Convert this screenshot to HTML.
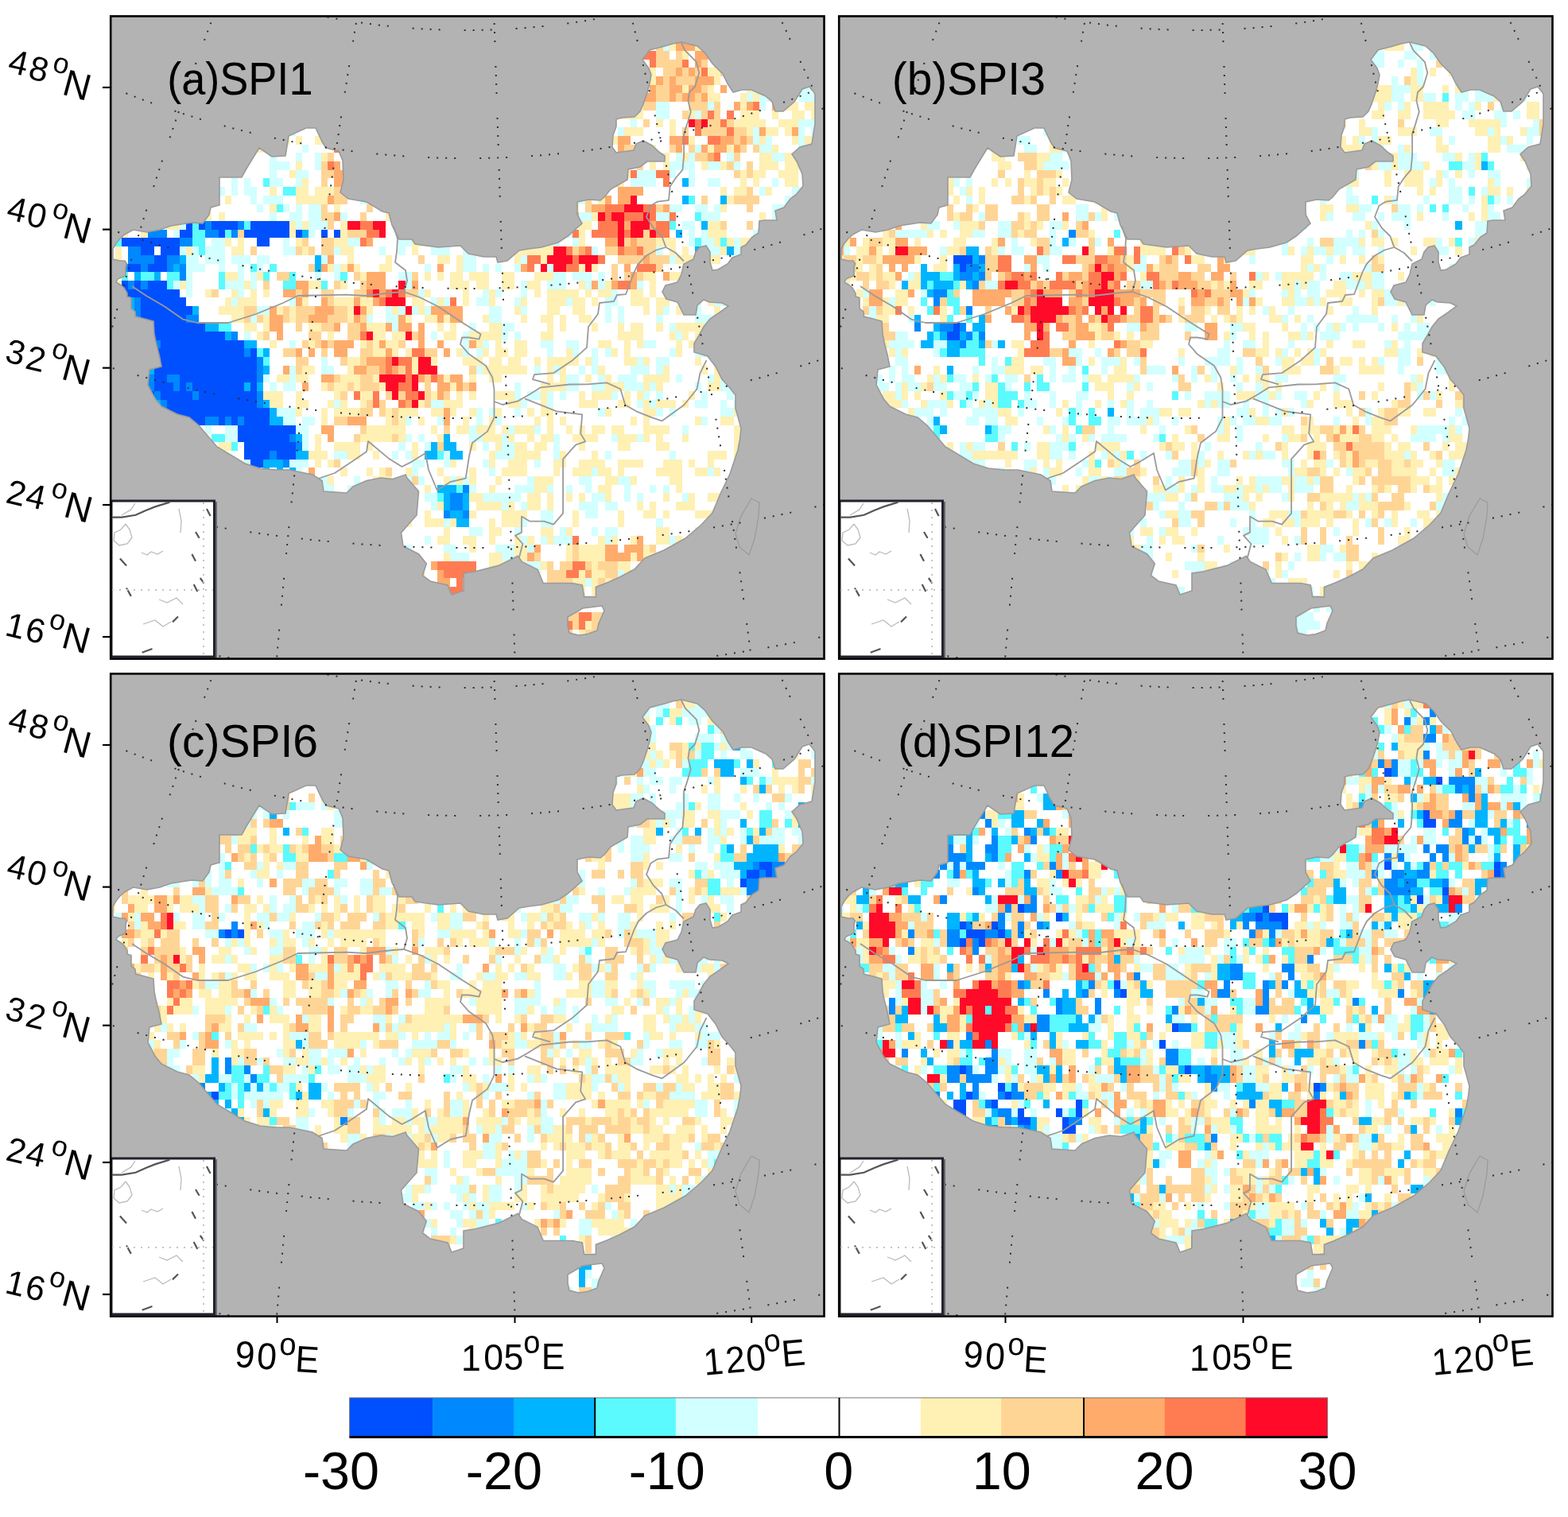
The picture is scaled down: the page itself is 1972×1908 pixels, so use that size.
<!DOCTYPE html><html><head><meta charset="utf-8"><title>SPI maps</title><style>html,body{margin:0;padding:0;background:#fff;}svg{display:block;}text{font-family:"Liberation Sans",Arial,sans-serif;}</style></head><body>
<svg xmlns="http://www.w3.org/2000/svg" width="1972" height="1908" viewBox="0 0 1972 1908">
<defs>
<path id="land" d="M142 313 L146 306 L151 300 L156.5 295 L167.5 289 L185 292 L201 289 L215 284 L241 280 L255 281 L263 270 L265 261 L276 258 L276 223 L304 223 L310 212 L321 194 L326 186 L342 197 L359 196 L363 171 L385 161 L397 161 L405 178 L410 186 L426 190 L431 202 L432 226 L428 242 L438 250 L461 254 L481 266 L489 268 L493 283 L502 301 L518 301 L522 307 L551 311 L579 309 L589 319 L608 323 L624 323 L626 330 L638 328 L653 315 L665 313 L681 311 L702 305 L714 297 L732 281 L726 270 L726 254 L740 251 L755 252 L760 248 L768 238 L789 226 L790 213 L805 210 L814 203 L836 203 L836 196 L830 192 L820 183 L809 177 L800 181 L797 189 L775 192 L770 185 L771 170 L775 159 L775 150 L782 148 L798 147 L805 140 L809 131 L814 116 L817 105 L819 94 L816 86 L808 75 L817 63 L836 58 L846 55 L857 53 L877 58 L887 67 L896 80 L909 93 L915 105 L922 116 L933 113 L945 113 L963 121 L971 128 L975 140 L985 140 L999 128 L1009 112 L1018 109 L1025 118 L1025 156 L1021 181 L1006 185 L996 194 L1002 203 L1009 219 L1010 234 L1001 245 L994 250 L986 261 L975 265 L977 277 L962 277 L955 278 L954 293 L946 298 L938 308 L932 311 L932 320 L921 324 L915 332 L903 339 L896 340 L893 330 L893 317 L888 309 L880 311 L875 317 L872 326 L860 332 L857 345 L852 355 L837 359 L833 367 L838 376 L852 380 L860 396 L875 396 L877 384 L885 377 L892 380 L908 381 L916 385 L905 393 L893 401 L885 411 L879 422 L873 432 L873 443 L890 448 L893 452 L900 461 L908 477 L918 488 L925 497 L925 514 L928 524 L932 539 L930.6 552 L928 566 L918 596 L906 621 L896 645 L882 660 L862 677 L835 692 L811 702 L798 716 L779 726 L762 733.5 L749.4 738.4 L749.4 750.6 L734.7 750.6 L732.3 736 L720 733.5 L683.3 733.5 L676 716.3 L656.3 706.5 L651.4 699.2 L627 711.4 L597.6 718.8 L583 721 L583 743 L568 748 L563 736 L541 731 L531.4 723.7 L536.3 709 L526.5 696.7 L507 687 L504.5 670 L515 658 L524 648 L526.5 618 L511.8 601 L510 597 L494 602.5 L479 601 L461 604.5 L444 612 L436 620 L407 618 L405 604.5 L393 597 L364 591 L347 591 L327 589 L308 583 L289 571.5 L273 562 L261 548 L250 535 L238 525 L223 521 L203 511 L195.5 502 L186 484 L188 465 L203 461 L200 446 L196 430 L194 420 L193 404 L182 401 L170.5 398 L170 392 L165 388 L165 374.5 L160 373 L160 368.6 L156 362 L151 358 L146 355 L148 351 L158 346.5 L158 336 L159.4 331.7 L157 328 L151 328 L142 326Z M714 776 L733 765 L757 762 L760 768 L753 784 L751 793 L739 797.5 L728 799 L716 796 L714 787Z"/>
<clipPath id="clipLand"><use href="#land"/></clipPath>
<clipPath id="clipPanel"><rect x="140" y="21" width="896" height="807"/></clipPath>
<g id="rivers" fill="none" stroke="#9a9a9a" stroke-width="1.8" stroke-linejoin="round"><polyline points="166,360 184,372 207,385.5 230,401.6 248,406 287,406 322,395 356,381 374.5,372 436,370.6 459,372 494,368 508,367 528,374 551,385.5 581,405.5 604.6,420.3 602.5,426.6 590,424.5 581,424.5 579,433 590,445.6 611,460 619.4,475 621.5,490 621.5,525.7 613,542.6 594,557 590,574 585.7,601.7 566.7,606 549.8,616.5 539,591 535,570 518,580.6 505.5,587 488.6,576.4 463,555 461,568 442,581 421,595 400,602"/><polyline points="508,367 512,353 510,340 497,330 499,317 500,300 495,285"/><polyline points="621.5,505 632,509 651,504.6 664,497.3 680,487.3 716.5,483.5 738,483.3 763,481.4 780.3,489.3 786.3,509.3 800.3,517.3 820.4,525.3 832.4,529.4 860.4,509.3 876.5,489.3 880.5,469.2 888.5,453.2"/><polyline points="692,483.3 670,477.2 672,471.2 696,469.2 720,453.2 738,437.2 740,411 752,395 754,381 772,379 776,371 787,370.2 792.3,356.3 797.5,342.4 802.7,332 813,321.5 825.3,314.5 837.5,311 832.3,297 821.8,286.7 813,272.8 818.4,258.8 827,253.6 841,251.9 842.7,234.5 849.7,224 858.4,213.6 860.1,196.2 860.1,168.3 863.6,157.9 868.8,140.5 865.4,126.6 867,116 874,109 879.3,91.7 875.8,77.8 861.9,63.9 857,54"/><polyline points="837.5,311 849.7,318 860,328.5"/><polyline points="660,501.3 700,517.3 732.2,521.3 730.2,545.4 736.2,555.4 724.2,559.4 708.1,577.4 708.1,645.6 696.1,659.6 684.1,655.6 666,655.6 656,649.6 656,669.6 648,673.6 657.4,684 653,701"/></g>
<g id="grat" clip-path="url(#clipPanel)" fill="none" stroke="#2e2e2e" stroke-width="2" stroke-dasharray="2 9 2 9 2 9 2 30"><path d="M146.6 -71.8 A938.0 938.0 0 0 0 1027.4 -71.8"/><path d="M40.5 62.8 A1164.0 1164.0 0 0 0 1133.5 62.8"/><path d="M-61.0 201.9 A1376.0 1376.0 0 0 0 1231.0 201.9"/><path d="M-128.6 351.8 A1488.0 1488.0 0 0 0 1268.6 351.8"/><path d="M-300.3 467.8 A1890.0 1890.0 0 0 0 1474.3 467.8"/><path d="M-421.4 596.6 A2148.0 2148.0 0 0 0 1595.4 596.6"/><polyline points="269.3,18.0 263.0,34.8 256.7,51.5 250.5,68.2 244.4,85.0 238.4,101.8 232.4,118.5 226.6,135.2 220.8,152.0 215.1,168.8 209.4,185.5 203.9,202.2 198.4,219.0 193.0,235.8 187.7,252.5 182.5,269.2 177.3,286.0 172.2,302.8 167.2,319.5 162.3,336.2 157.4,353.0 152.7,369.8 148.0,386.5 143.4,403.2 138.8,420.0"/><polyline points="449.7,18.0 444.1,51.8 438.6,85.7 433.3,119.5 428.0,153.3 422.9,187.2 417.9,221.0 413.1,254.8 408.3,288.7 403.6,322.5 399.1,356.3 394.7,390.2 390.4,424.0 386.2,457.8 382.2,491.7 378.2,525.5 374.4,559.3 370.7,593.2 367.1,627.0 363.6,660.8 360.2,694.7 357.0,728.5 353.8,762.3 350.8,796.2 347.9,830.0"/><polyline points="621.3,18.0 622.4,51.8 623.5,85.7 624.6,119.5 625.7,153.3 626.8,187.2 627.9,221.0 629.0,254.8 630.1,288.7 631.2,322.5 632.3,356.3 633.4,390.2 634.4,424.0 635.5,457.8 636.6,491.7 637.7,525.5 638.8,559.3 639.9,593.2 641.0,627.0 642.1,660.8 643.2,694.7 644.3,728.5 645.4,762.3 646.5,796.2 647.6,830.0"/><polyline points="793.2,18.0 801.6,51.8 809.8,85.7 817.8,119.5 825.6,153.3 833.3,187.2 840.8,221.0 848.1,254.8 855.2,288.7 862.1,322.5 868.9,356.3 875.5,390.2 881.9,424.0 888.1,457.8 894.2,491.7 900.1,525.5 905.8,559.3 911.3,593.2 916.7,627.0 921.8,660.8 926.8,694.7 931.7,728.5 936.3,762.3 940.8,796.2 945.1,830.0"/><polyline points="979.0,18.0 981.5,23.3 983.9,28.6 986.4,33.9 988.9,39.2 991.3,44.5 993.8,49.8 996.3,55.0 998.7,60.3 1001.2,65.6 1003.7,70.9 1006.1,76.2 1008.6,81.5 1011.1,86.8 1013.5,92.1 1016.0,97.4 1018.5,102.7 1020.9,108.0 1023.4,113.2 1025.9,118.5 1028.3,123.8 1030.8,129.1 1033.3,134.4 1035.7,139.7 1038.2,145.0"/></g>
<g id="insetc" fill="none"><g stroke="#555" stroke-width="2.2"><polyline points="140.5,650.7 153.2,650.7 170.6,647.8 183.4,642 195,637.4 213.5,631.6"/><polyline points="246,669 250.6,676.8"/><polyline points="241.4,697 246,705.8"/><polyline points="251.8,727 256.5,733.7"/><polyline points="243.7,735 248.3,744"/><polyline points="260,640 264.6,649"/><polyline points="159,739.5 164.8,749.9"/><polyline points="150.9,702.4 159,711.6"/><polyline points="217,782.4 224,775.5"/><polyline points="178.7,820.7 191.5,816"/></g><g stroke="#bbb" stroke-width="1.3"><polyline points="153,648 164.8,640.9 170,633"/><polyline points="158,659 163,666 166,676 160,684 150,686 143,680 144,670 152,666 158,659"/><polyline points="178,695 185,698 190,694 198,697 205,693"/><polyline points="200,754 210,758 222,752 230,760"/><polyline points="180,785 195,780 205,788 215,782"/><polyline points="225,640 228,655 227,670"/></g><g stroke="#c4c4c4" stroke-width="2" stroke-dasharray="2 7"><line x1="141" y1="742" x2="268" y2="742"/><line x1="256" y1="632" x2="256" y2="826"/></g></g>
</defs>
<g transform="translate(0,0)">
<rect x="140" y="21" width="896" height="807" fill="#b3b3b3"/>
<use href="#land" fill="#fff"/>
<g clip-path="url(#clipLand)">
<path fill="#fff0b4" d="M850 43h8v10h-8zM842 53h8v11h-8zM874 53h8v11h-8zM801 64h8v11h-8zM858 64h8v11h-8zM801 75h8v10h-8zM817 85h8v11h-8zM890 85h16v11h-16zM809 96h16v11h-16zM898 96h8v11h-8zM914 96h9v11h-9zM858 107h8v10h-8zM890 107h8v10h-8zM939 107h8v10h-8zM890 117h16v11h-16zM931 117h8v11h-8zM947 117h8v11h-8zM801 128h8v11h-8zM931 128h8v11h-8zM987 128h17v11h-17zM1012 128h16v11h-16zM777 139h32v11h-32zM866 139h8v11h-8zM931 139h24v11h-24zM971 139h8v11h-8zM996 139h16v11h-16zM1020 139h8v11h-8zM825 150h9v10h-9zM842 150h8v10h-8zM923 150h40v10h-40zM979 150h25v10h-25zM785 160h24v11h-24zM842 160h8v11h-8zM939 160h8v11h-8zM963 160h16v11h-16zM987 160h9v11h-9zM356 171h8v11h-8zM372 171h8v11h-8zM396 171h16v11h-16zM769 171h8v11h-8zM866 171h8v11h-8zM955 171h8v11h-8zM996 171h8v11h-8zM1012 171h16v11h-16zM315 182h16v10h-16zM817 182h8v10h-8zM890 182h8v10h-8zM914 182h9v10h-9zM971 182h8v10h-8zM404 192h8v11h-8zM825 192h17v11h-17zM858 192h8v11h-8zM955 192h16v11h-16zM987 192h17v11h-17zM372 203h8v11h-8zM817 203h8v11h-8zM834 203h8v11h-8zM882 203h8v11h-8zM906 203h8v11h-8zM955 203h24v11h-24zM987 203h25v11h-25zM364 214h8v10h-8zM785 214h8v10h-8zM931 214h8v10h-8zM947 214h16v10h-16zM979 214h25v10h-25zM380 224h8v11h-8zM777 224h8v11h-8zM931 224h8v11h-8zM947 224h8v11h-8zM987 224h17v11h-17zM266 235h9v11h-9zM339 235h9v11h-9zM372 235h16v11h-16zM396 235h24v11h-24zM906 235h8v11h-8zM923 235h16v11h-16zM963 235h8v11h-8zM283 246h8v11h-8zM372 246h40v11h-40zM720 246h8v11h-8zM752 246h9v11h-9zM914 246h9v11h-9zM996 246h8v11h-8zM339 257h9v10h-9zM420 257h8v10h-8zM720 257h8v10h-8zM906 257h8v10h-8zM258 267h8v11h-8zM275 267h8v11h-8zM485 267h8v11h-8zM744 267h8v11h-8zM955 267h8v11h-8zM210 278h16v11h-16zM364 278h8v11h-8zM380 278h8v11h-8zM428 278h9v11h-9zM728 278h16v11h-16zM890 278h16v11h-16zM153 289h8v10h-8zM177 289h9v10h-9zM364 289h8v10h-8zM428 289h9v10h-9zM728 289h8v10h-8zM890 289h24v10h-24zM283 299h8v11h-8zM299 299h8v11h-8zM372 299h8v11h-8zM420 299h17v11h-17zM518 299h16v11h-16zM542 299h8v11h-8zM688 299h8v11h-8zM728 299h8v11h-8zM825 299h25v11h-25zM898 299h8v11h-8zM914 299h9v11h-9zM931 299h16v11h-16zM145 310h8v11h-8zM234 310h8v11h-8zM291 310h16v11h-16zM380 310h8v11h-8zM428 310h17v11h-17zM518 310h8v11h-8zM590 310h9v11h-9zM647 310h49v11h-49zM842 310h8v11h-8zM858 310h8v11h-8zM906 310h8v11h-8zM145 321h8v11h-8zM437 321h8v11h-8zM485 321h8v11h-8zM550 321h16v11h-16zM574 321h8v11h-8zM647 321h8v11h-8zM680 321h8v11h-8zM850 321h32v11h-32zM890 321h16v11h-16zM412 332h8v10h-8zM428 332h9v10h-9zM445 332h8v10h-8zM477 332h16v10h-16zM574 332h8v10h-8zM728 332h8v10h-8zM744 332h8v10h-8zM858 332h8v10h-8zM283 342h16v11h-16zM323 342h8v11h-8zM453 342h8v11h-8zM534 342h8v11h-8zM550 342h8v11h-8zM566 342h16v11h-16zM590 342h25v11h-25zM631 342h16v11h-16zM672 342h24v11h-24zM809 342h16v11h-16zM842 342h16v11h-16zM145 353h8v11h-8zM226 353h8v11h-8zM307 353h8v11h-8zM388 353h16v11h-16zM428 353h9v11h-9zM566 353h24v11h-24zM599 353h16v11h-16zM631 353h16v11h-16zM663 353h17v11h-17zM728 353h8v11h-8zM761 353h8v11h-8zM817 353h8v11h-8zM258 364h8v10h-8zM291 364h8v10h-8zM315 364h8v10h-8zM331 364h8v10h-8zM534 364h8v10h-8zM582 364h8v10h-8zM615 364h8v10h-8zM672 364h8v10h-8zM688 364h40v10h-40zM736 364h8v10h-8zM752 364h17v10h-17zM793 364h16v10h-16zM817 364h8v10h-8zM283 374h8v11h-8zM299 374h24v11h-24zM380 374h8v11h-8zM420 374h25v11h-25zM453 374h16v11h-16zM518 374h16v11h-16zM550 374h8v11h-8zM582 374h8v11h-8zM615 374h8v11h-8zM655 374h8v11h-8zM688 374h24v11h-24zM720 374h16v11h-16zM744 374h8v11h-8zM793 374h24v11h-24zM825 374h17v11h-17zM890 374h8v11h-8zM275 385h32v11h-32zM348 385h8v11h-8zM364 385h8v11h-8zM437 385h8v11h-8zM461 385h8v11h-8zM493 385h8v11h-8zM526 385h8v11h-8zM647 385h8v11h-8zM688 385h16v11h-16zM720 385h16v11h-16zM809 385h8v11h-8zM825 385h9v11h-9zM850 385h8v11h-8zM898 385h8v11h-8zM291 396h16v10h-16zM331 396h8v10h-8zM364 396h8v10h-8zM437 396h8v10h-8zM510 396h8v10h-8zM534 396h16v10h-16zM558 396h8v10h-8zM607 396h8v10h-8zM655 396h8v10h-8zM680 396h16v10h-16zM704 396h8v10h-8zM728 396h16v10h-16zM898 396h8v10h-8zM307 406h16v11h-16zM331 406h8v11h-8zM388 406h16v11h-16zM461 406h24v11h-24zM550 406h8v11h-8zM566 406h8v11h-8zM615 406h16v11h-16zM688 406h8v11h-8zM704 406h8v11h-8zM744 406h8v11h-8zM777 406h8v11h-8zM793 406h16v11h-16zM825 406h9v11h-9zM850 406h40v11h-40zM323 417h8v11h-8zM412 417h8v11h-8zM469 417h16v11h-16zM493 417h17v11h-17zM558 417h16v11h-16zM590 417h41v11h-41zM680 417h16v11h-16zM777 417h32v11h-32zM842 417h8v11h-8zM858 417h8v11h-8zM874 417h8v11h-8zM339 428h9v10h-9zM388 428h8v10h-8zM453 428h8v10h-8zM469 428h8v10h-8zM485 428h16v10h-16zM599 428h8v10h-8zM623 428h8v10h-8zM647 428h16v10h-16zM752 428h17v10h-17zM785 428h8v10h-8zM801 428h8v10h-8zM850 428h8v10h-8zM866 428h8v10h-8zM469 438h16v11h-16zM493 438h8v11h-8zM510 438h8v11h-8zM574 438h8v11h-8zM607 438h8v11h-8zM623 438h16v11h-16zM647 438h16v11h-16zM712 438h8v11h-8zM769 438h8v11h-8zM785 438h8v11h-8zM850 438h8v11h-8zM437 449h16v11h-16zM518 449h8v11h-8zM542 449h8v11h-8zM582 449h25v11h-25zM615 449h16v11h-16zM639 449h16v11h-16zM672 449h8v11h-8zM688 449h40v11h-40zM736 449h8v11h-8zM785 449h16v11h-16zM809 449h8v11h-8zM874 449h8v11h-8zM380 460h16v11h-16zM437 460h8v11h-8zM518 460h8v11h-8zM607 460h56v11h-56zM688 460h8v11h-8zM704 460h8v11h-8zM752 460h9v11h-9zM834 460h8v11h-8zM882 460h8v11h-8zM898 460h8v11h-8zM348 471h16v10h-16zM372 471h16v10h-16zM428 471h25v10h-25zM469 471h8v10h-8zM558 471h8v10h-8zM590 471h9v10h-9zM615 471h16v10h-16zM688 471h8v10h-8zM704 471h8v10h-8zM736 471h8v10h-8zM761 471h8v10h-8zM809 471h33v10h-33zM898 471h8v10h-8zM404 481h8v11h-8zM420 481h17v11h-17zM445 481h8v11h-8zM477 481h8v11h-8zM566 481h8v11h-8zM680 481h32v11h-32zM761 481h24v11h-24zM809 481h8v11h-8zM825 481h9v11h-9zM890 481h16v11h-16zM331 492h25v11h-25zM372 492h8v11h-8zM420 492h8v11h-8zM453 492h16v11h-16zM542 492h8v11h-8zM574 492h8v11h-8zM590 492h9v11h-9zM623 492h24v11h-24zM680 492h8v11h-8zM728 492h8v11h-8zM744 492h25v11h-25zM785 492h8v11h-8zM801 492h8v11h-8zM866 492h8v11h-8zM339 503h17v10h-17zM372 503h16v10h-16zM412 503h8v10h-8zM428 503h9v10h-9zM453 503h8v10h-8zM526 503h8v10h-8zM558 503h24v10h-24zM639 503h16v10h-16zM680 503h8v10h-8zM728 503h24v10h-24zM777 503h16v10h-16zM809 503h8v10h-8zM825 503h25v10h-25zM858 503h8v10h-8zM372 513h8v11h-8zM404 513h8v11h-8zM420 513h33v11h-33zM485 513h8v11h-8zM501 513h25v11h-25zM542 513h16v11h-16zM566 513h8v11h-8zM590 513h9v11h-9zM623 513h8v11h-8zM663 513h9v11h-9zM680 513h16v11h-16zM761 513h8v11h-8zM809 513h16v11h-16zM923 513h8v11h-8zM404 524h8v11h-8zM485 524h8v11h-8zM501 524h9v11h-9zM526 524h8v11h-8zM582 524h8v11h-8zM615 524h8v11h-8zM672 524h8v11h-8zM688 524h8v11h-8zM704 524h8v11h-8zM793 524h8v11h-8zM809 524h8v11h-8zM874 524h8v11h-8zM906 524h17v11h-17zM461 535h49v11h-49zM542 535h8v11h-8zM574 535h16v11h-16zM599 535h24v11h-24zM631 535h8v11h-8zM647 535h25v11h-25zM688 535h8v11h-8zM712 535h8v11h-8zM728 535h8v11h-8zM744 535h17v11h-17zM769 535h16v11h-16zM809 535h33v11h-33zM923 535h8v11h-8zM396 546h8v10h-8zM453 546h40v10h-40zM501 546h9v10h-9zM550 546h8v10h-8zM607 546h24v10h-24zM639 546h8v10h-8zM663 546h9v10h-9zM680 546h16v10h-16zM720 546h32v10h-32zM777 546h24v10h-24zM809 546h8v10h-8zM825 546h9v10h-9zM858 546h8v10h-8zM923 546h8v10h-8zM275 556h16v11h-16zM396 556h8v11h-8zM420 556h33v11h-33zM461 556h8v11h-8zM518 556h8v11h-8zM590 556h9v11h-9zM623 556h8v11h-8zM647 556h16v11h-16zM672 556h16v11h-16zM728 556h8v11h-8zM777 556h16v11h-16zM825 556h17v11h-17zM923 556h8v11h-8zM388 567h24v11h-24zM437 567h16v11h-16zM469 567h8v11h-8zM518 567h8v11h-8zM615 567h8v11h-8zM647 567h33v11h-33zM704 567h8v11h-8zM744 567h8v11h-8zM890 567h24v11h-24zM923 567h8v11h-8zM396 578h8v10h-8zM412 578h8v10h-8zM566 578h8v10h-8zM615 578h8v10h-8zM639 578h24v10h-24zM696 578h16v10h-16zM728 578h33v10h-33zM777 578h32v10h-32zM834 578h24v10h-24zM866 578h8v10h-8zM890 578h8v10h-8zM428 588h9v11h-9zM461 588h8v11h-8zM477 588h8v11h-8zM510 588h8v11h-8zM550 588h8v11h-8zM590 588h9v11h-9zM631 588h32v11h-32zM696 588h8v11h-8zM720 588h24v11h-24zM752 588h17v11h-17zM777 588h8v11h-8zM825 588h33v11h-33zM874 588h16v11h-16zM898 588h8v11h-8zM412 599h8v11h-8zM469 599h24v11h-24zM501 599h9v11h-9zM558 599h8v11h-8zM574 599h8v11h-8zM590 599h9v11h-9zM623 599h8v11h-8zM672 599h24v11h-24zM761 599h16v11h-16zM793 599h8v11h-8zM842 599h16v11h-16zM534 610h8v10h-8zM615 610h8v10h-8zM672 610h16v10h-16zM752 610h17v10h-17zM850 610h8v10h-8zM428 620h9v11h-9zM590 620h17v11h-17zM663 620h17v11h-17zM688 620h8v11h-8zM712 620h8v11h-8zM728 620h8v11h-8zM761 620h8v11h-8zM834 620h8v11h-8zM866 620h8v11h-8zM890 620h16v11h-16zM550 631h8v11h-8zM599 631h32v11h-32zM639 631h8v11h-8zM663 631h17v11h-17zM688 631h8v11h-8zM801 631h8v11h-8zM817 631h8v11h-8zM850 631h24v11h-24zM534 642h8v10h-8zM590 642h9v10h-9zM631 642h32v10h-32zM720 642h8v10h-8zM777 642h8v10h-8zM809 642h16v10h-16zM834 642h8v10h-8zM874 642h24v10h-24zM510 652h8v11h-8zM534 652h24v11h-24zM566 652h8v11h-8zM615 652h8v11h-8zM631 652h24v11h-24zM720 652h8v11h-8zM777 652h8v11h-8zM558 663h8v11h-8zM615 663h16v11h-16zM680 663h16v11h-16zM712 663h8v11h-8zM825 663h17v11h-17zM874 663h8v11h-8zM550 674h16v11h-16zM582 674h17v11h-17zM615 674h8v11h-8zM647 674h8v11h-8zM663 674h9v11h-9zM688 674h8v11h-8zM752 674h9v11h-9zM769 674h8v11h-8zM793 674h8v11h-8zM825 674h17v11h-17zM850 674h8v11h-8zM590 685h9v10h-9zM647 685h16v10h-16zM712 685h8v10h-8zM728 685h33v10h-33zM809 685h8v10h-8zM558 695h8v11h-8zM615 695h16v11h-16zM647 695h16v11h-16zM712 695h8v11h-8zM728 695h33v11h-33zM793 695h8v11h-8zM809 695h25v11h-25zM615 706h24v11h-24zM680 706h8v11h-8zM744 706h8v11h-8zM777 706h16v11h-16zM672 717h8v10h-8zM728 717h8v10h-8zM744 717h17v10h-17zM785 717h8v10h-8zM720 727h16v11h-16zM744 727h8v11h-8zM761 727h8v11h-8zM728 738h8v11h-8zM744 738h8v11h-8zM761 760h8v10h-8zM736 781h8v11h-8zM728 792h8v10h-8z"/>
<path fill="#d2ffff" d="M834 53h8v11h-8zM809 107h8v10h-8zM947 107h8v10h-8zM1004 107h16v10h-16zM939 117h8v11h-8zM955 117h16v11h-16zM1004 117h24v11h-24zM825 128h17v11h-17zM890 128h8v11h-8zM955 128h8v11h-8zM825 139h17v11h-17zM874 139h8v11h-8zM793 150h8v10h-8zM1004 150h24v10h-24zM364 160h8v11h-8zM777 160h8v11h-8zM947 160h8v11h-8zM1004 160h8v11h-8zM1020 160h8v11h-8zM947 171h8v11h-8zM963 171h8v11h-8zM1004 171h8v11h-8zM380 182h8v10h-8zM874 182h8v10h-8zM955 182h16v10h-16zM1004 182h16v10h-16zM339 192h9v11h-9zM372 192h8v11h-8zM396 192h8v11h-8zM850 192h8v11h-8zM866 192h8v11h-8zM914 192h9v11h-9zM971 192h16v11h-16zM339 203h25v11h-25zM396 203h8v11h-8zM785 203h8v11h-8zM842 203h32v11h-32zM890 203h16v11h-16zM923 203h8v11h-8zM291 214h8v10h-8zM339 214h9v10h-9zM372 214h16v10h-16zM801 214h24v10h-24zM842 214h8v10h-8zM866 214h8v10h-8zM266 224h9v11h-9zM291 224h8v11h-8zM307 224h8v11h-8zM339 224h17v11h-17zM372 224h8v11h-8zM793 224h32v11h-32zM866 224h8v11h-8zM890 224h16v11h-16zM971 224h8v11h-8zM275 235h8v11h-8zM291 235h8v11h-8zM307 235h16v11h-16zM955 235h8v11h-8zM996 235h16v11h-16zM315 246h8v11h-8zM331 246h25v11h-25zM453 246h16v11h-16zM728 246h8v11h-8zM987 246h9v11h-9zM323 257h8v10h-8zM356 257h8v10h-8zM372 257h8v10h-8zM388 257h16v10h-16zM477 257h8v10h-8zM842 257h16v10h-16zM874 257h16v10h-16zM898 257h8v10h-8zM971 257h25v10h-25zM250 267h8v11h-8zM339 267h9v11h-9zM364 267h16v11h-16zM388 267h16v11h-16zM428 267h9v11h-9zM728 267h16v11h-16zM825 267h17v11h-17zM882 267h24v11h-24zM971 267h8v11h-8zM194 278h16v11h-16zM226 278h8v11h-8zM372 278h8v11h-8zM388 278h24v11h-24zM858 278h16v11h-16zM955 278h8v11h-8zM145 289h8v10h-8zM218 289h8v10h-8zM388 289h8v10h-8zM712 289h8v10h-8zM866 289h8v10h-8zM882 289h8v10h-8zM947 289h8v10h-8zM266 299h17v11h-17zM356 299h8v11h-8zM437 299h16v11h-16zM501 299h17v11h-17zM534 299h8v11h-8zM558 299h16v11h-16zM696 299h8v11h-8zM720 299h8v11h-8zM866 299h8v11h-8zM882 299h16v11h-16zM923 299h8v11h-8zM226 310h8v11h-8zM242 310h8v11h-8zM258 310h25v11h-25zM356 310h16v11h-16zM420 310h8v11h-8zM477 310h8v11h-8zM501 310h9v11h-9zM542 310h24v11h-24zM582 310h8v11h-8zM744 310h8v11h-8zM825 310h9v11h-9zM882 310h24v11h-24zM923 310h16v11h-16zM234 321h16v11h-16zM258 321h25v11h-25zM291 321h24v11h-24zM323 321h16v11h-16zM404 321h8v11h-8zM582 321h17v11h-17zM655 321h8v11h-8zM842 321h8v11h-8zM234 332h24v10h-24zM275 332h8v10h-8zM299 332h8v10h-8zM323 332h8v10h-8zM420 332h8v10h-8zM534 332h8v10h-8zM582 332h17v10h-17zM607 332h8v10h-8zM623 332h8v10h-8zM647 332h8v10h-8zM688 332h8v10h-8zM234 342h8v11h-8zM299 342h8v11h-8zM315 342h8v11h-8zM396 342h8v11h-8zM420 342h8v11h-8zM501 342h17v11h-17zM696 342h16v11h-16zM720 342h24v11h-24zM752 342h9v11h-9zM858 342h8v11h-8zM218 353h8v11h-8zM234 353h8v11h-8zM283 353h24v11h-24zM315 353h8v11h-8zM510 353h8v11h-8zM655 353h8v11h-8zM688 353h24v11h-24zM736 353h8v11h-8zM752 353h9v11h-9zM801 353h8v11h-8zM850 353h8v11h-8zM234 364h8v10h-8zM299 364h8v10h-8zM526 364h8v10h-8zM607 364h8v10h-8zM623 364h8v10h-8zM655 364h8v10h-8zM769 364h8v10h-8zM291 374h8v11h-8zM364 374h8v11h-8zM542 374h8v11h-8zM558 374h8v11h-8zM599 374h16v11h-16zM647 374h8v11h-8zM712 374h8v11h-8zM761 374h16v11h-16zM874 374h8v11h-8zM898 374h16v11h-16zM323 385h16v11h-16zM485 385h8v11h-8zM501 385h9v11h-9zM518 385h8v11h-8zM534 385h8v11h-8zM615 385h16v11h-16zM655 385h8v11h-8zM761 385h8v11h-8zM777 385h8v11h-8zM834 385h8v11h-8zM874 385h8v11h-8zM315 396h8v10h-8zM461 396h8v10h-8zM485 396h16v10h-16zM615 396h16v10h-16zM761 396h8v10h-8zM777 396h8v10h-8zM825 396h9v10h-9zM874 396h24v10h-24zM493 406h8v11h-8zM590 406h9v11h-9zM631 406h16v11h-16zM842 406h8v11h-8zM307 417h8v11h-8zM542 417h8v11h-8zM582 417h8v11h-8zM631 417h8v11h-8zM647 417h8v11h-8zM850 417h8v11h-8zM364 428h8v10h-8zM582 428h8v10h-8zM607 428h8v10h-8zM680 428h16v10h-16zM712 428h16v10h-16zM809 428h16v10h-16zM582 438h8v11h-8zM599 438h8v11h-8zM688 438h8v11h-8zM720 438h8v11h-8zM744 438h8v11h-8zM761 438h8v11h-8zM842 438h8v11h-8zM874 438h16v11h-16zM404 449h8v11h-8zM744 449h8v11h-8zM801 449h8v11h-8zM825 449h17v11h-17zM898 449h8v11h-8zM364 460h8v11h-8zM404 460h16v11h-16zM599 460h8v11h-8zM672 460h8v11h-8zM696 460h8v11h-8zM728 460h8v11h-8zM744 460h8v11h-8zM793 460h24v11h-24zM825 460h9v11h-9zM331 471h8v10h-8zM364 471h8v10h-8zM712 471h16v10h-16zM752 471h9v10h-9zM777 471h24v10h-24zM850 471h8v10h-8zM890 471h8v10h-8zM906 471h8v10h-8zM339 481h9v11h-9zM356 481h16v11h-16zM647 481h8v11h-8zM712 481h16v11h-16zM744 481h17v11h-17zM785 481h24v11h-24zM817 481h8v11h-8zM874 481h8v11h-8zM906 481h17v11h-17zM647 492h8v11h-8zM663 492h17v11h-17zM688 492h8v11h-8zM704 492h8v11h-8zM769 492h8v11h-8zM809 492h8v11h-8zM825 492h9v11h-9zM882 492h8v11h-8zM914 492h9v11h-9zM420 503h8v10h-8zM542 503h16v10h-16zM655 503h8v10h-8zM688 503h8v10h-8zM801 503h8v10h-8zM817 503h8v10h-8zM874 503h16v10h-16zM906 503h8v10h-8zM923 503h8v10h-8zM348 513h24v11h-24zM599 513h8v11h-8zM615 513h8v11h-8zM647 513h8v11h-8zM752 513h9v11h-9zM825 513h9v11h-9zM842 513h8v11h-8zM906 513h17v11h-17zM356 524h16v11h-16zM380 524h16v11h-16zM510 524h8v11h-8zM550 524h8v11h-8zM599 524h8v11h-8zM623 524h8v11h-8zM882 524h8v11h-8zM258 535h8v11h-8zM283 535h16v11h-16zM372 535h16v11h-16zM590 535h9v11h-9zM639 535h8v11h-8zM672 535h8v11h-8zM858 535h8v11h-8zM283 546h16v10h-16zM380 546h8v10h-8zM510 546h8v10h-8zM526 546h8v10h-8zM590 546h17v10h-17zM631 546h8v10h-8zM696 546h8v10h-8zM769 546h8v10h-8zM801 546h8v10h-8zM931 546h8v10h-8zM380 556h8v11h-8zM501 556h9v11h-9zM534 556h8v11h-8zM607 556h8v11h-8zM631 556h16v11h-16zM696 556h8v11h-8zM420 567h17v11h-17zM493 567h8v11h-8zM510 567h8v11h-8zM558 567h8v11h-8zM623 567h24v11h-24zM696 567h8v11h-8zM761 567h8v11h-8zM842 567h8v11h-8zM307 578h8v10h-8zM364 578h24v10h-24zM518 578h16v10h-16zM558 578h8v10h-8zM607 578h8v10h-8zM672 578h8v10h-8zM323 588h8v11h-8zM356 588h8v11h-8zM372 588h8v11h-8zM518 588h8v11h-8zM615 588h8v11h-8zM744 588h8v11h-8zM890 588h8v11h-8zM404 599h8v11h-8zM445 599h8v11h-8zM510 599h8v11h-8zM526 599h8v11h-8zM566 599h8v11h-8zM582 599h8v11h-8zM663 599h9v11h-9zM728 599h16v11h-16zM777 599h16v11h-16zM404 610h16v10h-16zM437 610h16v10h-16zM590 610h9v10h-9zM647 610h25v10h-25zM688 610h8v10h-8zM712 610h8v10h-8zM736 610h8v10h-8zM785 610h8v10h-8zM817 610h8v10h-8zM834 610h8v10h-8zM534 620h16v11h-16zM607 620h48v11h-48zM744 620h17v11h-17zM785 620h8v11h-8zM801 620h8v11h-8zM858 620h8v11h-8zM542 631h8v11h-8zM631 631h8v11h-8zM655 631h8v11h-8zM728 631h24v11h-24zM761 631h16v11h-16zM680 642h16v10h-16zM736 642h16v10h-16zM558 652h8v11h-8zM655 652h8v11h-8zM680 652h16v11h-16zM825 652h9v11h-9zM590 663h17v11h-17zM647 663h8v11h-8zM704 663h8v11h-8zM744 663h8v11h-8zM761 663h16v11h-16zM534 674h8v11h-8zM655 674h8v11h-8zM680 674h8v11h-8zM696 674h24v11h-24zM761 674h8v11h-8zM842 674h8v11h-8zM510 685h8v10h-8zM558 685h16v10h-16zM623 685h24v10h-24zM663 685h9v10h-9zM566 695h24v11h-24zM631 695h16v11h-16zM655 706h25v11h-25zM777 717h8v10h-8zM582 727h8v11h-8zM736 727h8v11h-8zM582 738h8v11h-8z"/>
<path fill="#ffd596" d="M825 53h9v11h-9zM882 53h8v11h-8zM825 64h17v11h-17zM850 64h8v11h-8zM890 64h8v11h-8zM825 75h33v10h-33zM882 75h8v10h-8zM898 75h8v10h-8zM834 85h16v11h-16zM858 85h8v11h-8zM874 85h8v11h-8zM906 85h8v11h-8zM834 96h8v11h-8zM850 96h24v11h-24zM825 107h17v10h-17zM882 107h8v10h-8zM825 117h17v11h-17zM850 117h8v11h-8zM874 117h8v11h-8zM809 128h16v11h-16zM866 128h24v11h-24zM898 128h8v11h-8zM858 139h8v11h-8zM882 139h8v11h-8zM898 139h8v11h-8zM809 150h8v10h-8zM890 150h16v10h-16zM914 150h9v10h-9zM858 160h8v11h-8zM882 160h32v11h-32zM923 160h16v11h-16zM923 171h8v11h-8zM939 171h8v11h-8zM785 182h16v10h-16zM842 182h8v10h-8zM866 182h8v10h-8zM931 182h8v10h-8zM947 182h8v10h-8zM412 192h8v11h-8zM874 192h16v11h-16zM923 192h8v11h-8zM404 203h8v11h-8zM801 203h8v11h-8zM914 203h9v11h-9zM939 203h8v11h-8zM404 214h16v10h-16zM923 214h8v10h-8zM939 214h8v10h-8zM404 224h8v11h-8zM420 235h17v11h-17zM939 235h8v11h-8zM420 246h17v11h-17zM736 246h8v11h-8zM882 246h8v11h-8zM923 246h32v11h-32zM404 257h8v10h-8zM461 257h8v10h-8zM736 257h8v10h-8zM825 257h9v10h-9zM939 257h8v10h-8zM404 267h16v11h-16zM453 267h8v11h-8zM412 278h8v11h-8zM906 278h8v11h-8zM939 278h8v11h-8zM299 289h8v10h-8zM437 289h24v10h-24zM809 289h8v10h-8zM380 299h8v11h-8zM404 299h16v11h-16zM785 299h8v11h-8zM801 299h24v11h-24zM315 310h8v11h-8zM372 310h8v11h-8zM388 310h8v11h-8zM404 310h16v11h-16zM720 310h8v11h-8zM761 310h16v11h-16zM809 310h16v11h-16zM526 321h8v11h-8zM777 321h32v11h-32zM817 321h25v11h-25zM388 332h8v10h-8zM769 332h8v10h-8zM825 332h9v10h-9zM348 342h16v11h-16zM445 342h8v11h-8zM518 342h8v11h-8zM769 342h8v11h-8zM785 342h8v11h-8zM801 342h8v11h-8zM331 353h8v11h-8zM420 353h8v11h-8zM453 353h8v11h-8zM266 364h9v10h-9zM372 364h8v10h-8zM404 364h16v10h-16zM445 364h16v10h-16zM510 364h16v10h-16zM412 374h8v11h-8zM307 385h16v11h-16zM356 385h8v11h-8zM372 385h24v11h-24zM420 385h17v11h-17zM307 396h8v10h-8zM323 396h8v10h-8zM356 396h8v10h-8zM372 396h16v10h-16zM412 396h25v10h-25zM453 396h8v10h-8zM372 406h8v11h-8zM404 406h16v11h-16zM437 406h16v11h-16zM331 417h8v11h-8zM388 417h16v11h-16zM437 417h16v11h-16zM518 417h8v11h-8zM380 428h8v10h-8zM396 428h8v10h-8zM412 428h8v10h-8zM461 428h8v10h-8zM501 428h9v10h-9zM356 438h16v11h-16zM404 438h8v11h-8zM453 438h16v11h-16zM534 438h16v11h-16zM372 449h16v11h-16zM428 449h9v11h-9zM453 449h8v11h-8zM372 460h8v11h-8zM461 460h16v11h-16zM501 460h9v11h-9zM590 460h9v11h-9zM420 471h8v10h-8zM453 471h16v10h-16zM534 471h8v10h-8zM412 481h8v11h-8zM437 481h8v11h-8zM453 481h24v11h-24zM534 481h8v11h-8zM582 481h8v11h-8zM428 492h9v11h-9zM485 492h8v11h-8zM501 492h9v11h-9zM534 492h8v11h-8zM558 492h8v11h-8zM461 503h8v10h-8zM477 503h8v10h-8zM534 503h8v10h-8zM453 513h16v11h-16zM477 513h8v11h-8zM493 513h8v11h-8zM420 524h17v11h-17zM493 524h8v11h-8zM453 535h8v11h-8zM558 535h8v11h-8zM445 546h8v10h-8zM493 546h8v10h-8zM550 556h8v11h-8zM420 578h8v10h-8zM485 588h8v11h-8zM518 599h8v11h-8zM720 685h8v10h-8zM817 685h8v10h-8zM672 695h8v11h-8zM720 695h8v11h-8zM526 706h8v11h-8zM688 706h8v11h-8zM704 706h16v11h-16zM736 706h8v11h-8zM752 706h25v11h-25zM526 717h8v10h-8zM688 717h24v10h-24zM761 717h16v10h-16zM688 727h32v11h-32zM752 727h9v11h-9zM769 727h8v11h-8zM720 760h8v10h-8zM712 770h16v11h-16zM744 770h17v11h-17zM720 781h8v11h-8zM744 781h17v11h-17zM712 792h8v10h-8zM736 792h16v10h-16z"/>
<path fill="#5afaff" d="M331 224h8v11h-8zM356 235h16v11h-16zM866 246h8v11h-8zM348 257h8v10h-8zM874 267h8v11h-8zM242 278h8v11h-8zM307 278h8v11h-8zM842 278h8v11h-8zM242 289h16v10h-16zM283 289h8v10h-8zM145 299h8v11h-8zM242 299h16v11h-16zM874 299h8v11h-8zM906 299h8v11h-8zM250 310h8v11h-8zM315 332h8v10h-8zM339 332h9v10h-9zM153 342h8v11h-8zM177 342h17v11h-17zM210 342h16v11h-16zM275 342h8v11h-8zM331 342h8v11h-8zM364 342h8v11h-8zM428 342h9v11h-9zM210 353h8v11h-8zM275 353h8v11h-8zM356 353h16v11h-16zM404 353h8v11h-8zM275 406h16v11h-16zM323 438h8v11h-8zM331 449h8v11h-8zM266 546h17v10h-17zM291 556h8v11h-8zM550 567h8v11h-8zM574 610h8v10h-8zM550 620h8v11h-8z"/>
<path fill="#ffab6b" d="M850 53h24v11h-24zM874 64h16v11h-16zM874 75h8v10h-8zM850 85h8v11h-8zM866 85h8v11h-8zM825 96h9v11h-9zM842 96h8v11h-8zM874 96h24v11h-24zM817 107h8v10h-8zM842 107h16v10h-16zM866 107h16v10h-16zM906 107h8v10h-8zM809 117h16v11h-16zM842 117h8v11h-8zM858 117h16v11h-16zM882 117h8v11h-8zM923 128h8v11h-8zM939 128h8v11h-8zM971 128h8v11h-8zM955 160h8v11h-8zM996 160h8v11h-8zM777 171h16v11h-16zM842 171h16v11h-16zM906 171h17v11h-17zM931 171h8v11h-8zM777 182h8v10h-8zM850 182h8v10h-8zM882 182h8v10h-8zM898 182h16v10h-16zM923 182h8v10h-8zM769 192h8v11h-8zM890 192h8v11h-8zM420 203h8v11h-8zM420 214h17v10h-17zM420 224h17v11h-17zM769 224h8v11h-8zM777 235h32v11h-32zM412 246h8v11h-8zM761 246h8v11h-8zM777 246h16v11h-16zM744 257h17v10h-17zM834 257h8v10h-8zM420 267h8v11h-8zM720 267h8v11h-8zM785 278h8v11h-8zM817 278h8v11h-8zM461 299h8v11h-8zM761 299h16v11h-16zM793 299h8v11h-8zM728 310h8v11h-8zM785 310h16v11h-16zM412 321h8v11h-8zM809 321h8v11h-8zM404 332h8v10h-8zM437 332h8v10h-8zM550 332h8v10h-8zM655 332h8v10h-8zM785 332h8v10h-8zM461 342h24v11h-24zM793 342h8v11h-8zM834 342h8v11h-8zM372 353h16v11h-16zM461 353h24v11h-24zM518 353h8v11h-8zM744 353h8v11h-8zM769 353h8v11h-8zM793 353h8v11h-8zM356 364h16v10h-16zM380 364h8v10h-8zM477 364h8v10h-8zM372 374h8v11h-8zM404 374h8v11h-8zM445 374h8v11h-8zM469 374h8v11h-8zM339 385h9v11h-9zM396 385h24v11h-24zM453 385h8v11h-8zM542 385h40v11h-40zM339 396h17v10h-17zM388 396h24v10h-24zM445 396h8v10h-8zM501 396h9v10h-9zM550 396h8v10h-8zM566 396h16v10h-16zM339 406h17v11h-17zM420 406h8v11h-8zM453 406h8v11h-8zM485 406h8v11h-8zM501 406h17v11h-17zM526 406h8v11h-8zM348 417h8v11h-8zM526 417h8v11h-8zM404 428h8v10h-8zM420 428h25v10h-25zM477 428h8v10h-8zM526 428h8v10h-8zM550 428h8v10h-8zM590 428h9v10h-9zM372 438h8v11h-8zM388 438h8v11h-8zM420 438h17v11h-17zM485 438h8v11h-8zM558 438h8v11h-8zM461 449h24v11h-24zM356 460h8v11h-8zM445 460h16v11h-16zM477 460h8v11h-8zM493 460h8v11h-8zM404 471h16v10h-16zM526 471h8v10h-8zM550 471h8v10h-8zM566 471h16v10h-16zM380 481h8v11h-8zM550 481h16v11h-16zM574 481h8v11h-8zM590 481h9v11h-9zM550 492h8v11h-8zM510 503h8v10h-8zM558 513h8v11h-8zM437 524h24v11h-24zM558 524h8v11h-8zM404 535h16v11h-16zM412 546h8v10h-8zM388 588h8v11h-8zM801 674h8v11h-8zM672 685h8v10h-8zM761 685h16v10h-16zM785 685h24v10h-24zM663 695h9v11h-9zM761 695h32v11h-32zM801 695h8v11h-8zM542 706h8v11h-8zM550 717h8v10h-8zM736 717h8v10h-8zM793 717h8v10h-8zM550 727h16v11h-16zM558 738h8v11h-8z"/>
<path fill="#ff7c52" d="M809 64h16v11h-16zM817 75h8v10h-8zM858 75h8v10h-8zM882 85h8v11h-8zM947 128h8v11h-8zM890 139h8v11h-8zM914 139h9v11h-9zM874 150h8v10h-8zM906 150h8v10h-8zM874 160h8v11h-8zM914 160h9v11h-9zM858 171h8v11h-8zM890 171h16v11h-16zM420 182h8v10h-8zM898 192h8v11h-8zM412 203h8v11h-8zM793 214h8v10h-8zM825 214h17v10h-17zM834 224h8v11h-8zM761 257h24v10h-24zM809 257h16v10h-16zM761 267h8v11h-8zM785 267h24v11h-24zM817 267h8v11h-8zM842 267h8v11h-8zM453 278h16v11h-16zM752 278h25v11h-25zM825 278h17v11h-17zM461 289h16v10h-16zM720 289h8v10h-8zM744 289h33v10h-33zM785 289h8v10h-8zM825 289h17v10h-17zM453 299h8v11h-8zM712 310h8v11h-8zM736 310h8v11h-8zM777 310h8v11h-8zM801 310h8v11h-8zM663 321h17v11h-17zM720 321h8v11h-8zM752 321h9v11h-9zM663 332h9v10h-9zM712 332h16v10h-16zM801 332h24v10h-24zM777 353h16v11h-16zM461 364h8v10h-8zM485 364h8v10h-8zM501 364h9v10h-9zM477 374h8v11h-8zM566 374h8v11h-8zM453 417h8v11h-8zM518 438h16v11h-16zM485 449h8v11h-8zM501 449h17v11h-17zM485 460h8v11h-8zM510 460h8v11h-8zM510 471h8v10h-8zM542 471h8v10h-8zM501 481h17v11h-17zM445 492h8v11h-8zM469 492h8v11h-8zM510 492h16v11h-16zM469 503h8v10h-8zM501 503h9v10h-9zM720 674h8v11h-8zM550 706h49v11h-49zM720 706h16v11h-16zM558 717h41v10h-41zM712 717h16v10h-16zM574 727h8v11h-8zM566 738h16v11h-16zM728 770h16v11h-16zM712 781h8v11h-8zM728 781h8v11h-8z"/>
<path fill="#00b4ff" d="M858 224h8v11h-8zM858 246h8v11h-8zM906 246h8v11h-8zM882 278h8v11h-8zM380 289h8v10h-8zM850 289h8v10h-8zM874 310h8v11h-8zM914 310h9v11h-9zM226 321h8v11h-8zM396 321h8v11h-8zM218 332h8v10h-8zM396 332h8v10h-8zM169 342h8v11h-8zM194 342h8v11h-8zM161 374h8v11h-8zM161 385h8v11h-8zM242 385h8v11h-8zM186 406h8v11h-8zM258 406h17v11h-17zM283 417h8v11h-8zM307 428h16v10h-16zM331 438h8v11h-8zM194 449h8v11h-8zM186 460h8v11h-8zM331 460h8v11h-8zM307 481h8v11h-8zM323 481h8v11h-8zM194 503h8v10h-8zM331 503h8v10h-8zM202 513h8v11h-8zM339 513h9v11h-9zM339 524h17v11h-17zM372 546h8v10h-8zM558 546h8v10h-8zM542 556h8v11h-8zM558 556h16v11h-16zM372 567h16v11h-16zM534 567h16v11h-16zM566 567h16v11h-16zM331 578h25v10h-25zM331 588h8v11h-8zM348 588h8v11h-8zM364 588h8v11h-8zM550 610h24v10h-24zM558 620h8v11h-8zM582 620h8v11h-8zM558 631h8v11h-8zM582 631h8v11h-8zM566 642h16v10h-16zM574 652h16v11h-16z"/>
<path fill="#0088ff" d="M258 278h8v11h-8zM299 278h8v11h-8zM186 289h24v10h-24zM258 289h17v10h-17zM291 289h8v10h-8zM226 299h16v11h-16zM161 310h16v11h-16zM161 321h33v11h-33zM210 321h16v11h-16zM153 332h8v10h-8zM177 332h9v10h-9zM210 332h8v10h-8zM226 332h8v10h-8zM226 342h8v11h-8zM161 353h8v11h-8zM177 353h9v11h-9zM169 374h8v11h-8zM169 385h8v11h-8zM169 396h8v10h-8zM234 396h16v10h-16zM186 417h8v11h-8zM291 417h8v11h-8zM194 428h8v10h-8zM307 438h8v11h-8zM323 449h8v11h-8zM323 460h8v11h-8zM177 471h17v10h-17zM210 471h16v10h-16zM323 471h8v10h-8zM177 481h17v11h-17zM218 481h8v11h-8zM234 481h8v11h-8zM194 492h8v11h-8zM242 492h8v11h-8zM323 492h8v11h-8zM202 503h8v10h-8zM323 503h8v10h-8zM258 524h17v11h-17zM283 524h8v11h-8zM299 524h8v11h-8zM364 546h8v10h-8zM372 556h8v11h-8zM339 567h9v11h-9zM356 578h8v10h-8zM582 610h8v10h-8zM566 620h16v11h-16zM566 631h16v11h-16zM558 642h8v10h-8zM582 642h8v10h-8z"/>
<path fill="#0050ff" d="M234 278h8v11h-8zM250 278h8v11h-8zM266 278h33v11h-33zM315 278h49v11h-49zM226 289h16v10h-16zM275 289h8v10h-8zM307 289h57v10h-57zM372 289h8v10h-8zM404 289h8v10h-8zM420 289h8v10h-8zM153 299h73v11h-73zM323 299h16v11h-16zM177 310h17v11h-17zM202 310h24v11h-24zM194 321h16v11h-16zM161 332h16v10h-16zM186 332h24v10h-24zM153 353h8v11h-8zM169 353h8v11h-8zM186 353h24v11h-24zM153 364h73v10h-73zM177 374h57v11h-57zM177 385h65v11h-65zM177 396h57v10h-57zM194 406h64v11h-64zM194 417h89v11h-89zM202 428h105v10h-105zM194 438h113v11h-113zM315 438h8v11h-8zM202 449h121v11h-121zM194 460h129v11h-129zM194 471h16v10h-16zM226 471h97v10h-97zM194 481h24v11h-24zM226 481h8v11h-8zM242 481h65v11h-65zM315 481h8v11h-8zM186 492h8v11h-8zM202 492h40v11h-40zM250 492h73v11h-73zM210 503h113v10h-113zM210 513h129v11h-129zM234 524h24v11h-24zM275 524h8v11h-8zM291 524h8v11h-8zM307 524h32v11h-32zM299 535h73v11h-73zM299 546h65v10h-65zM307 556h65v11h-65zM307 567h32v11h-32zM348 567h24v11h-24zM315 578h16v10h-16z"/>
<path fill="#ff0a28" d="M866 150h8v10h-8zM882 150h8v10h-8zM793 246h8v11h-8zM785 257h24v10h-24zM752 267h9v11h-9zM769 267h16v11h-16zM809 267h8v11h-8zM437 278h16v11h-16zM469 278h16v11h-16zM777 278h8v11h-8zM793 278h24v11h-24zM477 289h8v10h-8zM777 289h8v10h-8zM793 289h16v10h-16zM817 289h8v10h-8zM777 299h8v11h-8zM696 310h16v11h-16zM688 321h32v11h-32zM728 321h24v11h-24zM680 332h8v10h-8zM696 332h16v10h-16zM736 332h8v10h-8zM501 353h9v11h-9zM469 364h8v10h-8zM493 364h8v10h-8zM485 374h25v11h-25zM445 385h8v11h-8zM510 385h8v11h-8zM461 417h8v11h-8zM510 417h8v11h-8zM493 449h8v11h-8zM526 449h16v11h-16zM526 460h24v11h-24zM477 471h33v10h-33zM518 471h8v10h-8zM485 481h16v11h-16zM518 481h8v11h-8zM493 492h8v11h-8zM526 492h8v11h-8zM518 503h8v10h-8z"/>
</g>
<use href="#land" fill="none" stroke="#9a9a9a" stroke-width="1.6"/>
<polygon points="945,627 955,632 954,649 949,677.5 942,698 930,688 925,671 932,649" fill="none" stroke="#9a9a9a" stroke-width="1.2"/>
<use href="#rivers"/>
<use href="#grat"/>
<rect x="140" y="630" width="129.5" height="196" fill="#fff" stroke="#22222e" stroke-width="3"/>
<rect x="271" y="631" width="2" height="197" fill="#666870"/>
<use href="#insetc"/>
<rect x="139.2" y="20.4" width="897.3" height="808.2" fill="none" stroke="#000" stroke-width="2.6"/>
</g>
<g transform="translate(916,0)">
<rect x="140" y="21" width="896" height="807" fill="#b3b3b3"/>
<use href="#land" fill="#fff"/>
<g clip-path="url(#clipLand)">
<path fill="#fff0b4" d="M825 53h25v11h-25zM882 53h8v11h-8zM858 85h8v11h-8zM882 85h8v11h-8zM906 85h8v11h-8zM858 96h8v11h-8zM914 96h9v11h-9zM809 107h25v10h-25zM858 107h16v10h-16zM898 107h8v10h-8zM914 107h9v10h-9zM809 117h25v11h-25zM858 117h16v11h-16zM963 117h8v11h-8zM817 128h8v11h-8zM850 128h8v11h-8zM874 128h32v11h-32zM939 128h8v11h-8zM1004 128h16v11h-16zM809 139h16v11h-16zM842 139h16v11h-16zM874 139h40v11h-40zM1004 139h16v11h-16zM769 150h8v10h-8zM793 150h8v10h-8zM890 150h16v10h-16zM931 150h40v10h-40zM793 160h16v11h-16zM842 160h24v11h-24zM939 160h16v11h-16zM963 160h8v11h-8zM996 160h8v11h-8zM404 171h8v11h-8zM761 171h16v11h-16zM785 171h8v11h-8zM817 171h17v11h-17zM890 171h8v11h-8zM955 171h16v11h-16zM979 171h8v11h-8zM404 182h16v10h-16zM769 182h32v10h-32zM850 182h8v10h-8zM890 182h16v10h-16zM955 182h16v10h-16zM331 192h17v11h-17zM388 192h16v11h-16zM817 192h25v11h-25zM914 192h9v11h-9zM939 192h8v11h-8zM996 192h8v11h-8zM339 203h17v11h-17zM388 203h8v11h-8zM809 203h8v11h-8zM834 203h8v11h-8zM874 203h8v11h-8zM939 203h8v11h-8zM1004 203h8v11h-8zM372 214h8v10h-8zM412 214h8v10h-8zM825 214h9v10h-9zM850 214h24v10h-24zM890 214h8v10h-8zM914 214h9v10h-9zM275 224h8v11h-8zM331 224h8v11h-8zM348 224h8v11h-8zM372 224h16v11h-16zM396 224h16v11h-16zM420 224h8v11h-8zM777 224h16v11h-16zM825 224h9v11h-9zM850 224h24v11h-24zM890 224h8v11h-8zM955 224h8v11h-8zM266 235h17v11h-17zM299 235h8v11h-8zM315 235h8v11h-8zM380 235h8v11h-8zM396 235h8v11h-8zM412 235h8v11h-8zM428 235h9v11h-9zM866 235h8v11h-8zM882 235h8v11h-8zM955 235h16v11h-16zM979 235h8v11h-8zM1004 235h8v11h-8zM283 246h8v11h-8zM315 246h8v11h-8zM372 246h8v11h-8zM420 246h17v11h-17zM461 246h8v11h-8zM825 246h9v11h-9zM947 246h8v11h-8zM307 257h8v10h-8zM469 257h8v10h-8zM744 257h17v10h-17zM777 257h16v10h-16zM947 257h8v10h-8zM283 267h8v11h-8zM372 267h8v11h-8zM469 267h8v11h-8zM744 267h8v11h-8zM866 267h8v11h-8zM931 267h8v11h-8zM947 267h8v11h-8zM242 278h8v11h-8zM291 278h24v11h-24zM372 278h8v11h-8zM388 278h8v11h-8zM420 278h8v11h-8zM801 278h8v11h-8zM194 289h8v10h-8zM250 289h8v10h-8zM266 289h9v10h-9zM291 289h16v10h-16zM364 289h8v10h-8zM453 289h8v10h-8zM955 289h8v10h-8zM145 299h8v11h-8zM169 299h8v11h-8zM194 299h16v11h-16zM234 299h8v11h-8zM283 299h16v11h-16zM331 299h8v11h-8zM380 299h8v11h-8zM518 299h16v11h-16zM566 299h16v11h-16zM680 299h8v11h-8zM793 299h8v11h-8zM809 299h16v11h-16zM834 299h8v11h-8zM874 299h16v11h-16zM906 299h8v11h-8zM939 299h8v11h-8zM161 310h16v11h-16zM186 310h8v11h-8zM202 310h8v11h-8zM275 310h16v11h-16zM331 310h8v11h-8zM477 310h8v11h-8zM518 310h32v11h-32zM574 310h8v11h-8zM647 310h16v11h-16zM704 310h8v11h-8zM728 310h8v11h-8zM752 310h9v11h-9zM858 310h8v11h-8zM914 310h9v11h-9zM137 321h8v11h-8zM161 321h8v11h-8zM186 321h8v11h-8zM234 321h8v11h-8zM266 321h9v11h-9zM501 321h9v11h-9zM582 321h17v11h-17zM623 321h8v11h-8zM720 321h16v11h-16zM769 321h8v11h-8zM793 321h8v11h-8zM817 321h8v11h-8zM161 332h8v10h-8zM177 332h9v10h-9zM258 332h17v10h-17zM501 332h9v10h-9zM534 332h8v10h-8zM720 332h8v10h-8zM736 332h8v10h-8zM145 342h16v11h-16zM177 342h9v11h-9zM194 342h16v11h-16zM234 342h8v11h-8zM518 342h8v11h-8zM672 342h8v11h-8zM696 342h40v11h-40zM785 342h24v11h-24zM842 342h8v11h-8zM145 353h8v11h-8zM202 353h8v11h-8zM226 353h16v11h-16zM291 353h8v11h-8zM607 353h8v11h-8zM623 353h8v11h-8zM655 353h17v11h-17zM696 353h16v11h-16zM720 353h8v11h-8zM761 353h16v11h-16zM801 353h8v11h-8zM161 364h8v10h-8zM210 364h16v10h-16zM647 364h8v10h-8zM704 364h8v10h-8zM752 364h25v10h-25zM793 364h8v10h-8zM809 364h16v10h-16zM169 374h8v11h-8zM194 374h8v11h-8zM210 374h16v11h-16zM566 374h8v11h-8zM663 374h9v11h-9zM696 374h16v11h-16zM728 374h8v11h-8zM744 374h8v11h-8zM769 374h16v11h-16zM809 374h8v11h-8zM842 374h8v11h-8zM194 385h16v11h-16zM226 385h8v11h-8zM266 385h9v11h-9zM356 385h8v11h-8zM599 385h8v11h-8zM639 385h8v11h-8zM655 385h8v11h-8zM680 385h8v11h-8zM752 385h9v11h-9zM809 385h8v11h-8zM186 396h16v10h-16zM266 396h9v10h-9zM566 396h8v10h-8zM607 396h8v10h-8zM623 396h8v10h-8zM639 396h8v10h-8zM680 396h16v10h-16zM712 396h8v10h-8zM866 396h8v10h-8zM453 406h16v11h-16zM647 406h16v11h-16zM696 406h8v11h-8zM761 406h8v11h-8zM834 406h8v11h-8zM461 417h8v11h-8zM485 417h8v11h-8zM501 417h9v11h-9zM623 417h8v11h-8zM655 417h8v11h-8zM672 417h8v11h-8zM704 417h16v11h-16zM728 417h8v11h-8zM194 428h8v10h-8zM356 428h16v10h-16zM453 428h8v10h-8zM518 428h16v10h-16zM672 428h8v10h-8zM752 428h9v10h-9zM785 428h16v10h-16zM834 428h8v10h-8zM202 438h8v11h-8zM218 438h8v11h-8zM364 438h8v11h-8zM566 438h8v11h-8zM663 438h17v11h-17zM688 438h8v11h-8zM712 438h8v11h-8zM728 438h8v11h-8zM744 438h8v11h-8zM825 438h17v11h-17zM866 438h8v11h-8zM882 438h8v11h-8zM356 449h16v11h-16zM453 449h8v11h-8zM493 449h8v11h-8zM696 449h16v11h-16zM720 449h16v11h-16zM769 449h16v11h-16zM793 449h8v11h-8zM809 449h8v11h-8zM898 449h8v11h-8zM258 460h8v11h-8zM348 460h24v11h-24zM380 460h16v11h-16zM485 460h16v11h-16zM631 460h8v11h-8zM696 460h24v11h-24zM761 460h8v11h-8zM793 460h32v11h-32zM250 471h8v10h-8zM266 471h9v10h-9zM307 471h8v10h-8zM453 471h16v10h-16zM477 471h33v10h-33zM599 471h8v10h-8zM647 471h8v10h-8zM663 471h17v10h-17zM866 471h8v10h-8zM906 471h8v10h-8zM218 481h8v11h-8zM242 481h8v11h-8zM323 481h16v11h-16zM461 481h24v11h-24zM510 481h8v11h-8zM615 481h8v11h-8zM672 481h8v11h-8zM688 481h8v11h-8zM744 481h8v11h-8zM817 481h8v11h-8zM858 481h8v11h-8zM906 481h8v11h-8zM194 492h16v11h-16zM218 492h8v11h-8zM234 492h8v11h-8zM266 492h9v11h-9zM323 492h16v11h-16zM477 492h8v11h-8zM501 492h9v11h-9zM639 492h24v11h-24zM680 492h8v11h-8zM736 492h8v11h-8zM761 492h8v11h-8zM809 492h8v11h-8zM890 492h8v11h-8zM194 503h24v10h-24zM242 503h8v10h-8zM275 503h8v10h-8zM315 503h8v10h-8zM331 503h8v10h-8zM420 503h8v10h-8zM461 503h8v10h-8zM493 503h8v10h-8zM590 503h9v10h-9zM607 503h8v10h-8zM728 503h8v10h-8zM761 503h24v10h-24zM834 503h8v10h-8zM914 503h9v10h-9zM202 513h8v11h-8zM226 513h8v11h-8zM339 513h17v11h-17zM412 513h8v11h-8zM542 513h16v11h-16zM566 513h16v11h-16zM655 513h8v11h-8zM696 513h8v11h-8zM777 513h8v11h-8zM817 513h8v11h-8zM842 513h16v11h-16zM874 513h16v11h-16zM348 524h16v11h-16zM526 524h8v11h-8zM623 524h8v11h-8zM663 524h17v11h-17zM728 524h8v11h-8zM785 524h8v11h-8zM809 524h16v11h-16zM931 524h8v11h-8zM396 535h8v11h-8zM420 535h8v11h-8zM518 535h8v11h-8zM574 535h8v11h-8zM623 535h8v11h-8zM696 535h16v11h-16zM720 535h24v11h-24zM761 535h8v11h-8zM777 535h8v11h-8zM809 535h25v11h-25zM858 535h8v11h-8zM906 535h8v11h-8zM420 546h8v10h-8zM445 546h8v10h-8zM558 546h8v10h-8zM615 546h16v10h-16zM672 546h8v10h-8zM704 546h16v10h-16zM736 546h8v10h-8zM769 546h24v10h-24zM809 546h16v10h-16zM834 546h8v10h-8zM906 546h17v10h-17zM275 556h8v11h-8zM299 556h8v11h-8zM388 556h16v11h-16zM461 556h32v11h-32zM542 556h8v11h-8zM558 556h16v11h-16zM582 556h8v11h-8zM696 556h8v11h-8zM728 556h24v11h-24zM825 556h9v11h-9zM842 556h16v11h-16zM898 556h8v11h-8zM914 556h17v11h-17zM307 567h57v11h-57zM388 567h16v11h-16zM453 567h8v11h-8zM477 567h8v11h-8zM493 567h8v11h-8zM582 567h8v11h-8zM615 567h8v11h-8zM647 567h8v11h-8zM663 567h9v11h-9zM696 567h8v11h-8zM728 567h8v11h-8zM761 567h8v11h-8zM777 567h8v11h-8zM825 567h25v11h-25zM858 567h8v11h-8zM882 567h8v11h-8zM906 567h25v11h-25zM348 578h8v10h-8zM396 578h8v10h-8zM412 578h8v10h-8zM453 578h8v10h-8zM485 578h8v10h-8zM599 578h8v10h-8zM720 578h8v10h-8zM736 578h16v10h-16zM777 578h8v10h-8zM801 578h16v10h-16zM834 578h16v10h-16zM858 578h16v10h-16zM890 578h8v10h-8zM380 588h8v11h-8zM404 588h16v11h-16zM453 588h16v11h-16zM518 588h8v11h-8zM590 588h9v11h-9zM712 588h16v11h-16zM744 588h8v11h-8zM761 588h8v11h-8zM785 588h16v11h-16zM834 588h32v11h-32zM882 588h8v11h-8zM914 588h9v11h-9zM445 599h8v11h-8zM469 599h8v11h-8zM510 599h8v11h-8zM566 599h8v11h-8zM590 599h9v11h-9zM639 599h8v11h-8zM655 599h8v11h-8zM696 599h16v11h-16zM728 599h8v11h-8zM785 599h8v11h-8zM858 599h24v11h-24zM890 599h8v11h-8zM906 599h8v11h-8zM420 610h8v10h-8zM437 610h8v10h-8zM534 610h16v10h-16zM566 610h8v10h-8zM590 610h9v10h-9zM623 610h16v10h-16zM647 610h16v10h-16zM672 610h8v10h-8zM704 610h8v10h-8zM777 610h8v10h-8zM809 610h8v10h-8zM825 610h9v10h-9zM858 610h8v10h-8zM882 610h16v10h-16zM550 620h16v11h-16zM647 620h8v11h-8zM663 620h9v11h-9zM704 620h8v11h-8zM744 620h41v11h-41zM793 620h8v11h-8zM890 620h8v11h-8zM906 620h8v11h-8zM655 631h8v11h-8zM728 631h8v11h-8zM752 631h9v11h-9zM769 631h8v11h-8zM793 631h24v11h-24zM850 631h8v11h-8zM550 642h16v10h-16zM680 642h24v10h-24zM728 642h33v10h-33zM777 642h8v10h-8zM809 642h8v10h-8zM834 642h8v10h-8zM866 642h16v10h-16zM890 642h8v10h-8zM672 652h16v11h-16zM696 652h16v11h-16zM720 652h24v11h-24zM752 652h9v11h-9zM785 652h8v11h-8zM834 652h8v11h-8zM874 652h16v11h-16zM518 663h16v11h-16zM550 663h16v11h-16zM582 663h8v11h-8zM688 663h8v11h-8zM785 663h8v11h-8zM850 663h8v11h-8zM874 663h8v11h-8zM501 674h9v11h-9zM542 674h8v11h-8zM558 674h16v11h-16zM696 674h8v11h-8zM842 674h16v11h-16zM501 685h17v10h-17zM623 685h8v10h-8zM728 685h16v10h-16zM769 685h8v10h-8zM550 695h8v11h-8zM590 695h9v11h-9zM696 695h8v11h-8zM728 695h16v11h-16zM809 695h8v11h-8zM599 706h16v11h-16zM688 706h8v11h-8zM777 706h8v11h-8zM793 706h16v11h-16zM558 717h8v10h-8zM688 717h8v10h-8zM761 717h8v10h-8zM793 717h8v10h-8zM704 727h24v11h-24zM558 738h8v11h-8zM744 738h8v11h-8z"/>
<path fill="#d2ffff" d="M858 53h16v11h-16zM809 64h16v11h-16zM850 64h16v11h-16zM882 64h8v11h-8zM809 75h16v10h-16zM842 75h8v10h-8zM866 75h8v10h-8zM898 75h8v10h-8zM866 85h8v11h-8zM834 96h8v11h-8zM866 96h8v11h-8zM834 107h24v10h-24zM923 107h8v10h-8zM939 107h16v10h-16zM834 117h16v11h-16zM874 117h16v11h-16zM914 117h17v11h-17zM939 117h24v11h-24zM996 117h8v11h-8zM825 128h9v11h-9zM842 128h8v11h-8zM914 128h9v11h-9zM931 128h8v11h-8zM971 128h8v11h-8zM923 139h16v11h-16zM963 139h16v11h-16zM987 139h9v11h-9zM971 150h8v10h-8zM1012 150h8v10h-8zM396 160h8v11h-8zM809 160h8v11h-8zM882 160h16v11h-16zM955 160h8v11h-8zM1004 160h16v11h-16zM364 171h16v11h-16zM793 171h8v11h-8zM809 171h8v11h-8zM906 171h8v11h-8zM971 171h8v11h-8zM1004 171h8v11h-8zM331 182h8v10h-8zM372 182h16v10h-16zM420 182h8v10h-8zM817 182h8v10h-8zM842 182h8v10h-8zM979 182h25v10h-25zM404 192h16v11h-16zM428 192h9v11h-9zM769 192h8v11h-8zM842 192h24v11h-24zM898 192h16v11h-16zM931 192h8v11h-8zM396 203h32v11h-32zM817 203h17v11h-17zM842 203h32v11h-32zM923 203h16v11h-16zM785 214h8v10h-8zM898 214h8v10h-8zM931 214h8v10h-8zM955 214h16v10h-16zM283 224h8v11h-8zM299 224h8v11h-8zM882 224h8v11h-8zM906 224h8v11h-8zM963 224h8v11h-8zM1004 224h8v11h-8zM291 235h8v11h-8zM777 235h8v11h-8zM906 235h17v11h-17zM947 235h8v11h-8zM299 246h8v11h-8zM744 246h8v11h-8zM777 246h16v11h-16zM834 246h8v11h-8zM874 246h8v11h-8zM906 246h17v11h-17zM931 246h8v11h-8zM963 246h8v11h-8zM979 246h8v11h-8zM996 246h8v11h-8zM437 257h16v10h-16zM793 257h16v10h-16zM842 257h16v10h-16zM866 257h8v10h-8zM923 257h8v10h-8zM955 257h8v10h-8zM250 267h8v11h-8zM315 267h8v11h-8zM437 267h16v11h-16zM461 267h8v11h-8zM485 267h8v11h-8zM720 267h8v11h-8zM752 267h9v11h-9zM785 267h16v11h-16zM817 267h8v11h-8zM834 267h24v11h-24zM898 267h8v11h-8zM955 267h16v11h-16zM250 278h16v11h-16zM283 278h8v11h-8zM339 278h17v11h-17zM404 278h16v11h-16zM720 278h8v11h-8zM809 278h8v11h-8zM850 278h8v11h-8zM939 278h24v11h-24zM210 289h40v10h-40zM307 289h16v10h-16zM339 289h17v10h-17zM404 289h8v10h-8zM777 289h8v10h-8zM793 289h8v10h-8zM817 289h8v10h-8zM939 289h16v10h-16zM356 299h8v11h-8zM404 299h8v11h-8zM428 299h9v11h-9zM461 299h8v11h-8zM696 299h8v11h-8zM728 299h8v11h-8zM761 299h32v11h-32zM890 299h8v11h-8zM931 299h8v11h-8zM145 310h8v11h-8zM266 310h9v11h-9zM339 310h9v11h-9zM356 310h16v11h-16zM404 310h16v11h-16zM696 310h8v11h-8zM720 310h8v11h-8zM736 310h16v11h-16zM761 310h16v11h-16zM785 310h16v11h-16zM817 310h8v11h-8zM890 310h16v11h-16zM388 321h16v11h-16zM518 321h8v11h-8zM655 321h8v11h-8zM752 321h9v11h-9zM372 332h8v10h-8zM396 332h8v10h-8zM510 332h16v10h-16zM728 332h8v10h-8zM744 332h8v10h-8zM801 332h8v10h-8zM906 332h8v10h-8zM226 342h8v11h-8zM663 342h9v11h-9zM688 342h8v11h-8zM744 342h8v11h-8zM769 342h16v11h-16zM809 342h16v11h-16zM323 353h16v11h-16zM518 353h16v11h-16zM712 353h8v11h-8zM728 353h16v11h-16zM777 353h24v11h-24zM809 353h16v11h-16zM169 364h8v10h-8zM242 364h8v10h-8zM655 364h8v10h-8zM696 364h8v10h-8zM712 364h8v10h-8zM728 364h16v10h-16zM825 364h17v10h-17zM202 374h8v11h-8zM647 374h8v11h-8zM712 374h16v11h-16zM736 374h8v11h-8zM825 374h17v11h-17zM850 374h8v11h-8zM882 374h8v11h-8zM177 385h9v11h-9zM672 385h8v11h-8zM704 385h8v11h-8zM785 385h8v11h-8zM858 385h16v11h-16zM177 396h9v10h-9zM226 396h8v10h-8zM696 396h8v10h-8zM728 396h8v10h-8zM777 396h40v10h-40zM834 396h8v10h-8zM858 396h8v10h-8zM186 406h8v11h-8zM501 406h17v11h-17zM574 406h16v11h-16zM631 406h16v11h-16zM720 406h8v11h-8zM736 406h8v11h-8zM752 406h9v11h-9zM769 406h8v11h-8zM785 406h8v11h-8zM817 406h8v11h-8zM850 406h8v11h-8zM866 406h16v11h-16zM210 417h16v11h-16zM631 417h8v11h-8zM720 417h8v11h-8zM744 417h25v11h-25zM842 417h40v11h-40zM202 428h32v10h-32zM258 428h17v10h-17zM331 428h8v10h-8zM623 428h8v10h-8zM647 428h16v10h-16zM704 428h8v10h-8zM825 428h9v10h-9zM850 428h8v10h-8zM874 428h8v10h-8zM210 438h8v11h-8zM258 438h8v11h-8zM428 438h17v11h-17zM461 438h8v11h-8zM615 438h16v11h-16zM696 438h8v11h-8zM736 438h8v11h-8zM842 438h16v11h-16zM210 449h16v11h-16zM331 449h8v11h-8zM396 449h16v11h-16zM437 449h8v11h-8zM469 449h24v11h-24zM510 449h8v11h-8zM566 449h8v11h-8zM599 449h32v11h-32zM639 449h8v11h-8zM688 449h8v11h-8zM736 449h8v11h-8zM817 449h8v11h-8zM842 449h16v11h-16zM890 449h8v11h-8zM202 460h8v11h-8zM218 460h8v11h-8zM307 460h8v11h-8zM331 460h17v11h-17zM404 460h8v11h-8zM428 460h9v11h-9zM469 460h8v11h-8zM526 460h24v11h-24zM582 460h8v11h-8zM607 460h8v11h-8zM639 460h8v11h-8zM663 460h9v11h-9zM842 460h8v11h-8zM890 460h16v11h-16zM186 471h8v10h-8zM202 471h8v10h-8zM218 471h16v10h-16zM258 471h8v10h-8zM283 471h16v10h-16zM323 471h8v10h-8zM348 471h16v10h-16zM404 471h8v10h-8zM420 471h17v10h-17zM445 471h8v10h-8zM510 471h8v10h-8zM558 471h8v10h-8zM582 471h8v10h-8zM607 471h8v10h-8zM631 471h8v10h-8zM688 471h16v10h-16zM761 471h16v10h-16zM858 471h8v10h-8zM177 481h25v11h-25zM210 481h8v11h-8zM226 481h16v11h-16zM258 481h17v11h-17zM291 481h16v11h-16zM348 481h8v11h-8zM501 481h9v11h-9zM526 481h8v11h-8zM639 481h8v11h-8zM663 481h9v11h-9zM761 481h8v11h-8zM866 481h8v11h-8zM210 492h8v11h-8zM283 492h16v11h-16zM307 492h8v11h-8zM372 492h8v11h-8zM404 492h8v11h-8zM437 492h16v11h-16zM574 492h8v11h-8zM599 492h32v11h-32zM663 492h17v11h-17zM688 492h8v11h-8zM712 492h16v11h-16zM866 492h8v11h-8zM882 492h8v11h-8zM218 503h8v10h-8zM250 503h25v10h-25zM299 503h8v10h-8zM323 503h8v10h-8zM372 503h16v10h-16zM404 503h8v10h-8zM437 503h8v10h-8zM477 503h8v10h-8zM501 503h9v10h-9zM526 503h8v10h-8zM599 503h8v10h-8zM615 503h16v10h-16zM647 503h8v10h-8zM672 503h8v10h-8zM720 503h8v10h-8zM234 513h24v11h-24zM266 513h9v11h-9zM307 513h32v11h-32zM364 513h8v11h-8zM437 513h8v11h-8zM501 513h9v11h-9zM518 513h24v11h-24zM639 513h16v11h-16zM672 513h8v11h-8zM688 513h8v11h-8zM704 513h8v11h-8zM801 513h8v11h-8zM914 513h9v11h-9zM234 524h8v11h-8zM250 524h8v11h-8zM299 524h16v11h-16zM323 524h16v11h-16zM388 524h8v11h-8zM420 524h8v11h-8zM477 524h16v11h-16zM501 524h25v11h-25zM534 524h8v11h-8zM558 524h8v11h-8zM615 524h8v11h-8zM631 524h8v11h-8zM647 524h16v11h-16zM680 524h16v11h-16zM761 524h8v11h-8zM801 524h8v11h-8zM906 524h8v11h-8zM923 524h8v11h-8zM250 535h8v11h-8zM339 535h17v11h-17zM404 535h8v11h-8zM477 535h8v11h-8zM542 535h8v11h-8zM615 535h8v11h-8zM639 535h8v11h-8zM866 535h40v11h-40zM914 535h9v11h-9zM339 546h9v10h-9zM412 546h8v10h-8zM428 546h9v10h-9zM453 546h8v10h-8zM469 546h32v10h-32zM534 546h8v10h-8zM639 546h8v10h-8zM696 546h8v10h-8zM858 546h32v10h-32zM898 546h8v10h-8zM291 556h8v11h-8zM307 556h16v11h-16zM372 556h8v11h-8zM404 556h24v11h-24zM599 556h8v11h-8zM663 556h9v11h-9zM291 567h16v11h-16zM404 567h16v11h-16zM428 567h9v11h-9zM469 567h8v11h-8zM485 567h8v11h-8zM518 567h8v11h-8zM550 567h8v11h-8zM590 567h9v11h-9zM655 567h8v11h-8zM672 567h16v11h-16zM850 567h8v11h-8zM299 578h24v10h-24zM372 578h16v10h-16zM445 578h8v10h-8zM493 578h8v10h-8zM566 578h16v10h-16zM590 578h9v10h-9zM615 578h16v10h-16zM696 578h16v10h-16zM752 578h9v10h-9zM898 578h16v10h-16zM339 588h9v11h-9zM372 588h8v11h-8zM396 588h8v11h-8zM437 588h8v11h-8zM485 588h16v11h-16zM558 588h24v11h-24zM615 588h16v11h-16zM704 588h8v11h-8zM777 588h8v11h-8zM898 588h16v11h-16zM404 599h8v11h-8zM453 599h16v11h-16zM477 599h8v11h-8zM501 599h9v11h-9zM550 599h8v11h-8zM607 599h8v11h-8zM663 599h33v11h-33zM712 599h16v11h-16zM736 599h8v11h-8zM550 610h16v10h-16zM582 610h8v10h-8zM607 610h16v10h-16zM639 610h8v10h-8zM663 610h9v10h-9zM680 610h16v10h-16zM712 610h24v10h-24zM518 620h32v11h-32zM574 620h8v11h-8zM623 620h24v11h-24zM696 620h8v11h-8zM785 620h8v11h-8zM801 620h8v11h-8zM898 620h8v11h-8zM534 631h8v11h-8zM566 631h8v11h-8zM615 631h8v11h-8zM631 631h24v11h-24zM777 631h16v11h-16zM890 631h16v11h-16zM542 642h8v10h-8zM566 642h16v10h-16zM655 642h8v10h-8zM704 642h16v10h-16zM518 652h8v11h-8zM566 652h16v11h-16zM631 652h8v11h-8zM655 652h8v11h-8zM712 652h8v11h-8zM801 652h8v11h-8zM825 652h9v11h-9zM858 652h8v11h-8zM501 663h9v11h-9zM542 663h8v11h-8zM647 663h33v11h-33zM761 663h8v11h-8zM526 674h8v11h-8zM615 674h8v11h-8zM655 674h25v11h-25zM712 674h8v11h-8zM518 685h16v10h-16zM582 685h8v10h-8zM744 685h17v10h-17zM842 685h8v10h-8zM518 695h16v11h-16zM712 695h8v11h-8zM744 695h8v11h-8zM761 695h16v11h-16zM825 695h9v11h-9zM526 706h8v11h-8zM574 706h25v11h-25zM631 706h8v11h-8zM704 706h8v11h-8zM526 717h8v10h-8zM582 717h17v10h-17zM672 717h8v10h-8zM696 717h8v10h-8zM680 727h8v11h-8zM566 738h8v11h-8zM728 738h8v11h-8zM728 749h16v11h-16zM736 760h8v10h-8zM752 760h9v10h-9zM712 770h24v11h-24zM712 781h32v11h-32zM712 792h16v10h-16z"/>
<path fill="#ffd596" d="M801 64h8v11h-8zM801 75h8v10h-8zM890 75h8v10h-8zM850 96h8v11h-8zM955 128h8v11h-8zM842 150h8v10h-8zM1020 150h8v10h-8zM1020 160h8v11h-8zM364 192h24v11h-24zM372 203h16v11h-16zM801 203h8v11h-8zM339 214h9v10h-9zM388 214h24v10h-24zM364 224h8v11h-8zM388 224h8v11h-8zM364 235h8v11h-8zM388 235h8v11h-8zM404 235h8v11h-8zM266 246h9v11h-9zM356 246h16v11h-16zM380 246h8v11h-8zM404 246h8v11h-8zM275 257h8v10h-8zM299 257h8v10h-8zM323 257h16v10h-16zM388 257h16v10h-16zM485 257h8v10h-8zM834 257h8v10h-8zM275 267h8v11h-8zM291 267h16v11h-16zM323 267h16v11h-16zM364 267h8v11h-8zM388 267h16v11h-16zM453 267h8v11h-8zM315 278h8v11h-8zM356 278h16v11h-16zM380 278h8v11h-8zM437 278h8v11h-8zM202 289h8v10h-8zM356 289h8v10h-8zM372 289h16v10h-16zM437 289h16v10h-16zM809 289h8v10h-8zM137 299h8v11h-8zM177 299h17v11h-17zM388 299h16v11h-16zM453 299h8v11h-8zM744 299h17v11h-17zM291 310h8v11h-8zM323 310h8v11h-8zM396 310h8v11h-8zM453 310h8v11h-8zM566 310h8v11h-8zM145 321h16v11h-16zM169 321h17v11h-17zM323 321h16v11h-16zM437 321h24v11h-24zM493 321h8v11h-8zM542 321h8v11h-8zM558 321h8v11h-8zM809 321h8v11h-8zM153 332h8v10h-8zM186 332h8v10h-8zM323 332h16v10h-16zM445 332h8v10h-8zM542 332h24v10h-24zM590 332h17v10h-17zM809 332h16v10h-16zM161 342h16v11h-16zM186 342h8v11h-8zM323 342h8v11h-8zM339 342h9v11h-9zM420 342h8v11h-8zM445 342h8v11h-8zM542 342h24v11h-24zM582 342h17v11h-17zM631 342h8v11h-8zM169 353h8v11h-8zM186 353h16v11h-16zM315 353h8v11h-8zM380 353h8v11h-8zM396 353h8v11h-8zM437 353h8v11h-8zM501 353h17v11h-17zM550 353h8v11h-8zM590 353h17v11h-17zM615 353h8v11h-8zM283 364h8v10h-8zM356 364h16v10h-16zM428 364h9v10h-9zM518 364h32v10h-32zM607 364h24v10h-24zM266 374h9v11h-9zM356 374h16v11h-16zM445 374h8v11h-8zM510 374h8v11h-8zM534 374h16v11h-16zM599 374h16v11h-16zM623 374h8v11h-8zM817 374h8v11h-8zM169 385h8v11h-8zM186 385h8v11h-8zM291 385h8v11h-8zM323 385h8v11h-8zM510 385h8v11h-8zM534 385h8v11h-8zM566 385h8v11h-8zM582 385h17v11h-17zM615 385h16v11h-16zM420 396h17v10h-17zM461 396h8v10h-8zM501 396h17v10h-17zM534 396h8v10h-8zM550 396h8v10h-8zM574 396h25v10h-25zM631 396h8v10h-8zM194 406h8v11h-8zM428 406h9v11h-9zM469 406h8v11h-8zM526 406h16v11h-16zM194 417h16v11h-16zM420 417h17v11h-17zM469 417h16v11h-16zM518 417h24v11h-24zM574 417h8v11h-8zM323 428h8v10h-8zM501 428h17v10h-17zM404 438h16v11h-16zM485 438h8v11h-8zM501 438h17v11h-17zM647 438h16v11h-16zM518 449h8v11h-8zM663 449h9v11h-9zM752 449h9v11h-9zM866 449h8v11h-8zM518 460h8v11h-8zM590 460h9v11h-9zM672 460h8v11h-8zM744 460h17v11h-17zM372 471h8v10h-8zM566 471h8v10h-8zM250 481h8v11h-8zM566 481h16v11h-16zM850 481h8v11h-8zM793 492h8v11h-8zM850 492h8v11h-8zM874 492h8v11h-8zM914 492h17v11h-17zM842 503h16v10h-16zM890 503h8v10h-8zM923 503h8v10h-8zM793 513h8v11h-8zM825 513h17v11h-17zM720 524h8v11h-8zM825 524h17v11h-17zM445 535h16v11h-16zM582 535h8v11h-8zM744 535h17v11h-17zM793 535h8v11h-8zM590 546h9v10h-9zM720 546h8v10h-8zM752 546h9v10h-9zM793 546h16v10h-16zM339 556h9v11h-9zM550 556h8v11h-8zM688 556h8v11h-8zM761 556h16v11h-16zM785 556h40v11h-40zM874 556h8v11h-8zM558 567h8v11h-8zM744 567h8v11h-8zM769 567h8v11h-8zM793 567h32v11h-32zM890 567h8v11h-8zM477 578h8v10h-8zM510 578h8v10h-8zM582 578h8v10h-8zM631 578h8v10h-8zM769 578h8v10h-8zM793 578h8v10h-8zM817 578h17v10h-17zM850 578h8v10h-8zM501 588h17v11h-17zM582 588h8v11h-8zM728 588h16v11h-16zM801 588h8v11h-8zM817 588h17v11h-17zM485 599h16v11h-16zM534 599h8v11h-8zM744 599h17v11h-17zM793 599h8v11h-8zM809 599h49v11h-49zM744 610h17v10h-17zM817 610h8v10h-8zM842 610h16v10h-16zM874 610h8v10h-8zM582 620h8v11h-8zM728 620h16v11h-16zM809 620h8v11h-8zM834 620h16v11h-16zM526 631h8v11h-8zM599 631h16v11h-16zM623 631h8v11h-8zM744 631h8v11h-8zM817 631h33v11h-33zM882 631h8v11h-8zM582 642h17v10h-17zM720 642h8v10h-8zM761 642h16v10h-16zM793 642h8v10h-8zM817 642h8v10h-8zM558 652h8v11h-8zM590 652h9v11h-9zM809 652h8v11h-8zM720 663h8v11h-8zM744 663h8v11h-8zM817 663h8v11h-8zM720 674h8v11h-8zM744 674h8v11h-8zM777 674h8v11h-8zM817 674h8v11h-8zM590 685h9v10h-9zM777 685h16v10h-16zM688 695h8v11h-8zM777 695h16v11h-16zM672 706h8v11h-8zM777 717h8v10h-8z"/>
<path fill="#5afaff" d="M898 117h8v11h-8zM947 192h8v11h-8zM906 203h17v11h-17zM955 203h8v11h-8zM931 235h8v11h-8zM809 246h8v11h-8zM955 246h8v11h-8zM882 257h8v10h-8zM898 257h8v10h-8zM485 289h8v10h-8zM914 299h9v11h-9zM266 342h17v11h-17zM250 353h8v11h-8zM283 353h8v11h-8zM275 364h8v10h-8zM242 374h8v11h-8zM275 374h16v11h-16zM250 385h8v11h-8zM283 385h8v11h-8zM275 396h8v10h-8zM299 396h8v10h-8zM258 417h8v11h-8zM307 417h8v11h-8zM299 428h16v10h-16zM266 438h9v11h-9zM291 438h32v11h-32zM315 449h8v11h-8zM348 449h8v11h-8zM445 460h8v11h-8zM275 471h8v10h-8zM331 471h8v10h-8zM388 471h8v10h-8zM307 481h8v11h-8zM339 481h9v11h-9zM372 481h8v11h-8zM388 481h16v11h-16zM445 481h8v11h-8zM275 492h8v11h-8zM299 492h8v11h-8zM339 492h25v11h-25zM558 492h8v11h-8zM291 503h8v10h-8zM339 503h17v10h-17zM364 503h8v10h-8zM428 513h9v11h-9zM453 513h8v11h-8zM428 524h9v11h-9zM453 524h16v11h-16zM258 535h8v11h-8zM331 535h8v11h-8zM437 535h8v11h-8zM258 546h8v10h-8zM323 546h16v10h-16zM542 546h8v10h-8zM356 556h8v11h-8zM428 556h9v11h-9zM501 567h9v11h-9zM461 578h8v10h-8z"/>
<path fill="#ffab6b" d="M420 267h8v11h-8zM210 278h8v11h-8zM445 278h8v11h-8zM153 299h8v11h-8zM210 299h16v11h-16zM339 299h9v11h-9zM477 299h8v11h-8zM137 310h8v11h-8zM177 310h9v11h-9zM226 310h24v11h-24zM194 321h40v11h-40zM372 321h16v11h-16zM477 321h16v11h-16zM550 321h8v11h-8zM615 321h8v11h-8zM202 332h8v10h-8zM218 332h8v10h-8zM380 332h8v10h-8zM453 332h8v10h-8zM469 332h8v10h-8zM485 332h16v10h-16zM526 332h8v10h-8zM615 332h16v10h-16zM210 342h8v11h-8zM348 342h8v11h-8zM372 342h8v11h-8zM428 342h17v11h-17zM485 342h8v11h-8zM566 342h16v11h-16zM607 342h16v11h-16zM388 353h8v11h-8zM445 353h8v11h-8zM477 353h8v11h-8zM542 353h8v11h-8zM566 353h24v11h-24zM631 353h8v11h-8zM177 364h17v10h-17zM226 364h8v10h-8zM307 364h49v10h-49zM372 364h8v10h-8zM396 364h24v10h-24zM445 364h8v10h-8zM485 364h33v10h-33zM590 364h9v10h-9zM631 364h16v10h-16zM177 374h17v11h-17zM307 374h41v11h-41zM380 374h8v11h-8zM428 374h17v11h-17zM493 374h17v11h-17zM518 374h8v11h-8zM582 374h17v11h-17zM615 374h8v11h-8zM639 374h8v11h-8zM655 374h8v11h-8zM348 385h8v11h-8zM437 385h8v11h-8zM469 385h8v11h-8zM323 396h8v10h-8zM372 396h8v10h-8zM412 396h8v10h-8zM437 396h8v10h-8zM453 396h8v10h-8zM493 396h8v10h-8zM542 396h8v10h-8zM372 406h16v11h-16zM396 406h8v11h-8zM437 406h16v11h-16zM518 406h8v11h-8zM599 406h16v11h-16zM372 417h8v11h-8zM437 417h24v11h-24zM599 417h16v11h-16zM428 428h9v10h-9zM493 428h8v10h-8zM420 438h8v11h-8zM477 438h8v11h-8zM420 449h17v11h-17zM234 460h8v11h-8zM558 460h8v11h-8zM769 535h8v11h-8zM761 546h8v10h-8zM785 567h8v11h-8zM785 578h8v10h-8z"/>
<path fill="#ff7c52" d="M542 299h8v11h-8zM388 310h8v11h-8zM485 310h16v11h-16zM510 310h8v11h-8zM558 310h8v11h-8zM339 321h17v11h-17zM420 321h17v11h-17zM461 321h16v11h-16zM510 321h8v11h-8zM574 321h8v11h-8zM339 332h17v10h-17zM477 332h8v10h-8zM356 342h16v11h-16zM380 342h8v11h-8zM412 342h8v11h-8zM453 342h16v11h-16zM493 342h8v11h-8zM526 342h16v11h-16zM655 342h8v11h-8zM339 353h9v11h-9zM364 353h16v11h-16zM404 353h33v11h-33zM453 353h16v11h-16zM485 353h8v11h-8zM534 353h8v11h-8zM558 353h8v11h-8zM380 364h8v10h-8zM437 364h8v10h-8zM453 364h8v10h-8zM582 364h8v10h-8zM599 364h8v10h-8zM372 374h8v11h-8zM485 374h8v11h-8zM210 385h8v11h-8zM258 385h8v11h-8zM372 385h8v11h-8zM428 385h9v11h-9zM445 385h8v11h-8zM518 385h16v11h-16zM356 396h16v10h-16zM477 396h16v10h-16zM518 396h16v10h-16zM412 406h16v11h-16zM477 406h8v11h-8zM396 417h8v11h-8zM380 428h24v10h-24zM485 428h8v10h-8zM372 438h32v11h-32zM518 438h8v11h-8zM785 535h8v11h-8zM777 556h8v11h-8zM736 567h8v11h-8z"/>
<path fill="#00b4ff" d="M947 203h8v11h-8zM914 278h9v11h-9zM420 299h8v11h-8zM299 310h16v11h-16zM307 321h8v11h-8zM242 332h8v10h-8zM283 332h8v10h-8zM315 332h8v10h-8zM242 342h24v11h-24zM283 342h8v11h-8zM307 342h8v11h-8zM218 353h8v11h-8zM242 353h8v11h-8zM258 353h25v11h-25zM299 353h8v11h-8zM250 364h8v10h-8zM234 396h8v10h-8zM315 396h8v10h-8zM258 406h8v11h-8zM307 406h16v11h-16zM250 417h8v11h-8zM266 417h9v11h-9zM291 417h8v11h-8zM242 428h16v10h-16zM275 428h16v10h-16zM315 428h8v10h-8zM339 428h9v10h-9zM275 438h16v11h-16zM275 460h8v11h-8zM477 513h8v11h-8zM258 524h8v11h-8zM266 535h9v11h-9zM323 535h8v11h-8z"/>
<path fill="#0088ff" d="M428 289h9v10h-9zM315 321h8v11h-8zM299 332h16v10h-16zM291 342h16v11h-16zM315 342h8v11h-8zM307 353h8v11h-8zM258 364h17v10h-17zM258 374h8v11h-8zM299 385h8v11h-8zM234 406h8v11h-8zM266 406h17v11h-17zM291 406h8v11h-8zM299 417h8v11h-8zM315 417h8v11h-8zM291 428h8v10h-8z"/>
<path fill="#0050ff" d="M283 321h24v11h-24zM291 332h8v10h-8zM283 406h8v11h-8zM275 417h16v11h-16z"/>
<path fill="#ff0a28" d="M210 310h16v11h-16zM445 310h8v11h-8zM461 332h8v10h-8zM469 342h16v11h-16zM348 353h16v11h-16zM469 353h8v11h-8zM388 364h8v10h-8zM461 364h24v10h-24zM388 374h32v11h-32zM453 374h32v11h-32zM364 385h8v11h-8zM380 385h48v11h-48zM461 385h8v11h-8zM477 385h8v11h-8zM493 385h8v11h-8zM380 396h32v10h-32zM469 396h8v10h-8zM388 406h8v11h-8zM388 417h8v11h-8z"/>
</g>
<use href="#land" fill="none" stroke="#9a9a9a" stroke-width="1.6"/>
<polygon points="945,627 955,632 954,649 949,677.5 942,698 930,688 925,671 932,649" fill="none" stroke="#9a9a9a" stroke-width="1.2"/>
<use href="#rivers"/>
<use href="#grat"/>
<rect x="140" y="630" width="129.5" height="196" fill="#fff" stroke="#22222e" stroke-width="3"/>
<rect x="271" y="631" width="2" height="197" fill="#666870"/>
<use href="#insetc"/>
<rect x="139.2" y="20.4" width="897.3" height="808.2" fill="none" stroke="#000" stroke-width="2.6"/>
</g>
<g transform="translate(0,827)">
<rect x="140" y="21" width="896" height="807" fill="#b3b3b3"/>
<use href="#land" fill="#fff"/>
<g clip-path="url(#clipLand)">
<path fill="#fff0b4" d="M858 53h16v11h-16zM842 64h16v11h-16zM890 64h8v11h-8zM809 75h8v10h-8zM842 75h8v10h-8zM890 75h16v10h-16zM809 96h8v11h-8zM817 107h8v10h-8zM858 107h8v10h-8zM874 107h8v10h-8zM906 107h8v10h-8zM809 117h8v11h-8zM825 117h9v11h-9zM842 117h8v11h-8zM858 117h8v11h-8zM996 117h8v11h-8zM817 128h8v11h-8zM834 128h8v11h-8zM947 128h8v11h-8zM793 139h8v11h-8zM971 139h8v11h-8zM898 150h8v10h-8zM971 150h33v10h-33zM801 160h8v11h-8zM882 160h8v11h-8zM898 160h8v11h-8zM931 160h8v11h-8zM979 160h8v11h-8zM996 160h8v11h-8zM1020 160h8v11h-8zM404 171h8v11h-8zM761 171h32v11h-32zM412 182h8v10h-8zM769 182h24v10h-24zM874 182h8v10h-8zM931 182h8v10h-8zM817 192h17v11h-17zM858 192h16v11h-16zM890 192h16v11h-16zM939 192h8v11h-8zM996 192h8v11h-8zM817 203h8v11h-8zM834 203h8v11h-8zM858 203h16v11h-16zM898 203h8v11h-8zM996 203h8v11h-8zM299 214h24v10h-24zM339 214h9v10h-9zM404 214h16v10h-16zM809 214h16v10h-16zM898 214h8v10h-8zM914 214h9v10h-9zM947 214h8v10h-8zM266 224h9v11h-9zM299 224h16v11h-16zM339 224h9v11h-9zM380 224h8v11h-8zM404 224h16v11h-16zM809 224h16v11h-16zM906 224h8v11h-8zM323 235h8v11h-8zM339 235h17v11h-17zM372 235h8v11h-8zM420 235h17v11h-17zM850 235h8v11h-8zM979 235h8v11h-8zM307 246h8v11h-8zM331 246h8v11h-8zM372 246h16v11h-16zM453 246h8v11h-8zM744 246h17v11h-17zM809 246h8v11h-8zM898 246h8v11h-8zM331 257h8v10h-8zM348 257h8v10h-8zM485 257h8v10h-8zM752 257h9v10h-9zM809 257h8v10h-8zM825 257h9v10h-9zM987 257h9v10h-9zM323 267h16v11h-16zM485 267h8v11h-8zM866 267h8v11h-8zM890 267h8v11h-8zM299 278h8v11h-8zM720 278h8v11h-8zM809 278h25v11h-25zM145 289h8v10h-8zM177 289h9v10h-9zM258 289h8v10h-8zM704 289h8v10h-8zM728 289h8v10h-8zM793 289h32v10h-32zM866 289h8v10h-8zM882 289h8v10h-8zM906 289h25v10h-25zM137 299h8v11h-8zM161 299h33v11h-33zM210 299h8v11h-8zM226 299h16v11h-16zM323 299h8v11h-8zM396 299h8v11h-8zM420 299h8v11h-8zM445 299h8v11h-8zM469 299h16v11h-16zM501 299h9v11h-9zM542 299h8v11h-8zM680 299h16v11h-16zM769 299h16v11h-16zM793 299h16v11h-16zM834 299h8v11h-8zM866 299h8v11h-8zM890 299h8v11h-8zM137 310h8v11h-8zM169 310h17v11h-17zM210 310h8v11h-8zM226 310h24v11h-24zM307 310h16v11h-16zM331 310h8v11h-8zM388 310h8v11h-8zM404 310h8v11h-8zM420 310h8v11h-8zM445 310h8v11h-8zM469 310h16v11h-16zM493 310h8v11h-8zM534 310h8v11h-8zM566 310h8v11h-8zM582 310h8v11h-8zM680 310h16v11h-16zM801 310h8v11h-8zM817 310h25v11h-25zM890 310h16v11h-16zM161 321h8v11h-8zM307 321h8v11h-8zM364 321h8v11h-8zM420 321h8v11h-8zM485 321h49v11h-49zM550 321h16v11h-16zM607 321h8v11h-8zM631 321h16v11h-16zM663 321h17v11h-17zM696 321h8v11h-8zM744 321h8v11h-8zM801 321h8v11h-8zM906 321h8v11h-8zM177 332h9v10h-9zM218 332h16v10h-16zM307 332h8v10h-8zM323 332h8v10h-8zM404 332h8v10h-8zM485 332h16v10h-16zM518 332h16v10h-16zM550 332h16v10h-16zM599 332h8v10h-8zM639 332h8v10h-8zM663 332h9v10h-9zM688 332h8v10h-8zM712 332h8v10h-8zM728 332h8v10h-8zM752 332h9v10h-9zM793 332h8v10h-8zM825 332h9v10h-9zM842 332h8v10h-8zM177 342h17v11h-17zM202 342h8v11h-8zM307 342h8v11h-8zM356 342h8v11h-8zM404 342h8v11h-8zM420 342h65v11h-65zM526 342h8v11h-8zM566 342h33v11h-33zM607 342h8v11h-8zM639 342h16v11h-16zM704 342h32v11h-32zM744 342h17v11h-17zM793 342h8v11h-8zM825 342h17v11h-17zM153 353h8v11h-8zM177 353h9v11h-9zM291 353h8v11h-8zM307 353h8v11h-8zM339 353h9v11h-9zM356 353h16v11h-16zM388 353h8v11h-8zM412 353h8v11h-8zM428 353h33v11h-33zM477 353h8v11h-8zM574 353h8v11h-8zM590 353h25v11h-25zM704 353h40v11h-40zM752 353h9v11h-9zM809 353h8v11h-8zM825 353h17v11h-17zM226 364h8v10h-8zM275 364h16v10h-16zM315 364h8v10h-8zM404 364h8v10h-8zM453 364h8v10h-8zM493 364h8v10h-8zM534 364h24v10h-24zM615 364h8v10h-8zM655 364h8v10h-8zM680 364h8v10h-8zM704 364h8v10h-8zM793 364h8v10h-8zM809 364h8v10h-8zM226 374h8v11h-8zM266 374h17v11h-17zM291 374h8v11h-8zM339 374h17v11h-17zM404 374h8v11h-8zM510 374h8v11h-8zM542 374h8v11h-8zM558 374h8v11h-8zM647 374h8v11h-8zM696 374h8v11h-8zM817 374h8v11h-8zM834 374h8v11h-8zM169 385h8v11h-8zM194 385h8v11h-8zM250 385h8v11h-8zM299 385h16v11h-16zM339 385h9v11h-9zM364 385h8v11h-8zM388 385h24v11h-24zM428 385h9v11h-9zM445 385h8v11h-8zM477 385h33v11h-33zM623 385h8v11h-8zM639 385h8v11h-8zM663 385h9v11h-9zM720 385h8v11h-8zM752 385h9v11h-9zM850 385h8v11h-8zM882 385h16v11h-16zM914 385h9v11h-9zM186 396h8v10h-8zM210 396h8v10h-8zM250 396h8v10h-8zM266 396h9v10h-9zM291 396h8v10h-8zM307 396h16v10h-16zM339 396h25v10h-25zM420 396h33v10h-33zM469 396h8v10h-8zM493 396h25v10h-25zM542 396h8v10h-8zM599 396h8v10h-8zM623 396h16v10h-16zM663 396h17v10h-17zM712 396h8v10h-8zM801 396h8v10h-8zM890 396h16v10h-16zM242 406h8v11h-8zM275 406h16v11h-16zM356 406h16v11h-16zM388 406h16v11h-16zM420 406h17v11h-17zM550 406h16v11h-16zM590 406h9v11h-9zM607 406h24v11h-24zM728 406h16v11h-16zM761 406h16v11h-16zM801 406h8v11h-8zM250 417h16v11h-16zM275 417h16v11h-16zM356 417h16v11h-16zM388 417h16v11h-16zM420 417h8v11h-8zM453 417h8v11h-8zM558 417h8v11h-8zM582 417h49v11h-49zM663 417h9v11h-9zM712 417h32v11h-32zM761 417h8v11h-8zM793 417h8v11h-8zM809 417h8v11h-8zM858 417h8v11h-8zM210 428h8v10h-8zM226 428h16v10h-16zM258 428h41v10h-41zM461 428h8v10h-8zM534 428h32v10h-32zM599 428h32v10h-32zM696 428h8v10h-8zM785 428h8v10h-8zM825 428h17v10h-17zM850 428h8v10h-8zM874 428h8v10h-8zM202 438h8v11h-8zM218 438h24v11h-24zM258 438h25v11h-25zM315 438h8v11h-8zM339 438h9v11h-9zM428 438h9v11h-9zM453 438h16v11h-16zM534 438h24v11h-24zM599 438h32v11h-32zM663 438h9v11h-9zM769 438h16v11h-16zM825 438h9v11h-9zM850 438h8v11h-8zM874 438h16v11h-16zM202 449h8v11h-8zM283 449h8v11h-8zM307 449h8v11h-8zM339 449h25v11h-25zM388 449h16v11h-16zM485 449h8v11h-8zM518 449h64v11h-64zM623 449h8v11h-8zM647 449h8v11h-8zM696 449h16v11h-16zM761 449h8v11h-8zM809 449h16v11h-16zM834 449h8v11h-8zM858 449h8v11h-8zM874 449h8v11h-8zM194 460h8v11h-8zM210 460h8v11h-8zM226 460h8v11h-8zM275 460h16v11h-16zM356 460h8v11h-8zM388 460h16v11h-16zM501 460h57v11h-57zM566 460h8v11h-8zM663 460h9v11h-9zM712 460h8v11h-8zM736 460h8v11h-8zM809 460h16v11h-16zM850 460h24v11h-24zM186 471h8v10h-8zM299 471h32v10h-32zM339 471h9v10h-9zM356 471h8v10h-8zM420 471h57v10h-57zM485 471h16v10h-16zM518 471h8v10h-8zM566 471h8v10h-8zM639 471h8v10h-8zM655 471h8v10h-8zM672 471h8v10h-8zM817 471h17v10h-17zM842 471h8v10h-8zM874 471h8v10h-8zM194 481h8v11h-8zM291 481h8v11h-8zM307 481h8v11h-8zM356 481h16v11h-16zM420 481h33v11h-33zM469 481h8v11h-8zM631 481h16v11h-16zM663 481h17v11h-17zM720 481h8v11h-8zM752 481h9v11h-9zM769 481h8v11h-8zM898 481h8v11h-8zM186 492h8v11h-8zM266 492h9v11h-9zM291 492h16v11h-16zM356 492h8v11h-8zM380 492h8v11h-8zM453 492h8v11h-8zM518 492h24v11h-24zM582 492h8v11h-8zM615 492h8v11h-8zM696 492h8v11h-8zM728 492h16v11h-16zM793 492h8v11h-8zM834 492h24v11h-24zM291 503h8v10h-8zM372 503h16v10h-16zM404 503h8v10h-8zM428 503h9v10h-9zM510 503h8v10h-8zM526 503h8v10h-8zM550 503h8v10h-8zM566 503h8v10h-8zM615 503h16v10h-16zM704 503h8v10h-8zM728 503h8v10h-8zM744 503h8v10h-8zM761 503h8v10h-8zM834 503h8v10h-8zM850 503h8v10h-8zM914 503h17v10h-17zM242 513h16v11h-16zM356 513h16v11h-16zM388 513h8v11h-8zM453 513h8v11h-8zM469 513h16v11h-16zM526 513h8v11h-8zM582 513h8v11h-8zM663 513h17v11h-17zM720 513h8v11h-8zM761 513h32v11h-32zM817 513h17v11h-17zM842 513h8v11h-8zM858 513h8v11h-8zM898 513h8v11h-8zM923 513h8v11h-8zM250 524h8v11h-8zM461 524h24v11h-24zM582 524h17v11h-17zM639 524h8v11h-8zM672 524h8v11h-8zM736 524h8v11h-8zM777 524h16v11h-16zM850 524h16v11h-16zM874 524h8v11h-8zM890 524h8v11h-8zM906 524h8v11h-8zM931 524h8v11h-8zM372 535h8v11h-8zM469 535h8v11h-8zM510 535h8v11h-8zM590 535h9v11h-9zM607 535h8v11h-8zM639 535h8v11h-8zM655 535h8v11h-8zM712 535h32v11h-32zM785 535h8v11h-8zM858 535h16v11h-16zM890 535h16v11h-16zM380 546h8v10h-8zM574 546h8v10h-8zM712 546h32v10h-32zM752 546h9v10h-9zM809 546h16v10h-16zM882 546h24v10h-24zM923 546h8v10h-8zM339 556h17v11h-17zM372 556h16v11h-16zM404 556h16v11h-16zM534 556h8v11h-8zM582 556h8v11h-8zM631 556h16v11h-16zM744 556h8v11h-8zM761 556h32v11h-32zM801 556h8v11h-8zM834 556h40v11h-40zM299 567h8v11h-8zM339 567h9v11h-9zM372 567h16v11h-16zM412 567h8v11h-8zM518 567h8v11h-8zM550 567h8v11h-8zM582 567h8v11h-8zM607 567h8v11h-8zM663 567h9v11h-9zM704 567h8v11h-8zM728 567h8v11h-8zM761 567h16v11h-16zM785 567h8v11h-8zM817 567h49v11h-49zM906 567h8v11h-8zM307 578h8v10h-8zM323 578h16v10h-16zM420 578h8v10h-8zM469 578h8v10h-8zM493 578h17v10h-17zM518 578h16v10h-16zM550 578h32v10h-32zM599 578h32v10h-32zM647 578h8v10h-8zM663 578h17v10h-17zM736 578h8v10h-8zM769 578h8v10h-8zM793 578h8v10h-8zM817 578h8v10h-8zM834 578h8v10h-8zM874 578h8v10h-8zM906 578h17v10h-17zM339 588h9v11h-9zM396 588h8v11h-8zM420 588h17v11h-17zM469 588h49v11h-49zM526 588h8v11h-8zM542 588h40v11h-40zM607 588h16v11h-16zM696 588h16v11h-16zM793 588h16v11h-16zM817 588h17v11h-17zM850 588h24v11h-24zM882 588h8v11h-8zM906 588h8v11h-8zM396 599h8v11h-8zM428 599h9v11h-9zM453 599h8v11h-8zM493 599h8v11h-8zM518 599h16v11h-16zM550 599h16v11h-16zM688 599h32v11h-32zM744 599h8v11h-8zM777 599h8v11h-8zM809 599h25v11h-25zM842 599h24v11h-24zM882 599h8v11h-8zM518 610h8v10h-8zM534 610h8v10h-8zM623 610h8v10h-8zM680 610h8v10h-8zM696 610h8v10h-8zM712 610h24v10h-24zM744 610h17v10h-17zM777 610h16v10h-16zM809 610h8v10h-8zM842 610h16v10h-16zM898 610h8v10h-8zM428 620h9v11h-9zM526 620h8v11h-8zM542 620h8v11h-8zM582 620h25v11h-25zM623 620h8v11h-8zM647 620h8v11h-8zM712 620h24v11h-24zM752 620h9v11h-9zM769 620h24v11h-24zM817 620h41v11h-41zM874 620h8v11h-8zM526 631h24v11h-24zM582 631h17v11h-17zM623 631h8v11h-8zM680 631h8v11h-8zM712 631h8v11h-8zM801 631h8v11h-8zM825 631h9v11h-9zM842 631h16v11h-16zM866 631h8v11h-8zM882 631h8v11h-8zM566 642h8v10h-8zM599 642h8v10h-8zM663 642h9v10h-9zM712 642h32v10h-32zM793 642h16v10h-16zM834 642h8v10h-8zM890 642h8v10h-8zM574 652h8v11h-8zM623 652h8v11h-8zM704 652h40v11h-40zM793 652h32v11h-32zM842 652h8v11h-8zM874 652h8v11h-8zM518 663h16v11h-16zM607 663h8v11h-8zM655 663h8v11h-8zM680 663h8v11h-8zM696 663h40v11h-40zM825 663h17v11h-17zM850 663h8v11h-8zM518 674h8v11h-8zM582 674h8v11h-8zM607 674h8v11h-8zM647 674h16v11h-16zM680 674h48v11h-48zM752 674h9v11h-9zM785 674h8v11h-8zM825 674h33v11h-33zM534 685h8v10h-8zM590 685h9v10h-9zM615 685h32v10h-32zM663 685h9v10h-9zM688 685h16v10h-16zM744 685h8v10h-8zM825 685h17v10h-17zM615 695h8v11h-8zM777 695h8v11h-8zM825 695h9v11h-9zM526 706h8v11h-8zM542 706h8v11h-8zM582 706h17v11h-17zM672 706h8v11h-8zM704 706h8v11h-8zM744 706h41v11h-41zM590 717h9v10h-9zM752 717h41v10h-41zM566 727h8v11h-8zM728 727h8v11h-8zM582 738h8v11h-8zM761 760h8v10h-8z"/>
<path fill="#d2ffff" d="M817 53h25v11h-25zM874 53h8v11h-8zM809 64h8v11h-8zM825 64h9v11h-9zM858 64h32v11h-32zM866 75h16v10h-16zM809 85h16v11h-16zM898 85h8v11h-8zM817 96h8v11h-8zM874 96h24v11h-24zM906 96h17v11h-17zM898 107h8v10h-8zM914 107h9v10h-9zM931 107h8v10h-8zM817 117h8v11h-8zM874 117h8v11h-8zM906 117h8v11h-8zM931 117h16v11h-16zM1020 117h8v11h-8zM801 128h16v11h-16zM825 128h9v11h-9zM858 128h8v11h-8zM777 139h16v11h-16zM809 139h16v11h-16zM931 139h24v11h-24zM769 150h8v10h-8zM801 150h8v10h-8zM817 150h17v10h-17zM842 150h16v10h-16zM890 150h8v10h-8zM963 150h8v10h-8zM1020 150h8v10h-8zM809 160h8v11h-8zM842 160h8v11h-8zM793 171h16v11h-16zM817 171h8v11h-8zM858 171h8v11h-8zM890 171h16v11h-16zM923 171h8v11h-8zM947 171h8v11h-8zM987 171h9v11h-9zM1020 171h8v11h-8zM323 182h16v10h-16zM372 182h24v10h-24zM404 182h8v10h-8zM793 182h8v10h-8zM817 182h8v10h-8zM850 182h16v10h-16zM890 182h16v10h-16zM963 182h8v10h-8zM979 182h8v10h-8zM315 192h8v11h-8zM331 192h8v11h-8zM356 192h8v11h-8zM420 192h17v11h-17zM834 192h24v11h-24zM906 192h25v11h-25zM987 192h9v11h-9zM307 203h8v11h-8zM420 203h17v11h-17zM785 203h16v11h-16zM825 203h9v11h-9zM842 203h8v11h-8zM906 203h8v11h-8zM850 214h8v10h-8zM890 214h8v10h-8zM906 214h8v10h-8zM931 214h8v10h-8zM971 214h16v10h-16zM996 214h16v10h-16zM291 224h8v11h-8zM777 224h8v11h-8zM793 224h16v11h-16zM842 224h16v11h-16zM890 224h16v11h-16zM931 224h8v11h-8zM955 224h32v11h-32zM1004 224h8v11h-8zM777 235h8v11h-8zM793 235h24v11h-24zM866 235h8v11h-8zM890 235h8v11h-8zM275 246h8v11h-8zM793 246h16v11h-16zM842 246h16v11h-16zM275 257h8v10h-8zM323 257h8v10h-8zM356 257h16v10h-16zM461 257h8v10h-8zM874 257h16v10h-16zM898 257h25v10h-25zM258 267h8v11h-8zM275 267h8v11h-8zM315 267h8v11h-8zM348 267h8v11h-8zM728 267h8v11h-8zM882 267h8v11h-8zM906 267h25v11h-25zM210 278h16v11h-16zM242 278h8v11h-8zM258 278h8v11h-8zM275 278h16v11h-16zM323 278h8v11h-8zM380 278h16v11h-16zM420 278h17v11h-17zM453 278h16v11h-16zM728 278h8v11h-8zM793 278h8v11h-8zM842 278h16v11h-16zM914 278h9v11h-9zM266 289h33v10h-33zM380 289h8v10h-8zM420 289h8v10h-8zM453 289h16v10h-16zM477 289h16v10h-16zM752 289h9v10h-9zM785 289h8v10h-8zM850 289h8v10h-8zM931 289h8v10h-8zM242 299h16v11h-16zM339 299h9v11h-9zM364 299h8v11h-8zM428 299h9v11h-9zM534 299h8v11h-8zM696 299h8v11h-8zM712 299h16v11h-16zM850 299h8v11h-8zM882 299h8v11h-8zM906 299h17v11h-17zM250 310h8v11h-8zM283 310h8v11h-8zM339 310h9v11h-9zM356 310h16v11h-16zM647 310h8v11h-8zM704 310h16v11h-16zM850 310h8v11h-8zM914 310h9v11h-9zM145 321h8v11h-8zM169 321h8v11h-8zM218 321h8v11h-8zM242 321h16v11h-16zM275 321h8v11h-8zM323 321h16v11h-16zM348 321h16v11h-16zM396 321h8v11h-8zM469 321h8v11h-8zM542 321h8v11h-8zM566 321h16v11h-16zM655 321h8v11h-8zM680 321h8v11h-8zM728 321h16v11h-16zM752 321h9v11h-9zM777 321h16v11h-16zM842 321h8v11h-8zM169 332h8v10h-8zM242 332h16v10h-16zM331 332h8v10h-8zM380 332h16v10h-16zM566 332h16v10h-16zM736 332h8v10h-8zM777 332h16v10h-16zM145 342h8v11h-8zM258 342h17v11h-17zM339 342h17v11h-17zM372 342h24v11h-24zM412 342h8v11h-8zM550 342h16v11h-16zM655 342h8v11h-8zM777 342h8v11h-8zM801 342h24v11h-24zM283 353h8v11h-8zM299 353h8v11h-8zM348 353h8v11h-8zM380 353h8v11h-8zM526 353h8v11h-8zM615 353h8v11h-8zM647 353h8v11h-8zM672 353h8v11h-8zM744 353h8v11h-8zM817 353h8v11h-8zM307 364h8v10h-8zM339 364h17v10h-17zM388 364h16v10h-16zM485 364h8v10h-8zM647 364h8v10h-8zM688 364h8v10h-8zM728 364h8v10h-8zM817 364h25v10h-25zM283 374h8v11h-8zM388 374h8v11h-8zM493 374h8v11h-8zM534 374h8v11h-8zM623 374h8v11h-8zM680 374h16v11h-16zM736 374h8v11h-8zM825 374h9v11h-9zM842 374h16v11h-16zM874 374h16v11h-16zM898 374h8v11h-8zM315 385h8v11h-8zM331 385h8v11h-8zM348 385h8v11h-8zM420 385h8v11h-8zM574 385h8v11h-8zM696 385h16v11h-16zM744 385h8v11h-8zM761 385h8v11h-8zM801 385h8v11h-8zM817 385h8v11h-8zM874 385h8v11h-8zM898 385h8v11h-8zM283 396h8v10h-8zM396 396h16v10h-16zM477 396h8v10h-8zM566 396h16v10h-16zM607 396h16v10h-16zM647 396h16v10h-16zM696 396h16v10h-16zM793 396h8v10h-8zM258 406h17v11h-17zM485 406h16v11h-16zM534 406h8v11h-8zM672 406h8v11h-8zM744 406h17v11h-17zM809 406h16v11h-16zM842 406h32v11h-32zM882 406h8v11h-8zM315 417h8v11h-8zM428 417h9v11h-9zM461 417h8v11h-8zM485 417h8v11h-8zM526 417h16v11h-16zM672 417h8v11h-8zM744 417h17v11h-17zM817 417h8v11h-8zM850 417h8v11h-8zM866 417h16v11h-16zM339 428h9v10h-9zM412 428h8v10h-8zM453 428h8v10h-8zM590 428h9v10h-9zM647 428h33v10h-33zM704 428h8v10h-8zM761 428h16v10h-16zM801 428h8v10h-8zM842 428h8v10h-8zM242 438h8v11h-8zM283 438h8v11h-8zM348 438h8v11h-8zM647 438h16v11h-16zM680 438h8v11h-8zM696 438h16v11h-16zM720 438h8v11h-8zM834 438h8v11h-8zM866 438h8v11h-8zM380 449h8v11h-8zM469 449h16v11h-16zM501 449h9v11h-9zM720 449h8v11h-8zM744 449h8v11h-8zM769 449h8v11h-8zM842 449h16v11h-16zM866 449h8v11h-8zM202 460h8v11h-8zM307 460h16v11h-16zM477 460h8v11h-8zM493 460h8v11h-8zM558 460h8v11h-8zM590 460h9v11h-9zM744 460h33v11h-33zM842 460h8v11h-8zM874 460h16v11h-16zM177 471h9v10h-9zM242 471h8v10h-8zM364 471h24v10h-24zM501 471h9v10h-9zM534 471h8v10h-8zM550 471h16v10h-16zM582 471h8v10h-8zM647 471h8v10h-8zM696 471h8v10h-8zM809 471h8v10h-8zM882 471h24v10h-24zM177 481h17v11h-17zM226 481h8v11h-8zM283 481h8v11h-8zM380 481h8v11h-8zM453 481h8v11h-8zM518 481h32v11h-32zM566 481h8v11h-8zM647 481h16v11h-16zM696 481h8v11h-8zM728 481h16v11h-16zM809 481h8v11h-8zM842 481h16v11h-16zM874 481h16v11h-16zM210 492h16v11h-16zM348 492h8v11h-8zM388 492h16v11h-16zM412 492h25v11h-25zM493 492h8v11h-8zM510 492h8v11h-8zM688 492h8v11h-8zM712 492h8v11h-8zM801 492h8v11h-8zM825 492h9v11h-9zM210 503h8v10h-8zM299 503h8v10h-8zM323 503h8v10h-8zM356 503h16v10h-16zM388 503h16v10h-16zM412 503h8v10h-8zM445 503h8v10h-8zM477 503h8v10h-8zM501 503h9v10h-9zM534 503h8v10h-8zM590 503h9v10h-9zM607 503h8v10h-8zM736 503h8v10h-8zM793 503h16v10h-16zM882 503h8v10h-8zM202 513h24v11h-24zM380 513h8v11h-8zM412 513h16v11h-16zM437 513h16v11h-16zM461 513h8v11h-8zM566 513h16v11h-16zM623 513h8v11h-8zM639 513h8v11h-8zM736 513h8v11h-8zM242 524h8v11h-8zM275 524h16v11h-16zM307 524h8v11h-8zM356 524h32v11h-32zM437 524h24v11h-24zM566 524h8v11h-8zM607 524h8v11h-8zM663 524h9v11h-9zM680 524h8v11h-8zM744 524h17v11h-17zM769 524h8v11h-8zM923 524h8v11h-8zM291 535h8v11h-8zM315 535h8v11h-8zM331 535h8v11h-8zM348 535h16v11h-16zM404 535h8v11h-8zM461 535h8v11h-8zM582 535h8v11h-8zM615 535h24v11h-24zM696 535h16v11h-16zM744 535h8v11h-8zM777 535h8v11h-8zM825 535h9v11h-9zM850 535h8v11h-8zM291 546h8v10h-8zM307 546h49v10h-49zM412 546h8v10h-8zM469 546h16v10h-16zM607 546h8v10h-8zM663 546h9v10h-9zM696 546h16v10h-16zM842 546h32v10h-32zM315 556h8v11h-8zM331 556h8v11h-8zM445 556h8v11h-8zM469 556h8v11h-8zM510 556h8v11h-8zM566 556h16v11h-16zM680 556h8v11h-8zM809 556h8v11h-8zM874 556h16v11h-16zM923 556h8v11h-8zM283 567h8v11h-8zM388 567h8v11h-8zM437 567h8v11h-8zM477 567h8v11h-8zM493 567h25v11h-25zM566 567h16v11h-16zM680 567h8v11h-8zM874 567h16v11h-16zM923 567h8v11h-8zM372 578h16v10h-16zM477 578h8v10h-8zM510 578h8v10h-8zM534 578h16v10h-16zM631 578h8v10h-8zM680 578h16v10h-16zM923 578h8v10h-8zM331 588h8v11h-8zM372 588h16v11h-16zM534 588h8v11h-8zM599 588h8v11h-8zM623 588h8v11h-8zM663 588h9v11h-9zM680 588h16v11h-16zM437 599h16v11h-16zM485 599h8v11h-8zM510 599h8v11h-8zM542 599h8v11h-8zM615 599h16v11h-16zM663 599h9v11h-9zM736 599h8v11h-8zM437 610h16v10h-16zM607 610h16v10h-16zM874 610h8v10h-8zM518 620h8v11h-8zM558 620h8v11h-8zM607 620h16v11h-16zM639 620h8v11h-8zM655 620h8v11h-8zM890 620h16v11h-16zM558 631h8v11h-8zM631 631h32v11h-32zM890 631h8v11h-8zM534 642h16v10h-16zM623 642h40v10h-40zM542 652h8v11h-8zM582 652h8v11h-8zM647 652h16v11h-16zM882 652h8v11h-8zM510 663h8v11h-8zM534 663h8v11h-8zM566 663h24v11h-24zM615 663h16v11h-16zM647 663h8v11h-8zM744 663h8v11h-8zM842 663h8v11h-8zM858 663h16v11h-16zM501 674h17v11h-17zM574 674h8v11h-8zM590 674h9v11h-9zM615 674h16v11h-16zM858 674h8v11h-8zM518 685h16v10h-16zM542 685h8v10h-8zM558 685h8v10h-8zM582 685h8v10h-8zM599 685h16v10h-16zM655 685h8v10h-8zM761 685h8v10h-8zM842 685h8v10h-8zM566 695h16v11h-16zM590 695h9v11h-9zM607 695h8v11h-8zM696 695h8v11h-8zM769 695h8v11h-8zM534 706h8v11h-8zM574 706h8v11h-8zM599 706h16v11h-16zM728 706h16v11h-16zM793 706h8v11h-8zM526 717h8v10h-8zM542 717h8v10h-8zM566 717h8v10h-8zM599 717h8v10h-8zM728 717h16v10h-16zM574 727h8v11h-8zM769 727h8v11h-8zM720 760h8v10h-8zM736 770h8v11h-8zM744 781h17v11h-17zM712 792h8v10h-8zM744 792h8v10h-8z"/>
<path fill="#ffd596" d="M850 43h8v10h-8zM850 53h8v11h-8zM906 85h8v11h-8zM842 107h16v10h-16zM850 117h8v11h-8zM866 117h8v11h-8zM850 128h8v11h-8zM1004 128h16v11h-16zM882 139h8v11h-8zM898 139h8v11h-8zM1004 139h8v11h-8zM1020 139h8v11h-8zM785 150h8v10h-8zM1004 150h16v10h-16zM947 160h8v11h-8zM963 160h8v11h-8zM1004 160h8v11h-8zM356 171h8v11h-8zM388 171h8v11h-8zM971 171h16v11h-16zM315 182h8v10h-8zM356 182h8v10h-8zM315 203h8v11h-8zM331 203h8v11h-8zM801 203h16v11h-16zM882 203h8v11h-8zM971 203h8v11h-8zM275 214h16v10h-16zM372 214h8v10h-8zM963 214h8v10h-8zM275 224h16v11h-16zM315 224h8v11h-8zM428 224h9v11h-9zM769 224h8v11h-8zM858 224h24v11h-24zM947 224h8v11h-8zM266 235h9v11h-9zM283 235h8v11h-8zM299 235h16v11h-16zM331 235h8v11h-8zM364 235h8v11h-8zM380 235h8v11h-8zM404 235h16v11h-16zM761 235h8v11h-8zM931 235h8v11h-8zM996 235h16v11h-16zM266 246h9v11h-9zM299 246h8v11h-8zM315 246h8v11h-8zM339 246h9v11h-9zM412 246h8v11h-8zM736 246h8v11h-8zM761 246h8v11h-8zM866 246h8v11h-8zM923 246h16v11h-16zM987 246h17v11h-17zM307 257h16v10h-16zM372 257h16v10h-16zM420 257h17v10h-17zM793 257h16v10h-16zM250 267h8v11h-8zM283 267h8v11h-8zM372 267h16v11h-16zM420 267h8v11h-8zM469 267h8v11h-8zM744 267h17v11h-17zM777 267h8v11h-8zM793 267h16v11h-16zM250 278h8v11h-8zM356 278h24v11h-24zM396 278h16v11h-16zM469 278h16v11h-16zM801 278h8v11h-8zM874 278h16v11h-16zM153 289h8v10h-8zM218 289h8v10h-8zM356 289h16v10h-16zM388 289h32v10h-32zM469 289h8v10h-8zM493 289h8v10h-8zM720 289h8v10h-8zM842 289h8v10h-8zM874 289h8v10h-8zM955 289h8v10h-8zM153 299h8v11h-8zM258 299h17v11h-17zM299 299h16v11h-16zM372 299h8v11h-8zM388 299h8v11h-8zM404 299h8v11h-8zM461 299h8v11h-8zM510 299h16v11h-16zM704 299h8v11h-8zM744 299h17v11h-17zM825 299h9v11h-9zM939 299h8v11h-8zM258 310h17v11h-17zM291 310h8v11h-8zM372 310h16v11h-16zM428 310h9v11h-9zM461 310h8v11h-8zM501 310h9v11h-9zM590 310h9v11h-9zM696 310h8v11h-8zM752 310h9v11h-9zM785 310h16v11h-16zM266 321h9v11h-9zM339 321h9v11h-9zM404 321h16v11h-16zM437 321h24v11h-24zM477 321h8v11h-8zM582 321h17v11h-17zM688 321h8v11h-8zM704 321h8v11h-8zM858 321h16v11h-16zM161 332h8v10h-8zM258 332h17v10h-17zM364 332h8v10h-8zM396 332h8v10h-8zM412 332h8v10h-8zM428 332h25v10h-25zM469 332h16v10h-16zM607 332h8v10h-8zM680 332h8v10h-8zM696 332h16v10h-16zM858 332h8v10h-8zM898 332h8v10h-8zM169 342h8v11h-8zM210 342h16v11h-16zM323 342h8v11h-8zM518 342h8v11h-8zM663 342h17v11h-17zM761 342h8v11h-8zM785 342h8v11h-8zM161 353h8v11h-8zM186 353h8v11h-8zM202 353h24v11h-24zM242 353h8v11h-8zM266 353h9v11h-9zM469 353h8v11h-8zM518 353h8v11h-8zM550 353h8v11h-8zM566 353h8v11h-8zM663 353h9v11h-9zM680 353h8v11h-8zM785 353h24v11h-24zM153 364h8v10h-8zM177 364h9v10h-9zM194 364h32v10h-32zM356 364h16v10h-16zM420 364h17v10h-17zM558 364h8v10h-8zM623 364h24v10h-24zM761 364h16v10h-16zM801 364h8v10h-8zM194 374h8v11h-8zM210 374h8v11h-8zM234 374h8v11h-8zM356 374h16v11h-16zM420 374h17v11h-17zM485 374h8v11h-8zM526 374h8v11h-8zM582 374h8v11h-8zM615 374h8v11h-8zM672 374h8v11h-8zM728 374h8v11h-8zM761 374h24v11h-24zM801 374h8v11h-8zM177 385h17v11h-17zM210 385h16v11h-16zM234 385h8v11h-8zM518 385h16v11h-16zM542 385h8v11h-8zM655 385h8v11h-8zM728 385h16v11h-16zM769 385h8v11h-8zM809 385h8v11h-8zM906 385h8v11h-8zM169 396h8v10h-8zM218 396h8v10h-8zM275 396h8v10h-8zM388 396h8v10h-8zM485 396h8v10h-8zM518 396h24v10h-24zM728 396h16v10h-16zM761 396h16v10h-16zM250 406h8v11h-8zM291 406h8v11h-8zM315 406h8v11h-8zM380 406h8v11h-8zM404 406h8v11h-8zM510 406h8v11h-8zM542 406h8v11h-8zM186 417h8v11h-8zM291 417h16v11h-16zM331 417h8v11h-8zM404 417h16v11h-16zM445 417h8v11h-8zM493 417h8v11h-8zM518 417h8v11h-8zM574 417h8v11h-8zM647 417h8v11h-8zM769 417h8v11h-8zM801 417h8v11h-8zM307 428h8v10h-8zM356 428h8v10h-8zM372 428h40v10h-40zM437 428h8v10h-8zM477 428h8v10h-8zM510 428h8v10h-8zM736 428h8v10h-8zM809 428h8v10h-8zM194 438h8v11h-8zM299 438h8v11h-8zM323 438h8v11h-8zM380 438h32v11h-32zM437 438h16v11h-16zM469 438h16v11h-16zM493 438h8v11h-8zM558 438h8v11h-8zM793 438h8v11h-8zM258 449h25v11h-25zM428 449h17v11h-17zM510 449h8v11h-8zM607 449h8v11h-8zM655 449h8v11h-8zM680 449h16v11h-16zM258 460h8v11h-8zM299 460h8v11h-8zM364 460h8v11h-8zM428 460h9v11h-9zM485 460h8v11h-8zM599 460h8v11h-8zM639 460h8v11h-8zM672 460h16v11h-16zM210 471h16v10h-16zM250 471h8v10h-8zM283 471h8v10h-8zM388 471h16v10h-16zM412 471h8v10h-8zM599 471h8v10h-8zM615 471h24v10h-24zM680 471h16v10h-16zM736 471h8v10h-8zM761 471h24v10h-24zM218 481h8v11h-8zM250 481h8v11h-8zM388 481h24v11h-24zM477 481h24v11h-24zM550 481h16v11h-16zM623 481h8v11h-8zM680 481h16v11h-16zM704 481h8v11h-8zM761 481h8v11h-8zM801 481h8v11h-8zM890 481h8v11h-8zM194 492h16v11h-16zM242 492h16v11h-16zM307 492h16v11h-16zM364 492h8v11h-8zM542 492h8v11h-8zM566 492h16v11h-16zM631 492h16v11h-16zM680 492h8v11h-8zM761 492h24v11h-24zM890 492h16v11h-16zM194 503h16v10h-16zM242 503h16v10h-16zM307 503h16v10h-16zM331 503h8v10h-8zM639 503h8v10h-8zM680 503h16v10h-16zM720 503h8v10h-8zM777 503h16v10h-16zM890 503h16v10h-16zM234 513h8v11h-8zM339 513h17v11h-17zM688 513h8v11h-8zM704 513h8v11h-8zM744 513h8v11h-8zM834 513h8v11h-8zM914 513h9v11h-9zM348 524h8v11h-8zM526 524h8v11h-8zM728 524h8v11h-8zM761 524h8v11h-8zM420 535h33v11h-33zM485 535h8v11h-8zM599 535h8v11h-8zM769 535h8v11h-8zM809 535h16v11h-16zM834 535h16v11h-16zM906 535h17v11h-17zM428 546h9v10h-9zM445 546h8v10h-8zM501 546h17v10h-17zM558 546h8v10h-8zM599 546h8v10h-8zM623 546h8v10h-8zM672 546h8v10h-8zM777 546h16v10h-16zM801 546h8v10h-8zM825 546h17v10h-17zM906 546h17v10h-17zM323 556h8v11h-8zM420 556h25v11h-25zM453 556h8v11h-8zM558 556h8v11h-8zM599 556h8v11h-8zM615 556h8v11h-8zM647 556h25v11h-25zM688 556h8v11h-8zM825 556h9v11h-9zM898 556h8v11h-8zM323 567h8v11h-8zM420 567h17v11h-17zM469 567h8v11h-8zM534 567h8v11h-8zM558 567h8v11h-8zM615 567h8v11h-8zM639 567h24v11h-24zM672 567h8v11h-8zM777 567h8v11h-8zM793 567h8v11h-8zM809 567h8v11h-8zM898 567h8v11h-8zM348 578h16v10h-16zM437 578h16v10h-16zM639 578h8v10h-8zM712 578h24v10h-24zM744 578h25v10h-25zM777 578h16v10h-16zM801 578h16v10h-16zM858 578h16v10h-16zM356 588h16v11h-16zM437 588h16v11h-16zM582 588h8v11h-8zM631 588h16v11h-16zM672 588h8v11h-8zM712 588h8v11h-8zM728 588h24v11h-24zM761 588h32v11h-32zM809 588h8v11h-8zM469 599h16v11h-16zM534 599h8v11h-8zM566 599h8v11h-8zM582 599h17v11h-17zM647 599h8v11h-8zM680 599h8v11h-8zM728 599h8v11h-8zM752 599h9v11h-9zM834 599h8v11h-8zM866 599h8v11h-8zM890 599h16v11h-16zM404 610h8v10h-8zM526 610h8v10h-8zM590 610h9v10h-9zM631 610h8v10h-8zM704 610h8v10h-8zM736 610h8v10h-8zM761 610h8v10h-8zM793 610h8v10h-8zM825 610h17v10h-17zM882 610h16v10h-16zM906 610h8v10h-8zM663 620h17v11h-17zM761 620h8v11h-8zM801 620h8v11h-8zM858 620h8v11h-8zM663 631h17v11h-17zM696 631h8v11h-8zM728 631h16v11h-16zM777 631h24v11h-24zM809 631h16v11h-16zM834 631h8v11h-8zM607 642h16v10h-16zM688 642h8v10h-8zM752 642h9v10h-9zM785 642h8v10h-8zM809 642h8v10h-8zM825 642h9v10h-9zM866 642h16v10h-16zM534 652h8v11h-8zM663 652h33v11h-33zM777 652h16v11h-16zM825 652h9v11h-9zM858 652h8v11h-8zM590 663h9v11h-9zM688 663h8v11h-8zM761 663h32v11h-32zM761 674h24v11h-24zM680 685h8v10h-8zM704 685h8v10h-8zM728 685h8v10h-8zM752 685h9v10h-9zM777 685h16v10h-16zM599 695h8v11h-8zM704 695h8v11h-8zM736 695h25v11h-25zM785 695h8v11h-8zM809 695h8v11h-8zM688 706h8v11h-8zM680 717h8v10h-8zM696 717h8v10h-8zM542 727h24v11h-24zM736 727h8v11h-8zM558 738h8v11h-8zM736 738h8v11h-8zM728 792h16v10h-16z"/>
<path fill="#5afaff" d="M834 64h8v11h-8zM825 75h9v10h-9zM850 75h8v10h-8zM890 85h8v11h-8zM866 107h8v10h-8zM882 107h16v10h-16zM882 117h16v11h-16zM866 128h24v11h-24zM923 128h8v11h-8zM971 128h8v11h-8zM858 139h24v11h-24zM939 150h8v10h-8zM955 150h8v10h-8zM364 182h8v10h-8zM866 182h8v10h-8zM955 192h16v11h-16zM955 203h16v11h-16zM987 203h9v11h-9zM380 214h8v10h-8zM858 214h8v10h-8zM939 214h8v10h-8zM315 235h8v11h-8zM356 235h8v11h-8zM906 235h8v11h-8zM356 246h16v11h-16zM420 246h17v11h-17zM461 246h8v11h-8zM906 246h17v11h-17zM283 257h8v10h-8zM412 267h8v11h-8zM874 267h8v11h-8zM890 278h16v11h-16zM299 289h8v10h-8zM890 289h16v10h-16zM550 310h8v11h-8zM898 321h8v11h-8zM501 332h9v10h-9zM736 364h8v10h-8zM372 374h8v11h-8zM331 438h8v11h-8zM194 449h8v11h-8zM266 471h9v10h-9zM785 471h8v10h-8zM291 513h16v11h-16zM331 513h8v11h-8zM396 513h8v11h-8zM291 524h16v11h-16zM323 524h16v11h-16zM388 524h8v11h-8zM558 524h8v11h-8zM283 535h8v11h-8zM299 535h8v11h-8zM339 535h9v11h-9zM364 535h8v11h-8zM931 535h8v11h-8zM275 546h16v10h-16zM299 546h8v10h-8zM364 546h8v10h-8zM299 556h8v11h-8zM339 578h9v10h-9zM898 631h8v11h-8zM623 706h8v11h-8zM704 727h8v11h-8z"/>
<path fill="#ffab6b" d="M801 139h8v11h-8zM339 203h17v11h-17zM291 214h8v10h-8zM396 224h8v11h-8zM388 235h16v11h-16zM291 246h8v11h-8zM388 246h24v11h-24zM437 246h16v11h-16zM979 246h8v11h-8zM453 257h8v10h-8zM339 278h9v11h-9zM242 289h16v10h-16zM194 299h16v11h-16zM218 299h8v11h-8zM291 299h8v11h-8zM161 310h8v11h-8zM194 310h16v11h-16zM153 321h8v11h-8zM177 321h17v11h-17zM186 332h16v10h-16zM315 332h8v10h-8zM153 342h16v11h-16zM615 342h8v11h-8zM688 342h8v11h-8zM242 364h16v10h-16zM461 364h24v10h-24zM518 364h8v10h-8zM202 374h8v11h-8zM250 374h8v11h-8zM437 374h8v11h-8zM453 374h8v11h-8zM477 374h8v11h-8zM161 385h8v11h-8zM202 385h8v11h-8zM372 385h16v11h-16zM412 385h8v11h-8zM437 385h8v11h-8zM607 385h8v11h-8zM202 396h8v10h-8zM242 396h8v10h-8zM372 396h16v10h-16zM412 396h8v10h-8zM226 406h8v11h-8zM412 406h8v11h-8zM445 406h16v11h-16zM218 417h8v11h-8zM234 417h8v11h-8zM307 417h8v11h-8zM437 417h8v11h-8zM510 417h8v11h-8zM631 417h8v11h-8zM655 417h8v11h-8zM315 428h24v10h-24zM485 428h16v10h-16zM412 438h8v11h-8zM485 438h8v11h-8zM323 449h8v11h-8zM372 449h8v11h-8zM412 449h8v11h-8zM582 449h25v11h-25zM266 460h9v11h-9zM372 460h16v11h-16zM412 460h8v11h-8zM469 460h8v11h-8zM655 460h8v11h-8zM226 471h8v10h-8zM258 471h8v10h-8zM704 471h8v10h-8zM258 481h17v11h-17zM615 481h8v11h-8zM437 492h8v11h-8zM623 524h8v11h-8zM672 556h8v11h-8zM752 556h9v11h-9zM631 567h8v11h-8zM582 578h8v10h-8zM607 599h8v11h-8zM785 599h8v11h-8zM542 610h8v10h-8zM526 695h8v11h-8zM712 695h8v11h-8zM680 706h8v11h-8zM696 706h8v11h-8z"/>
<path fill="#ff7c52" d="M202 321h8v11h-8zM202 332h8v10h-8zM194 342h8v11h-8zM186 364h8v10h-8zM177 374h9v11h-9zM412 374h8v11h-8zM445 374h8v11h-8zM461 374h8v11h-8zM226 385h8v11h-8zM453 385h16v11h-16zM453 396h8v10h-8zM210 406h16v11h-16zM234 406h8v11h-8zM210 417h8v11h-8zM226 417h8v11h-8zM218 428h8v10h-8zM210 438h8v11h-8z"/>
<path fill="#00b4ff" d="M923 107h8v10h-8zM898 128h25v11h-25zM939 128h8v11h-8zM906 139h17v11h-17zM931 150h8v10h-8zM955 160h8v11h-8zM1004 182h8v10h-8zM339 192h9v11h-9zM931 203h8v11h-8zM1004 203h8v11h-8zM356 214h8v10h-8zM825 214h9v10h-9zM874 214h8v10h-8zM955 214h8v10h-8zM939 224h8v11h-8zM914 235h9v11h-9zM947 235h32v11h-32zM939 246h40v11h-40zM923 257h24v10h-24zM931 267h8v11h-8zM955 278h8v11h-8zM372 481h8v11h-8zM266 503h9v10h-9zM266 513h9v11h-9zM258 524h17v11h-17zM275 535h8v11h-8zM307 535h8v11h-8zM323 535h8v11h-8zM388 535h16v11h-16zM258 546h8v10h-8zM372 546h8v10h-8zM388 546h16v10h-16zM266 556h9v11h-9zM283 556h8v11h-8zM275 567h8v11h-8zM291 567h8v11h-8zM331 567h8v11h-8zM299 578h8v10h-8zM728 760h16v10h-16zM728 770h8v11h-8zM728 781h8v11h-8z"/>
<path fill="#0088ff" d="M947 257h8v10h-8zM971 257h16v10h-16zM955 267h8v11h-8zM971 267h8v11h-8zM939 278h16v11h-16zM939 289h16v10h-16zM291 332h8v10h-8zM275 342h8v11h-8zM291 342h8v11h-8zM283 503h8v10h-8zM283 513h8v11h-8zM307 513h8v11h-8zM315 524h8v11h-8zM250 535h8v11h-8zM428 578h9v10h-9z"/>
<path fill="#0050ff" d="M955 257h16v10h-16zM939 267h16v11h-16zM963 267h8v11h-8zM931 278h8v11h-8zM283 342h8v11h-8zM299 342h8v11h-8zM266 546h9v10h-9z"/>
<path fill="#ff0a28" d="M210 321h8v11h-8zM210 332h8v10h-8zM218 374h8v11h-8z"/>
</g>
<use href="#land" fill="none" stroke="#9a9a9a" stroke-width="1.6"/>
<polygon points="945,627 955,632 954,649 949,677.5 942,698 930,688 925,671 932,649" fill="none" stroke="#9a9a9a" stroke-width="1.2"/>
<use href="#rivers"/>
<use href="#grat"/>
<rect x="140" y="630" width="129.5" height="196" fill="#fff" stroke="#22222e" stroke-width="3"/>
<rect x="271" y="631" width="2" height="197" fill="#666870"/>
<use href="#insetc"/>
<rect x="139.2" y="20.4" width="897.3" height="808.2" fill="none" stroke="#000" stroke-width="2.6"/>
</g>
<g transform="translate(916,827)">
<rect x="140" y="21" width="896" height="807" fill="#b3b3b3"/>
<use href="#land" fill="#fff"/>
<g clip-path="url(#clipLand)">
<path fill="#fff0b4" d="M817 53h8v11h-8zM842 53h8v11h-8zM858 53h16v11h-16zM801 64h8v11h-8zM825 64h9v11h-9zM850 64h8v11h-8zM801 75h8v10h-8zM825 75h9v10h-9zM866 75h8v10h-8zM882 75h8v10h-8zM842 96h8v11h-8zM809 107h8v10h-8zM842 107h32v10h-32zM850 117h24v11h-24zM1020 128h8v11h-8zM793 150h16v10h-16zM825 150h9v10h-9zM769 160h8v11h-8zM793 160h8v11h-8zM1012 160h8v11h-8zM364 171h8v11h-8zM777 171h8v11h-8zM825 171h17v11h-17zM874 171h8v11h-8zM356 182h16v10h-16zM777 182h8v10h-8zM858 182h8v10h-8zM323 192h16v11h-16zM842 192h8v11h-8zM331 203h8v11h-8zM412 214h16v10h-16zM793 214h16v10h-16zM769 224h8v11h-8zM388 235h8v11h-8zM428 235h9v11h-9zM1004 235h8v11h-8zM388 246h16v11h-16zM720 246h8v11h-8zM761 246h16v11h-16zM834 246h8v11h-8zM453 257h16v10h-16zM485 257h8v10h-8zM761 257h8v10h-8zM923 257h8v10h-8zM404 267h8v11h-8zM453 267h16v11h-16zM761 267h16v11h-16zM882 267h8v11h-8zM234 278h8v11h-8zM388 278h16v11h-16zM420 278h8v11h-8zM437 278h8v11h-8zM493 278h8v11h-8zM299 289h8v10h-8zM396 289h8v10h-8zM477 289h8v10h-8zM493 289h8v10h-8zM137 299h24v11h-24zM210 299h8v11h-8zM437 299h16v11h-16zM469 299h8v11h-8zM736 299h8v11h-8zM858 299h8v11h-8zM890 299h8v11h-8zM153 310h8v11h-8zM226 310h8v11h-8zM437 310h8v11h-8zM461 310h24v11h-24zM704 310h8v11h-8zM728 310h8v11h-8zM744 310h8v11h-8zM866 310h8v11h-8zM137 321h16v11h-16zM291 321h8v11h-8zM315 321h8v11h-8zM396 321h8v11h-8zM437 321h8v11h-8zM493 321h8v11h-8zM534 321h8v11h-8zM550 321h16v11h-16zM582 321h17v11h-17zM744 321h8v11h-8zM825 321h9v11h-9zM842 321h24v11h-24zM169 332h8v10h-8zM445 332h16v10h-16zM582 332h17v10h-17zM607 332h8v10h-8zM639 332h8v10h-8zM712 332h16v10h-16zM736 332h8v10h-8zM842 332h16v10h-16zM218 342h8v11h-8zM372 342h8v11h-8zM412 342h8v11h-8zM428 342h9v11h-9zM485 342h33v11h-33zM623 342h8v11h-8zM672 342h8v11h-8zM712 342h8v11h-8zM728 342h16v11h-16zM161 353h16v11h-16zM242 353h16v11h-16zM380 353h8v11h-8zM420 353h8v11h-8zM493 353h8v11h-8zM510 353h8v11h-8zM696 353h8v11h-8zM712 353h32v11h-32zM169 364h8v10h-8zM234 364h8v10h-8zM250 364h8v10h-8zM469 364h8v10h-8zM566 364h8v10h-8zM599 364h8v10h-8zM647 364h8v10h-8zM672 364h8v10h-8zM169 374h8v11h-8zM226 374h16v11h-16zM250 374h16v11h-16zM445 374h8v11h-8zM607 374h8v11h-8zM647 374h8v11h-8zM663 374h9v11h-9zM696 374h8v11h-8zM793 374h8v11h-8zM906 374h8v11h-8zM299 385h8v11h-8zM388 385h8v11h-8zM412 385h8v11h-8zM510 385h8v11h-8zM574 385h8v11h-8zM607 385h8v11h-8zM672 385h8v11h-8zM712 385h16v11h-16zM752 385h9v11h-9zM793 385h8v11h-8zM834 385h8v11h-8zM850 385h8v11h-8zM914 385h9v11h-9zM186 396h8v10h-8zM348 396h8v10h-8zM404 396h16v10h-16zM574 396h8v10h-8zM607 396h8v10h-8zM720 396h16v10h-16zM752 396h9v10h-9zM809 396h8v10h-8zM194 406h16v11h-16zM469 406h8v11h-8zM501 406h9v11h-9zM526 406h8v11h-8zM720 406h8v11h-8zM736 406h8v11h-8zM777 406h16v11h-16zM809 406h16v11h-16zM834 406h8v11h-8zM194 417h8v11h-8zM469 417h8v11h-8zM501 417h17v11h-17zM728 417h16v11h-16zM777 417h8v11h-8zM817 417h25v11h-25zM858 417h8v11h-8zM218 428h8v10h-8zM283 428h8v10h-8zM501 428h17v10h-17zM744 428h17v10h-17zM777 428h8v10h-8zM266 438h17v11h-17zM364 438h8v11h-8zM501 438h9v11h-9zM526 438h8v11h-8zM566 438h8v11h-8zM631 438h8v11h-8zM744 438h17v11h-17zM785 438h8v11h-8zM266 449h9v11h-9zM291 449h8v11h-8zM372 449h16v11h-16zM477 449h8v11h-8zM501 449h17v11h-17zM582 449h8v11h-8zM680 449h8v11h-8zM793 449h8v11h-8zM850 449h8v11h-8zM898 449h8v11h-8zM291 460h8v11h-8zM477 460h8v11h-8zM501 460h9v11h-9zM550 460h8v11h-8zM639 460h8v11h-8zM801 460h8v11h-8zM842 460h16v11h-16zM890 460h16v11h-16zM234 471h8v10h-8zM275 471h16v10h-16zM356 471h8v10h-8zM412 471h8v10h-8zM445 471h8v10h-8zM477 471h8v10h-8zM501 471h17v10h-17zM542 471h8v10h-8zM582 471h17v10h-17zM639 471h8v10h-8zM720 471h8v10h-8zM761 471h32v10h-32zM817 471h8v10h-8zM874 471h8v10h-8zM890 471h16v10h-16zM218 481h24v11h-24zM283 481h8v11h-8zM372 481h8v11h-8zM412 481h8v11h-8zM469 481h8v11h-8zM510 481h8v11h-8zM582 481h17v11h-17zM615 481h8v11h-8zM639 481h8v11h-8zM712 481h8v11h-8zM752 481h25v11h-25zM874 481h8v11h-8zM890 481h8v11h-8zM258 492h8v11h-8zM275 492h16v11h-16zM420 492h17v11h-17zM469 492h8v11h-8zM501 492h9v11h-9zM526 492h8v11h-8zM607 492h8v11h-8zM663 492h9v11h-9zM736 492h16v11h-16zM777 492h16v11h-16zM809 492h8v11h-8zM858 492h8v11h-8zM890 492h16v11h-16zM923 492h8v11h-8zM242 503h8v10h-8zM275 503h8v10h-8zM339 503h9v10h-9zM420 503h17v10h-17zM469 503h16v10h-16zM526 503h8v10h-8zM647 503h8v10h-8zM728 503h16v10h-16zM752 503h9v10h-9zM785 503h8v10h-8zM817 503h8v10h-8zM834 503h8v10h-8zM858 503h16v10h-16zM882 503h24v10h-24zM914 503h9v10h-9zM234 513h8v11h-8zM348 513h8v11h-8zM404 513h8v11h-8zM550 513h16v11h-16zM663 513h17v11h-17zM696 513h8v11h-8zM769 513h8v11h-8zM801 513h8v11h-8zM825 513h17v11h-17zM874 513h8v11h-8zM914 513h9v11h-9zM266 524h9v11h-9zM348 524h8v11h-8zM388 524h8v11h-8zM453 524h8v11h-8zM566 524h16v11h-16zM663 524h9v11h-9zM696 524h16v11h-16zM801 524h8v11h-8zM834 524h8v11h-8zM364 535h8v11h-8zM396 535h16v11h-16zM420 535h17v11h-17zM453 535h16v11h-16zM599 535h8v11h-8zM680 535h16v11h-16zM728 535h8v11h-8zM752 535h9v11h-9zM801 535h24v11h-24zM874 535h8v11h-8zM396 546h8v10h-8zM420 546h8v10h-8zM461 546h8v10h-8zM574 546h8v10h-8zM599 546h8v10h-8zM680 546h16v10h-16zM728 546h8v10h-8zM744 546h8v10h-8zM761 546h8v10h-8zM801 546h24v10h-24zM834 546h8v10h-8zM266 556h9v11h-9zM356 556h8v11h-8zM510 556h8v11h-8zM526 556h8v11h-8zM550 556h8v11h-8zM566 556h8v11h-8zM599 556h16v11h-16zM631 556h8v11h-8zM647 556h8v11h-8zM663 556h17v11h-17zM761 556h16v11h-16zM785 556h8v11h-8zM817 556h8v11h-8zM445 567h8v11h-8zM526 567h8v11h-8zM550 567h16v11h-16zM574 567h8v11h-8zM599 567h8v11h-8zM663 567h17v11h-17zM761 567h8v11h-8zM777 567h16v11h-16zM906 567h8v11h-8zM307 578h16v10h-16zM388 578h16v10h-16zM453 578h16v10h-16zM574 578h8v10h-8zM607 578h24v10h-24zM663 578h17v10h-17zM688 578h8v10h-8zM809 578h16v10h-16zM858 578h16v10h-16zM882 578h8v10h-8zM388 588h8v11h-8zM461 588h8v11h-8zM526 588h8v11h-8zM615 588h16v11h-16zM663 588h33v11h-33zM712 588h8v11h-8zM801 588h16v11h-16zM906 588h8v11h-8zM396 599h8v11h-8zM420 599h8v11h-8zM445 599h8v11h-8zM631 599h16v11h-16zM704 599h8v11h-8zM761 599h8v11h-8zM842 599h8v11h-8zM890 599h24v11h-24zM550 610h24v10h-24zM631 610h8v10h-8zM663 610h9v10h-9zM680 610h8v10h-8zM696 610h24v10h-24zM744 610h8v10h-8zM785 610h8v10h-8zM809 610h8v10h-8zM834 610h16v10h-16zM898 610h16v10h-16zM526 620h8v11h-8zM607 620h8v11h-8zM647 620h8v11h-8zM712 620h24v11h-24zM744 620h8v11h-8zM785 620h8v11h-8zM874 620h8v11h-8zM890 620h16v11h-16zM526 631h8v11h-8zM599 631h8v11h-8zM712 631h16v11h-16zM744 631h17v11h-17zM777 631h8v11h-8zM866 631h8v11h-8zM639 642h24v10h-24zM680 642h8v10h-8zM793 642h16v10h-16zM825 642h25v10h-25zM874 642h16v10h-16zM510 652h8v11h-8zM599 652h8v11h-8zM647 652h16v11h-16zM672 652h8v11h-8zM793 652h16v11h-16zM834 652h8v11h-8zM882 652h8v11h-8zM607 663h8v11h-8zM631 663h16v11h-16zM728 663h16v11h-16zM777 663h16v11h-16zM801 663h8v11h-8zM874 663h8v11h-8zM599 674h8v11h-8zM631 674h16v11h-16zM672 674h8v11h-8zM728 674h8v11h-8zM761 674h8v11h-8zM777 674h8v11h-8zM825 674h9v11h-9zM858 674h8v11h-8zM501 685h9v10h-9zM534 685h16v10h-16zM574 685h8v10h-8zM655 685h8v10h-8zM680 685h32v10h-32zM761 685h8v10h-8zM777 685h8v10h-8zM801 685h8v10h-8zM817 685h8v10h-8zM842 685h8v10h-8zM526 695h8v11h-8zM542 695h16v11h-16zM647 695h8v11h-8zM680 695h16v11h-16zM704 695h8v11h-8zM793 695h16v11h-16zM542 706h24v11h-24zM574 706h8v11h-8zM623 706h8v11h-8zM655 706h8v11h-8zM680 706h8v11h-8zM542 717h8v10h-8zM558 717h8v10h-8zM785 717h8v10h-8zM542 727h8v11h-8zM574 727h8v11h-8zM744 727h33v11h-33zM574 738h8v11h-8zM736 738h16v11h-16z"/>
<path fill="#d2ffff" d="M850 43h8v10h-8zM825 53h9v11h-9zM850 53h8v11h-8zM858 75h8v10h-8zM825 85h9v11h-9zM898 85h8v11h-8zM834 96h8v11h-8zM914 96h9v11h-9zM874 107h8v10h-8zM890 107h8v10h-8zM809 117h8v11h-8zM890 117h16v11h-16zM914 117h9v11h-9zM1012 117h8v11h-8zM842 128h16v11h-16zM866 128h8v11h-8zM890 128h8v11h-8zM906 128h17v11h-17zM971 128h8v11h-8zM1012 128h8v11h-8zM842 139h16v11h-16zM906 139h8v11h-8zM971 139h8v11h-8zM1004 139h8v11h-8zM777 150h16v10h-16zM858 150h8v10h-8zM939 150h16v10h-16zM1004 150h8v10h-8zM801 160h8v11h-8zM817 160h8v11h-8zM890 160h8v11h-8zM947 160h8v11h-8zM987 160h9v11h-9zM388 171h8v11h-8zM801 171h8v11h-8zM866 171h8v11h-8zM971 171h33v11h-33zM1012 171h8v11h-8zM834 182h8v10h-8zM923 182h16v10h-16zM971 182h8v10h-8zM996 182h8v10h-8zM420 192h8v11h-8zM817 192h8v11h-8zM834 192h8v11h-8zM955 192h8v11h-8zM307 203h8v11h-8zM339 203h9v11h-9zM931 203h8v11h-8zM979 203h8v11h-8zM348 214h8v10h-8zM785 214h8v10h-8zM874 214h16v10h-16zM947 214h8v10h-8zM283 224h16v11h-16zM307 224h8v11h-8zM777 224h8v11h-8zM858 224h8v11h-8zM874 224h16v11h-16zM931 224h8v11h-8zM947 224h8v11h-8zM372 235h8v11h-8zM396 235h8v11h-8zM761 235h8v11h-8zM793 235h8v11h-8zM825 235h41v11h-41zM955 235h8v11h-8zM380 246h8v11h-8zM420 246h8v11h-8zM744 246h17v11h-17zM850 246h8v11h-8zM906 246h8v11h-8zM955 246h8v11h-8zM275 257h8v10h-8zM291 257h8v10h-8zM339 257h9v10h-9zM420 257h8v10h-8zM777 257h16v10h-16zM809 257h16v10h-16zM834 257h8v10h-8zM858 257h8v10h-8zM348 267h8v11h-8zM777 267h24v11h-24zM817 267h8v11h-8zM275 278h16v11h-16zM348 278h8v11h-8zM404 278h8v11h-8zM769 278h8v11h-8zM785 278h8v11h-8zM906 278h8v11h-8zM177 289h9v10h-9zM404 289h16v10h-16zM469 289h8v10h-8zM485 289h8v10h-8zM801 289h8v10h-8zM923 289h8v10h-8zM331 299h8v11h-8zM364 299h8v11h-8zM461 299h8v11h-8zM534 299h8v11h-8zM777 299h16v11h-16zM874 299h8v11h-8zM939 299h8v11h-8zM137 310h8v11h-8zM161 310h8v11h-8zM323 310h16v11h-16zM412 310h8v11h-8zM428 310h9v11h-9zM558 310h8v11h-8zM769 310h8v11h-8zM785 310h8v11h-8zM874 310h8v11h-8zM931 310h8v11h-8zM242 321h8v11h-8zM348 321h8v11h-8zM388 321h8v11h-8zM485 321h8v11h-8zM510 321h8v11h-8zM542 321h8v11h-8zM769 321h8v11h-8zM785 321h8v11h-8zM874 321h8v11h-8zM906 321h17v11h-17zM226 332h8v10h-8zM428 332h9v10h-9zM485 332h8v10h-8zM526 332h24v10h-24zM728 332h8v10h-8zM744 332h8v10h-8zM769 332h16v10h-16zM817 332h8v10h-8zM906 332h8v10h-8zM437 342h8v11h-8zM688 342h8v11h-8zM793 342h16v11h-16zM825 342h17v11h-17zM858 342h8v11h-8zM145 353h8v11h-8zM258 353h8v11h-8zM404 353h8v11h-8zM445 353h8v11h-8zM501 353h9v11h-9zM558 353h8v11h-8zM623 353h16v11h-16zM769 353h8v11h-8zM801 353h8v11h-8zM161 364h8v10h-8zM202 364h8v10h-8zM380 364h8v10h-8zM574 364h25v10h-25zM623 364h8v10h-8zM744 364h8v10h-8zM793 364h16v10h-16zM161 374h8v11h-8zM210 374h8v11h-8zM323 374h8v11h-8zM510 374h8v11h-8zM566 374h33v11h-33zM615 374h8v11h-8zM639 374h8v11h-8zM801 374h8v11h-8zM874 374h8v11h-8zM194 385h16v11h-16zM258 385h8v11h-8zM380 385h8v11h-8zM518 385h16v11h-16zM550 385h16v11h-16zM761 385h8v11h-8zM866 385h8v11h-8zM906 385h8v11h-8zM202 396h8v10h-8zM258 396h8v10h-8zM420 396h8v10h-8zM461 396h8v10h-8zM550 396h24v10h-24zM599 396h8v10h-8zM680 396h8v10h-8zM866 396h8v10h-8zM890 396h8v10h-8zM210 406h8v11h-8zM242 406h8v11h-8zM266 406h9v11h-9zM493 406h8v11h-8zM210 417h8v11h-8zM242 417h16v11h-16zM582 417h17v11h-17zM704 417h8v11h-8zM752 417h17v11h-17zM210 428h8v10h-8zM242 428h16v10h-16zM566 428h8v10h-8zM599 428h16v10h-16zM647 428h16v10h-16zM866 428h8v10h-8zM242 438h8v11h-8zM599 438h8v11h-8zM647 438h16v11h-16zM858 438h8v11h-8zM461 449h8v11h-8zM558 449h16v11h-16zM696 449h8v11h-8zM809 449h8v11h-8zM825 449h17v11h-17zM874 449h8v11h-8zM186 460h8v11h-8zM453 460h16v11h-16zM712 460h8v11h-8zM777 460h8v11h-8zM825 460h17v11h-17zM874 460h8v11h-8zM186 471h8v10h-8zM210 471h8v10h-8zM372 471h8v10h-8zM615 471h24v10h-24zM680 471h8v10h-8zM704 471h16v10h-16zM752 471h9v10h-9zM793 471h24v10h-24zM834 471h8v10h-8zM866 471h8v10h-8zM177 481h9v11h-9zM210 481h8v11h-8zM420 481h8v11h-8zM501 481h9v11h-9zM534 481h8v11h-8zM558 481h8v11h-8zM623 481h16v11h-16zM866 481h8v11h-8zM291 492h8v11h-8zM339 492h17v11h-17zM372 492h16v11h-16zM518 492h8v11h-8zM631 492h16v11h-16zM842 492h16v11h-16zM874 492h8v11h-8zM348 503h8v10h-8zM372 503h16v10h-16zM404 503h8v10h-8zM518 503h8v10h-8zM590 503h9v10h-9zM631 503h16v10h-16zM672 503h8v10h-8zM688 503h8v10h-8zM761 503h8v10h-8zM842 503h16v10h-16zM210 513h8v11h-8zM242 513h8v11h-8zM307 513h8v11h-8zM339 513h9v11h-9zM372 513h16v11h-16zM453 513h8v11h-8zM534 513h8v11h-8zM647 513h16v11h-16zM704 513h8v11h-8zM728 513h8v11h-8zM777 513h8v11h-8zM842 513h8v11h-8zM858 513h8v11h-8zM906 513h8v11h-8zM331 524h8v11h-8zM356 524h8v11h-8zM380 524h8v11h-8zM461 524h24v11h-24zM542 524h8v11h-8zM647 524h16v11h-16zM761 524h8v11h-8zM777 524h16v11h-16zM850 524h8v11h-8zM437 535h8v11h-8zM493 535h8v11h-8zM542 535h8v11h-8zM558 535h8v11h-8zM615 535h16v11h-16zM663 535h17v11h-17zM866 535h8v11h-8zM315 546h8v10h-8zM437 546h16v10h-16zM469 546h16v10h-16zM534 546h8v10h-8zM582 546h8v10h-8zM623 546h8v10h-8zM866 546h8v10h-8zM364 556h8v11h-8zM477 556h8v11h-8zM801 556h8v11h-8zM323 567h8v11h-8zM356 567h8v11h-8zM380 567h8v11h-8zM420 567h8v11h-8zM501 567h9v11h-9zM518 567h8v11h-8zM631 567h8v11h-8zM801 567h8v11h-8zM842 567h8v11h-8zM485 578h8v10h-8zM542 578h8v10h-8zM582 578h17v10h-17zM923 578h8v10h-8zM356 588h8v11h-8zM396 588h8v11h-8zM453 588h8v11h-8zM582 588h8v11h-8zM607 588h8v11h-8zM631 588h8v11h-8zM752 588h9v11h-9zM825 588h9v11h-9zM890 588h8v11h-8zM404 599h16v11h-16zM437 599h8v11h-8zM501 599h9v11h-9zM558 599h8v11h-8zM655 599h8v11h-8zM752 599h9v11h-9zM793 599h16v11h-16zM914 599h9v11h-9zM404 610h16v10h-16zM672 610h8v10h-8zM793 610h16v10h-16zM542 620h16v11h-16zM599 620h8v11h-8zM655 620h25v11h-25zM542 631h8v11h-8zM590 631h9v11h-9zM607 631h8v11h-8zM663 631h9v11h-9zM518 642h8v10h-8zM599 642h16v10h-16zM623 642h8v10h-8zM744 642h8v10h-8zM518 652h8v11h-8zM607 652h8v11h-8zM663 652h9v11h-9zM704 652h8v11h-8zM761 652h8v11h-8zM817 652h8v11h-8zM874 652h8v11h-8zM599 663h8v11h-8zM623 663h8v11h-8zM663 663h9v11h-9zM680 663h8v11h-8zM510 674h8v11h-8zM542 674h8v11h-8zM793 674h8v11h-8zM590 685h9v10h-9zM623 685h8v10h-8zM663 685h17v10h-17zM720 685h8v10h-8zM785 685h8v10h-8zM834 685h8v10h-8zM663 695h17v11h-17zM744 695h8v11h-8zM777 695h16v11h-16zM534 706h8v11h-8zM582 706h8v11h-8zM696 706h16v11h-16zM720 706h8v11h-8zM574 717h25v10h-25zM696 717h16v10h-16zM769 717h8v10h-8zM550 727h24v11h-24zM688 727h8v11h-8zM720 727h8v11h-8zM558 738h8v11h-8zM720 760h8v10h-8zM728 770h8v11h-8zM720 781h16v11h-16zM736 792h16v10h-16z"/>
<path fill="#ffd596" d="M834 53h8v11h-8zM882 53h8v11h-8zM898 75h8v10h-8zM809 85h8v11h-8zM858 85h16v11h-16zM809 96h8v11h-8zM850 96h24v11h-24zM906 96h8v11h-8zM898 107h49v10h-49zM817 117h8v11h-8zM842 117h8v11h-8zM906 117h8v11h-8zM939 117h8v11h-8zM963 117h8v11h-8zM809 128h8v11h-8zM931 128h8v11h-8zM777 139h8v11h-8zM931 139h8v11h-8zM955 150h8v10h-8zM996 150h8v10h-8zM825 160h17v11h-17zM882 160h8v11h-8zM939 160h8v11h-8zM963 160h8v11h-8zM809 171h8v11h-8zM842 171h8v11h-8zM890 171h16v11h-16zM420 182h8v10h-8zM761 182h8v10h-8zM785 182h8v10h-8zM866 182h8v10h-8zM890 182h16v10h-16zM372 192h16v11h-16zM809 192h8v11h-8zM825 192h9v11h-9zM898 192h8v11h-8zM923 192h16v11h-16zM963 192h16v11h-16zM996 192h8v11h-8zM801 203h8v11h-8zM963 203h8v11h-8zM275 214h8v10h-8zM356 214h8v10h-8zM388 214h8v10h-8zM914 214h9v10h-9zM364 224h8v11h-8zM412 224h16v11h-16zM842 224h8v11h-8zM906 224h17v11h-17zM291 235h8v11h-8zM906 235h8v11h-8zM923 235h8v11h-8zM939 235h16v11h-16zM971 235h8v11h-8zM996 235h8v11h-8zM461 246h8v11h-8zM923 246h8v11h-8zM396 257h8v10h-8zM428 257h9v10h-9zM744 257h17v10h-17zM801 257h8v10h-8zM882 257h8v10h-8zM898 257h8v10h-8zM939 257h8v10h-8zM380 267h8v11h-8zM720 267h16v11h-16zM752 267h9v11h-9zM801 267h8v11h-8zM947 267h8v11h-8zM364 278h8v11h-8zM453 278h8v11h-8zM736 278h25v11h-25zM793 278h16v11h-16zM817 278h8v11h-8zM923 278h16v11h-16zM153 289h8v10h-8zM275 289h8v10h-8zM348 289h24v10h-24zM388 289h8v10h-8zM453 289h16v10h-16zM728 289h24v10h-24zM793 289h8v10h-8zM817 289h8v10h-8zM914 289h9v10h-9zM931 289h8v10h-8zM955 289h8v10h-8zM177 299h9v11h-9zM218 299h8v11h-8zM396 299h8v11h-8zM453 299h8v11h-8zM526 299h8v11h-8zM566 299h16v11h-16zM680 299h16v11h-16zM720 299h16v11h-16zM744 299h8v11h-8zM793 299h16v11h-16zM882 299h8v11h-8zM923 299h16v11h-16zM356 310h8v11h-8zM404 310h8v11h-8zM420 310h8v11h-8zM445 310h8v11h-8zM566 310h16v11h-16zM680 310h8v11h-8zM752 310h9v11h-9zM793 310h8v11h-8zM153 321h16v11h-16zM218 321h24v11h-24zM250 321h8v11h-8zM331 321h8v11h-8zM356 321h16v11h-16zM469 321h8v11h-8zM518 321h16v11h-16zM599 321h24v11h-24zM720 321h8v11h-8zM752 321h9v11h-9zM777 321h8v11h-8zM809 321h16v11h-16zM234 332h24v10h-24zM307 332h16v10h-16zM356 332h8v10h-8zM372 332h8v10h-8zM437 332h8v10h-8zM518 332h8v10h-8zM615 332h8v10h-8zM785 332h8v10h-8zM169 342h8v11h-8zM234 342h16v11h-16zM266 342h9v11h-9zM356 342h8v11h-8zM380 342h8v11h-8zM534 342h8v11h-8zM574 342h8v11h-8zM599 342h24v11h-24zM696 342h16v11h-16zM744 342h17v11h-17zM785 342h8v11h-8zM809 342h16v11h-16zM850 342h8v11h-8zM210 353h8v11h-8zM226 353h8v11h-8zM266 353h9v11h-9zM339 353h9v11h-9zM356 353h8v11h-8zM428 353h17v11h-17zM469 353h8v11h-8zM542 353h8v11h-8zM599 353h16v11h-16zM655 353h17v11h-17zM704 353h8v11h-8zM744 353h8v11h-8zM777 353h24v11h-24zM809 353h8v11h-8zM825 353h25v11h-25zM153 364h8v10h-8zM242 364h8v10h-8zM258 364h8v10h-8zM323 364h16v10h-16zM348 364h8v10h-8zM428 364h9v10h-9zM485 364h8v10h-8zM510 364h8v10h-8zM526 364h8v10h-8zM712 364h24v10h-24zM817 364h8v10h-8zM242 374h8v11h-8zM266 374h9v11h-9zM331 374h8v11h-8zM461 374h16v11h-16zM493 374h17v11h-17zM623 374h8v11h-8zM712 374h16v11h-16zM761 374h24v11h-24zM809 374h8v11h-8zM825 374h9v11h-9zM177 385h17v11h-17zM210 385h16v11h-16zM283 385h8v11h-8zM315 385h8v11h-8zM331 385h8v11h-8zM396 385h8v11h-8zM428 385h9v11h-9zM461 385h8v11h-8zM493 385h8v11h-8zM534 385h16v11h-16zM582 385h25v11h-25zM728 385h16v11h-16zM809 385h8v11h-8zM890 385h8v11h-8zM177 396h9v10h-9zM194 396h8v10h-8zM210 396h16v10h-16zM283 396h8v10h-8zM323 396h16v10h-16zM388 396h16v10h-16zM428 396h9v10h-9zM534 396h16v10h-16zM582 396h8v10h-8zM688 396h8v10h-8zM736 396h8v10h-8zM834 396h16v10h-16zM186 406h8v11h-8zM380 406h16v11h-16zM461 406h8v11h-8zM510 406h8v11h-8zM550 406h40v11h-40zM688 406h8v11h-8zM744 406h8v11h-8zM761 406h16v11h-16zM842 406h8v11h-8zM858 406h16v11h-16zM186 417h8v11h-8zM258 417h8v11h-8zM453 417h8v11h-8zM550 417h32v11h-32zM631 417h8v11h-8zM688 417h8v11h-8zM744 417h8v11h-8zM769 417h8v11h-8zM866 417h8v11h-8zM258 428h8v10h-8zM380 428h8v10h-8zM437 428h8v10h-8zM526 428h8v10h-8zM574 428h16v10h-16zM680 428h8v10h-8zM696 428h16v10h-16zM825 428h9v10h-9zM874 428h8v10h-8zM194 438h8v11h-8zM210 438h8v11h-8zM437 438h16v11h-16zM582 438h17v11h-17zM680 438h32v11h-32zM777 438h8v11h-8zM793 438h8v11h-8zM825 438h9v11h-9zM194 449h16v11h-16zM469 449h8v11h-8zM599 449h8v11h-8zM615 449h32v11h-32zM777 449h8v11h-8zM801 449h8v11h-8zM882 449h8v11h-8zM194 460h16v11h-16zM218 460h16v11h-16zM250 460h8v11h-8zM599 460h32v11h-32zM736 460h8v11h-8zM761 460h8v11h-8zM882 460h8v11h-8zM526 471h8v10h-8zM688 471h8v10h-8zM728 471h16v10h-16zM842 471h8v10h-8zM250 481h8v11h-8zM396 481h8v11h-8zM518 481h8v11h-8zM647 481h8v11h-8zM736 481h8v11h-8zM777 481h16v11h-16zM801 481h8v11h-8zM817 481h8v11h-8zM445 492h8v11h-8zM493 492h8v11h-8zM510 492h8v11h-8zM688 492h8v11h-8zM704 492h8v11h-8zM752 492h9v11h-9zM769 492h8v11h-8zM817 492h17v11h-17zM882 492h8v11h-8zM194 503h8v10h-8zM210 503h16v10h-16zM283 503h8v10h-8zM388 503h8v10h-8zM542 503h8v10h-8zM607 503h8v10h-8zM663 503h9v10h-9zM680 503h8v10h-8zM744 503h8v10h-8zM809 503h8v10h-8zM825 503h9v10h-9zM461 513h8v11h-8zM477 513h8v11h-8zM518 513h16v11h-16zM639 513h8v11h-8zM720 513h8v11h-8zM744 513h25v11h-25zM866 513h8v11h-8zM291 524h8v11h-8zM364 524h8v11h-8zM420 524h8v11h-8zM445 524h8v11h-8zM485 524h8v11h-8zM518 524h24v11h-24zM550 524h8v11h-8zM639 524h8v11h-8zM672 524h8v11h-8zM712 524h16v11h-16zM744 524h8v11h-8zM769 524h8v11h-8zM809 524h8v11h-8zM842 524h8v11h-8zM866 524h8v11h-8zM931 524h8v11h-8zM250 535h8v11h-8zM266 535h9v11h-9zM372 535h24v11h-24zM477 535h8v11h-8zM501 535h9v11h-9zM534 535h8v11h-8zM550 535h8v11h-8zM720 535h8v11h-8zM761 535h8v11h-8zM777 535h16v11h-16zM842 535h24v11h-24zM882 535h8v11h-8zM914 535h9v11h-9zM372 546h16v10h-16zM453 546h8v10h-8zM501 546h25v10h-25zM550 546h16v10h-16zM672 546h8v10h-8zM704 546h16v10h-16zM785 546h8v10h-8zM842 546h8v10h-8zM874 546h24v10h-24zM307 556h8v11h-8zM469 556h8v11h-8zM518 556h8v11h-8zM582 556h17v11h-17zM712 556h16v11h-16zM752 556h9v11h-9zM777 556h8v11h-8zM834 556h8v11h-8zM858 556h8v11h-8zM923 556h8v11h-8zM307 567h16v11h-16zM590 567h9v11h-9zM623 567h8v11h-8zM647 567h8v11h-8zM680 567h8v11h-8zM712 567h16v11h-16zM769 567h8v11h-8zM825 567h17v11h-17zM339 578h9v10h-9zM493 578h8v10h-8zM510 578h8v10h-8zM566 578h8v10h-8zM599 578h8v10h-8zM785 578h8v10h-8zM825 578h9v10h-9zM842 578h8v10h-8zM874 578h8v10h-8zM906 578h8v10h-8zM339 588h17v11h-17zM469 588h8v11h-8zM485 588h8v11h-8zM550 588h8v11h-8zM566 588h16v11h-16zM793 588h8v11h-8zM850 588h8v11h-8zM874 588h8v11h-8zM428 599h9v11h-9zM518 599h16v11h-16zM566 599h8v11h-8zM599 599h8v11h-8zM672 599h8v11h-8zM712 599h8v11h-8zM744 599h8v11h-8zM769 599h8v11h-8zM785 599h8v11h-8zM817 599h8v11h-8zM858 599h16v11h-16zM518 610h16v10h-16zM574 610h16v10h-16zM607 610h8v10h-8zM761 610h16v10h-16zM817 610h17v10h-17zM858 610h16v10h-16zM428 620h9v11h-9zM518 620h8v11h-8zM793 620h8v11h-8zM809 620h8v11h-8zM825 620h9v11h-9zM882 620h8v11h-8zM906 620h8v11h-8zM518 631h8v11h-8zM647 631h16v11h-16zM688 631h8v11h-8zM785 631h49v11h-49zM858 631h8v11h-8zM874 631h16v11h-16zM526 642h8v10h-8zM582 642h17v10h-17zM631 642h8v10h-8zM688 642h8v10h-8zM704 642h16v10h-16zM777 642h8v10h-8zM809 642h16v10h-16zM850 642h8v10h-8zM890 642h8v10h-8zM526 652h8v11h-8zM550 652h8v11h-8zM582 652h17v11h-17zM631 652h16v11h-16zM680 652h16v11h-16zM720 652h8v11h-8zM809 652h8v11h-8zM850 652h8v11h-8zM501 663h17v11h-17zM526 663h16v11h-16zM550 663h49v11h-49zM655 663h8v11h-8zM672 663h8v11h-8zM834 663h8v11h-8zM518 674h24v11h-24zM566 674h8v11h-8zM582 674h17v11h-17zM647 674h8v11h-8zM663 674h9v11h-9zM688 674h8v11h-8zM744 674h8v11h-8zM842 674h16v11h-16zM518 685h16v10h-16zM558 685h8v10h-8zM631 685h24v10h-24zM728 685h8v10h-8zM752 685h9v10h-9zM809 685h8v10h-8zM825 685h9v10h-9zM518 695h8v11h-8zM534 695h8v11h-8zM607 695h8v11h-8zM631 695h16v11h-16zM696 695h8v11h-8zM712 695h8v11h-8zM728 695h16v11h-16zM817 695h17v11h-17zM590 706h9v11h-9zM663 706h17v11h-17zM712 706h8v11h-8zM752 706h9v11h-9zM801 706h8v11h-8zM526 717h16v10h-16zM566 717h8v10h-8zM712 717h16v10h-16zM534 727h8v11h-8zM696 727h24v11h-24zM736 727h8v11h-8zM744 749h8v11h-8zM728 760h8v10h-8zM744 760h8v10h-8zM736 781h8v11h-8z"/>
<path fill="#5afaff" d="M858 64h8v11h-8zM809 75h8v10h-8zM817 85h8v11h-8zM850 85h8v11h-8zM817 107h8v10h-8zM858 128h8v11h-8zM987 128h9v11h-9zM793 139h8v11h-8zM809 139h8v11h-8zM858 139h16v11h-16zM987 139h17v11h-17zM979 150h8v10h-8zM380 160h8v11h-8zM898 160h16v11h-16zM971 160h16v11h-16zM996 160h8v11h-8zM793 171h8v11h-8zM1020 171h8v11h-8zM315 182h8v10h-8zM825 182h9v10h-9zM339 192h17v11h-17zM858 192h8v11h-8zM866 203h8v11h-8zM987 203h9v11h-9zM307 214h8v10h-8zM404 214h8v10h-8zM898 214h8v10h-8zM979 214h17v10h-17zM339 224h17v11h-17zM971 224h8v11h-8zM987 224h17v11h-17zM339 235h17v11h-17zM404 235h16v11h-16zM777 235h16v11h-16zM963 235h8v11h-8zM339 246h9v11h-9zM404 246h8v11h-8zM728 246h16v11h-16zM777 246h16v11h-16zM809 246h8v11h-8zM356 257h16v10h-16zM388 257h8v10h-8zM866 257h8v10h-8zM890 257h8v10h-8zM906 257h17v10h-17zM947 257h16v10h-16zM275 267h8v11h-8zM299 267h8v11h-8zM356 267h16v11h-16zM485 267h8v11h-8zM744 267h8v11h-8zM890 267h16v11h-16zM914 267h9v11h-9zM194 278h16v11h-16zM242 278h16v11h-16zM323 278h8v11h-8zM356 278h8v11h-8zM728 278h8v11h-8zM866 278h16v11h-16zM218 289h8v10h-8zM242 289h8v10h-8zM437 289h8v10h-8zM720 289h8v10h-8zM809 289h8v10h-8zM882 289h16v10h-16zM412 299h16v11h-16zM485 299h16v11h-16zM752 299h9v11h-9zM842 299h8v11h-8zM169 310h8v11h-8zM234 310h8v11h-8zM453 310h8v11h-8zM485 310h16v11h-16zM582 310h17v11h-17zM647 310h8v11h-8zM696 310h8v11h-8zM736 310h8v11h-8zM842 310h16v11h-16zM299 321h8v11h-8zM477 321h8v11h-8zM866 321h8v11h-8zM858 332h8v10h-8zM890 332h16v10h-16zM153 342h8v11h-8zM258 342h8v11h-8zM291 342h8v11h-8zM445 342h8v11h-8zM461 342h8v11h-8zM769 342h8v11h-8zM461 353h8v11h-8zM647 353h8v11h-8zM672 353h8v11h-8zM761 353h8v11h-8zM275 364h8v10h-8zM550 364h8v10h-8zM631 364h8v10h-8zM655 364h8v10h-8zM696 364h16v10h-16zM761 364h32v10h-32zM631 374h8v11h-8zM672 374h8v11h-8zM704 374h8v11h-8zM785 374h8v11h-8zM882 374h8v11h-8zM161 385h16v11h-16zM453 385h8v11h-8zM842 385h8v11h-8zM647 396h16v10h-16zM445 406h8v11h-8zM477 406h8v11h-8zM590 406h9v11h-9zM647 406h16v11h-16zM728 406h8v11h-8zM825 406h9v11h-9zM372 428h8v10h-8zM404 428h8v10h-8zM631 428h16v10h-16zM720 428h8v10h-8zM761 428h8v10h-8zM793 428h8v10h-8zM323 438h8v11h-8zM380 438h8v11h-8zM485 438h8v11h-8zM550 438h8v11h-8zM639 438h8v11h-8zM712 438h8v11h-8zM299 449h8v11h-8zM404 449h33v11h-33zM607 449h8v11h-8zM744 449h8v11h-8zM785 449h8v11h-8zM858 449h16v11h-16zM210 460h8v11h-8zM356 460h8v11h-8zM404 460h24v11h-24zM510 460h8v11h-8zM582 460h8v11h-8zM631 460h8v11h-8zM858 460h16v11h-16zM258 471h8v10h-8zM364 471h8v10h-8zM453 471h8v10h-8zM485 471h16v10h-16zM518 471h8v10h-8zM599 471h16v10h-16zM858 471h8v10h-8zM186 481h8v11h-8zM380 481h8v11h-8zM453 481h16v11h-16zM485 481h16v11h-16zM599 481h16v11h-16zM809 481h8v11h-8zM299 492h8v11h-8zM477 492h16v11h-16zM566 492h16v11h-16zM834 492h8v11h-8zM914 492h9v11h-9zM291 503h16v10h-16zM315 503h8v10h-8zM461 503h8v10h-8zM493 503h25v10h-25zM566 503h16v10h-16zM202 513h8v11h-8zM218 513h8v11h-8zM258 513h17v11h-17zM356 513h8v11h-8zM542 513h8v11h-8zM785 513h8v11h-8zM558 524h8v11h-8zM898 524h8v11h-8zM258 535h8v11h-8zM348 535h8v11h-8zM639 535h8v11h-8zM388 546h8v10h-8zM428 546h9v10h-9zM566 546h8v10h-8zM858 546h8v10h-8zM914 546h9v10h-9zM315 556h8v11h-8zM372 556h8v11h-8zM445 556h8v11h-8zM696 556h16v11h-16zM428 567h9v11h-9zM752 567h9v11h-9zM882 567h8v11h-8zM923 567h8v11h-8zM331 578h8v10h-8zM501 578h9v10h-9zM526 578h8v10h-8zM631 578h16v10h-16zM493 588h25v11h-25zM639 588h8v11h-8zM550 599h8v11h-8zM574 599h25v11h-25zM647 599h8v11h-8zM663 599h9v11h-9zM680 599h16v11h-16zM420 610h8v10h-8zM534 610h8v10h-8zM590 610h9v10h-9zM688 610h8v10h-8zM639 620h8v11h-8zM736 620h8v11h-8zM761 620h8v11h-8zM728 631h16v11h-16zM696 652h8v11h-8zM688 663h8v11h-8zM510 685h8v10h-8zM590 695h9v11h-9zM655 695h8v11h-8zM526 706h8v11h-8zM599 706h16v11h-16zM688 706h8v11h-8zM599 717h8v10h-8zM680 717h16v10h-16zM728 727h8v11h-8z"/>
<path fill="#ffab6b" d="M834 64h8v11h-8zM834 75h8v10h-8zM842 85h8v11h-8zM890 85h8v11h-8zM898 96h8v11h-8zM923 117h8v11h-8zM801 128h8v11h-8zM825 128h9v11h-9zM874 128h16v11h-16zM923 128h8v11h-8zM955 128h16v11h-16zM1004 128h8v11h-8zM769 139h8v11h-8zM801 139h8v11h-8zM882 139h8v11h-8zM914 139h9v11h-9zM769 150h8v10h-8zM809 150h16v10h-16zM809 160h8v11h-8zM842 160h16v11h-16zM866 160h8v11h-8zM955 160h8v11h-8zM356 171h8v11h-8zM882 171h8v11h-8zM923 171h8v11h-8zM939 171h8v11h-8zM412 182h8v10h-8zM874 182h16v10h-16zM939 182h8v10h-8zM955 182h16v10h-16zM979 182h8v10h-8zM428 192h9v11h-9zM882 192h16v11h-16zM906 192h8v11h-8zM987 192h9v11h-9zM396 203h8v11h-8zM428 203h9v11h-9zM817 203h8v11h-8zM898 203h8v11h-8zM315 214h8v10h-8zM825 214h9v10h-9zM971 214h8v10h-8zM1004 214h8v10h-8zM372 224h8v11h-8zM404 224h8v11h-8zM801 224h8v11h-8zM866 224h8v11h-8zM1004 224h8v11h-8zM364 235h8v11h-8zM420 235h8v11h-8zM801 235h24v11h-24zM914 235h9v11h-9zM348 246h8v11h-8zM412 246h8v11h-8zM445 246h8v11h-8zM793 246h8v11h-8zM914 246h9v11h-9zM412 257h8v10h-8zM445 257h8v10h-8zM793 257h8v10h-8zM931 257h8v10h-8zM291 267h8v11h-8zM428 267h17v11h-17zM955 267h8v11h-8zM194 289h8v10h-8zM906 289h8v10h-8zM258 299h8v11h-8zM372 299h8v11h-8zM339 310h9v11h-9zM396 310h8v11h-8zM542 310h8v11h-8zM712 310h16v11h-16zM202 321h16v11h-16zM380 321h8v11h-8zM210 332h16v10h-16zM323 332h8v10h-8zM210 342h8v11h-8zM250 342h8v11h-8zM453 342h8v11h-8zM469 342h16v11h-16zM542 342h8v11h-8zM663 342h9v11h-9zM720 342h8v11h-8zM153 353h8v11h-8zM177 353h17v11h-17zM218 353h8v11h-8zM331 353h8v11h-8zM453 353h8v11h-8zM477 353h8v11h-8zM582 353h8v11h-8zM688 353h8v11h-8zM850 353h8v11h-8zM194 364h8v10h-8zM299 364h8v10h-8zM339 364h9v10h-9zM404 364h24v10h-24zM477 364h8v10h-8zM493 364h8v10h-8zM736 364h8v10h-8zM809 364h8v10h-8zM177 374h17v11h-17zM339 374h17v11h-17zM404 374h16v11h-16zM428 374h9v11h-9zM453 374h8v11h-8zM477 374h8v11h-8zM680 374h8v11h-8zM890 374h16v11h-16zM242 385h16v11h-16zM339 385h17v11h-17zM372 385h8v11h-8zM404 385h8v11h-8zM477 385h16v11h-16zM242 396h16v10h-16zM275 396h8v10h-8zM339 396h9v10h-9zM372 396h16v10h-16zM469 396h8v10h-8zM485 396h8v10h-8zM501 396h9v10h-9zM744 396h8v10h-8zM283 406h8v11h-8zM331 406h8v11h-8zM356 406h8v11h-8zM599 406h16v11h-16zM356 417h16v11h-16zM607 417h8v11h-8zM663 417h9v11h-9zM266 428h9v10h-9zM663 428h9v10h-9zM850 428h16v10h-16zM258 438h8v11h-8zM283 438h8v11h-8zM574 438h8v11h-8zM607 438h8v11h-8zM866 438h16v11h-16zM275 449h16v11h-16zM356 449h16v11h-16zM817 449h8v11h-8zM275 460h16v11h-16zM364 460h8v11h-8zM526 460h8v11h-8zM663 460h9v11h-9zM202 481h8v11h-8zM696 481h16v11h-16zM728 481h8v11h-8zM186 492h8v11h-8zM404 492h16v11h-16zM906 492h8v11h-8zM412 503h8v10h-8zM428 513h9v11h-9zM501 513h17v11h-17zM631 513h8v11h-8zM404 524h8v11h-8zM428 524h9v11h-9zM501 524h17v11h-17zM631 524h8v11h-8zM793 524h8v11h-8zM858 524h8v11h-8zM890 524h8v11h-8zM469 535h8v11h-8zM712 535h8v11h-8zM769 535h8v11h-8zM412 546h8v10h-8zM485 546h8v10h-8zM777 546h8v10h-8zM485 556h16v11h-16zM534 556h16v11h-16zM461 567h8v11h-8zM485 567h8v11h-8zM534 567h16v11h-16zM582 567h8v11h-8zM639 567h8v11h-8zM696 567h16v11h-16zM712 578h8v10h-8zM599 588h8v11h-8zM761 588h8v11h-8zM728 599h16v11h-16zM777 599h8v11h-8zM874 610h8v10h-8zM566 620h16v11h-16zM615 620h8v11h-8zM566 631h16v11h-16zM672 631h8v11h-8zM696 631h8v11h-8zM728 642h8v10h-8zM744 652h8v11h-8zM825 652h9v11h-9zM647 663h8v11h-8zM550 674h8v11h-8zM655 674h8v11h-8zM680 674h8v11h-8zM769 685h8v10h-8zM761 695h16v11h-16zM793 706h8v11h-8zM672 717h8v10h-8z"/>
<path fill="#ff7c52" d="M874 53h8v11h-8zM793 203h8v11h-8zM809 214h16v10h-16zM809 224h16v11h-16zM428 246h9v11h-9zM801 246h8v11h-8zM445 267h8v11h-8zM186 299h8v11h-8zM177 310h9v11h-9zM210 310h8v11h-8zM493 332h8v10h-8zM420 342h8v11h-8zM299 353h8v11h-8zM323 353h8v11h-8zM396 353h8v11h-8zM186 364h8v10h-8zM291 364h8v10h-8zM372 364h8v10h-8zM396 364h8v10h-8zM437 364h32v10h-32zM501 364h9v10h-9zM518 364h8v10h-8zM194 374h16v11h-16zM299 374h8v11h-8zM315 374h8v11h-8zM380 374h24v11h-24zM420 374h8v11h-8zM437 374h8v11h-8zM437 385h8v11h-8zM226 396h8v10h-8zM437 396h24v10h-24zM234 406h8v11h-8zM307 406h8v11h-8zM339 406h17v11h-17zM396 406h8v11h-8zM218 417h24v11h-24zM283 417h16v11h-16zM339 417h17v11h-17zM299 438h8v11h-8zM348 438h16v11h-16zM299 460h8v11h-8zM348 460h8v11h-8zM307 471h8v10h-8zM744 567h8v11h-8zM744 578h17v10h-17zM744 588h8v11h-8zM720 599h8v11h-8z"/>
<path fill="#00b4ff" d="M882 85h8v11h-8zM834 107h8v10h-8zM939 139h8v11h-8zM850 150h8v10h-8zM874 150h16v10h-16zM923 160h8v11h-8zM396 171h16v11h-16zM858 171h8v11h-8zM947 171h8v11h-8zM396 182h16v10h-16zM793 182h8v10h-8zM947 182h8v10h-8zM987 182h9v10h-9zM356 192h16v11h-16zM866 192h8v11h-8zM939 192h16v11h-16zM356 203h16v11h-16zM388 203h8v11h-8zM809 203h8v11h-8zM842 203h8v11h-8zM939 203h16v11h-16zM971 203h8v11h-8zM283 214h24v10h-24zM331 214h8v10h-8zM380 214h8v10h-8zM396 214h8v10h-8zM931 214h8v10h-8zM955 214h16v10h-16zM275 224h8v11h-8zM299 224h8v11h-8zM356 224h8v11h-8zM963 224h8v11h-8zM299 235h8v11h-8zM931 235h8v11h-8zM987 235h9v11h-9zM299 246h8v11h-8zM323 246h8v11h-8zM372 246h8v11h-8zM963 246h8v11h-8zM987 246h9v11h-9zM850 257h8v10h-8zM307 267h8v11h-8zM850 267h16v11h-16zM210 278h16v11h-16zM307 278h16v11h-16zM339 278h9v11h-9zM372 278h8v11h-8zM761 278h8v11h-8zM842 278h8v11h-8zM882 278h16v11h-16zM939 278h16v11h-16zM169 289h8v10h-8zM315 289h8v10h-8zM372 289h16v10h-16zM704 289h8v10h-8zM761 289h16v10h-16zM858 289h16v10h-16zM939 289h8v10h-8zM161 299h16v11h-16zM226 299h16v11h-16zM323 299h8v11h-8zM761 299h16v11h-16zM825 299h17v11h-17zM850 299h8v11h-8zM655 310h17v11h-17zM825 310h17v11h-17zM858 310h8v11h-8zM890 310h16v11h-16zM275 321h16v11h-16zM307 321h8v11h-8zM420 321h8v11h-8zM631 321h16v11h-16zM834 321h8v11h-8zM161 332h8v10h-8zM275 332h16v10h-16zM396 332h8v10h-8zM566 332h8v10h-8zM631 332h8v10h-8zM809 332h8v10h-8zM825 332h9v10h-9zM348 342h8v11h-8zM777 342h8v11h-8zM680 353h8v11h-8zM752 353h9v11h-9zM364 374h8v11h-8zM485 374h8v11h-8zM275 385h8v11h-8zM323 385h8v11h-8zM356 385h8v11h-8zM615 385h16v11h-16zM825 385h9v11h-9zM615 396h16v10h-16zM850 396h8v10h-8zM372 406h8v11h-8zM437 406h8v11h-8zM518 406h8v11h-8zM680 406h8v11h-8zM712 406h8v11h-8zM874 406h16v11h-16zM420 417h8v11h-8zM437 417h8v11h-8zM518 417h16v11h-16zM712 417h16v11h-16zM874 417h8v11h-8zM364 428h8v10h-8zM420 428h17v10h-17zM590 428h9v10h-9zM728 428h8v10h-8zM218 438h8v11h-8zM420 438h17v11h-17zM728 438h16v11h-16zM809 438h8v11h-8zM882 438h8v11h-8zM210 449h16v11h-16zM258 449h8v11h-8zM437 449h8v11h-8zM453 449h8v11h-8zM550 449h8v11h-8zM258 460h17v11h-17zM428 460h25v11h-25zM688 460h8v11h-8zM793 460h8v11h-8zM226 471h8v10h-8zM380 471h8v10h-8zM404 471h8v10h-8zM291 481h16v11h-16zM404 481h8v11h-8zM437 481h16v11h-16zM680 481h8v11h-8zM242 492h8v11h-8zM680 492h8v11h-8zM712 492h24v11h-24zM250 503h8v10h-8zM485 503h8v10h-8zM712 503h8v10h-8zM388 513h16v11h-16zM412 513h8v11h-8zM485 513h16v11h-16zM566 513h8v11h-8zM582 513h17v11h-17zM607 513h24v11h-24zM396 524h8v11h-8zM412 524h8v11h-8zM493 524h8v11h-8zM590 524h9v11h-9zM615 524h16v11h-16zM291 535h8v11h-8zM647 535h16v11h-16zM696 535h8v11h-8zM275 546h8v10h-8zM291 546h8v10h-8zM639 546h33v10h-33zM769 546h8v10h-8zM850 546h8v10h-8zM396 556h8v11h-8zM680 556h16v11h-16zM331 567h8v11h-8zM688 567h8v11h-8zM323 578h8v10h-8zM356 578h8v10h-8zM380 578h8v10h-8zM518 578h8v10h-8zM793 578h16v10h-16zM914 578h9v10h-9zM323 588h8v11h-8zM364 588h8v11h-8zM380 588h8v11h-8zM518 588h8v11h-8zM858 588h8v11h-8zM510 599h8v11h-8zM809 599h8v11h-8zM445 610h8v10h-8zM599 610h8v10h-8zM850 620h8v11h-8zM534 631h8v11h-8zM842 631h8v11h-8zM720 642h8v10h-8zM736 642h8v10h-8zM736 652h8v11h-8zM542 663h8v11h-8zM858 663h16v11h-16zM501 674h9v11h-9zM801 674h8v11h-8zM809 695h8v11h-8zM631 706h8v11h-8zM744 706h8v11h-8zM777 706h16v11h-16zM752 717h9v10h-9zM777 717h8v10h-8zM582 727h8v11h-8zM680 727h8v11h-8zM582 738h8v11h-8z"/>
<path fill="#0088ff" d="M882 64h8v11h-8zM850 75h8v10h-8zM874 75h8v10h-8zM874 96h16v11h-16zM874 117h8v11h-8zM817 128h8v11h-8zM834 128h8v11h-8zM834 139h8v11h-8zM906 150h33v10h-33zM914 160h9v11h-9zM931 160h8v11h-8zM761 171h8v11h-8zM931 171h8v11h-8zM315 192h8v11h-8zM914 192h9v11h-9zM323 203h8v11h-8zM906 203h17v11h-17zM1004 203h8v11h-8zM372 214h8v10h-8zM923 214h8v10h-8zM331 224h8v11h-8zM380 224h8v11h-8zM923 224h8v11h-8zM939 224h8v11h-8zM275 235h8v11h-8zM323 235h16v11h-16zM874 235h8v11h-8zM890 235h16v11h-16zM275 246h24v11h-24zM331 246h8v11h-8zM825 246h9v11h-9zM842 246h8v11h-8zM882 246h8v11h-8zM898 246h8v11h-8zM266 257h9v10h-9zM283 257h8v10h-8zM299 257h24v10h-24zM404 257h8v10h-8zM874 257h8v10h-8zM971 257h8v10h-8zM987 257h9v10h-9zM258 267h8v11h-8zM283 267h8v11h-8zM372 267h8v11h-8zM412 267h8v11h-8zM809 267h8v11h-8zM834 267h16v11h-16zM866 267h16v11h-16zM971 267h8v11h-8zM825 278h17v11h-17zM850 278h16v11h-16zM898 278h8v11h-8zM955 278h8v11h-8zM307 289h8v10h-8zM825 289h33v10h-33zM266 299h9v11h-9zM380 299h8v11h-8zM898 299h8v11h-8zM348 310h8v11h-8zM372 310h16v11h-16zM914 310h9v11h-9zM339 321h9v11h-9zM647 321h16v11h-16zM672 321h8v11h-8zM299 332h8v10h-8zM339 332h9v10h-9zM364 332h8v10h-8zM388 332h8v10h-8zM647 332h8v10h-8zM663 332h33v10h-33zM226 342h8v11h-8zM275 342h16v11h-16zM323 342h16v11h-16zM364 342h8v11h-8zM655 342h8v11h-8zM680 342h8v11h-8zM275 353h16v11h-16zM307 353h8v11h-8zM226 364h8v10h-8zM307 364h8v10h-8zM728 374h8v11h-8zM631 385h16v11h-16zM696 385h16v11h-16zM510 396h8v10h-8zM631 396h16v10h-16zM704 396h8v10h-8zM364 406h8v11h-8zM453 406h8v11h-8zM623 406h8v11h-8zM672 406h8v11h-8zM696 406h8v11h-8zM396 417h8v11h-8zM445 417h8v11h-8zM485 417h8v11h-8zM615 417h16v11h-16zM672 417h8v11h-8zM842 417h8v11h-8zM202 428h8v10h-8zM412 428h8v10h-8zM461 428h8v10h-8zM672 428h8v10h-8zM785 428h8v10h-8zM202 438h8v11h-8zM412 438h8v11h-8zM461 438h8v11h-8zM558 438h8v11h-8zM663 438h17v11h-17zM388 449h16v11h-16zM720 449h8v11h-8zM372 460h8v11h-8zM388 460h16v11h-16zM566 460h16v11h-16zM177 471h9v10h-9zM299 471h8v10h-8zM275 481h8v11h-8zM323 481h8v11h-8zM793 481h8v11h-8zM218 492h8v11h-8zM331 492h8v11h-8zM550 492h16v11h-16zM323 503h16v10h-16zM550 503h16v10h-16zM275 513h16v11h-16zM299 513h8v11h-8zM323 513h16v11h-16zM599 513h8v11h-8zM275 524h16v11h-16zM299 524h32v11h-32zM599 524h16v11h-16zM307 535h8v11h-8zM356 535h8v11h-8zM607 535h8v11h-8zM744 535h8v11h-8zM258 546h8v10h-8zM307 546h8v10h-8zM339 546h9v10h-9zM356 546h16v10h-16zM736 546h8v10h-8zM323 556h8v11h-8zM655 556h8v11h-8zM339 567h17v11h-17zM914 567h9v11h-9zM348 578h8v10h-8zM428 578h17v10h-17zM331 588h8v11h-8zM372 588h8v11h-8zM607 599h8v11h-8z"/>
<path fill="#0050ff" d="M825 139h9v11h-9zM890 150h8v10h-8zM874 192h8v11h-8zM874 203h16v11h-16zM825 257h9v10h-9zM963 257h8v10h-8zM963 267h8v11h-8zM898 289h8v10h-8zM866 299h8v11h-8zM364 310h8v11h-8zM672 310h8v11h-8zM412 321h8v11h-8zM663 321h9v11h-9zM680 321h24v11h-24zM291 332h8v10h-8zM331 332h8v10h-8zM696 332h8v10h-8zM299 342h24v11h-24zM339 342h9v11h-9zM291 353h8v11h-8zM315 353h8v11h-8zM485 406h8v11h-8zM493 417h8v11h-8zM558 460h8v11h-8zM542 481h8v11h-8zM291 513h8v11h-8zM574 513h8v11h-8zM339 535h9v11h-9zM736 535h8v11h-8zM299 546h8v10h-8zM348 546h8v10h-8zM283 556h16v11h-16zM331 556h8v11h-8zM437 556h8v11h-8zM283 567h16v11h-16zM364 567h8v11h-8zM412 567h8v11h-8zM437 567h8v11h-8zM364 578h16v10h-16zM420 578h8v10h-8zM420 588h17v11h-17z"/>
<path fill="#ff0a28" d="M931 117h8v11h-8zM834 214h8v10h-8zM428 224h9v11h-9zM825 224h17v11h-17zM769 235h8v11h-8zM437 246h8v11h-8zM469 257h8v10h-8zM420 267h8v11h-8zM428 278h9v11h-9zM202 289h16v10h-16zM339 299h25v11h-25zM906 299h17v11h-17zM186 310h8v11h-8zM801 310h8v11h-8zM906 310h8v11h-8zM177 321h25v11h-25zM177 332h33v10h-33zM177 342h33v11h-33zM194 353h8v11h-8zM348 353h8v11h-8zM372 353h8v11h-8zM412 353h8v11h-8zM485 353h8v11h-8zM177 364h9v10h-9zM356 364h16v10h-16zM388 364h8v10h-8zM356 374h8v11h-8zM364 385h8v11h-8zM445 385h8v11h-8zM218 406h16v11h-16zM315 406h16v11h-16zM299 417h40v11h-40zM226 428h16v10h-16zM291 428h65v10h-65zM226 438h16v11h-16zM250 438h8v11h-8zM291 438h8v11h-8zM307 438h16v11h-16zM331 438h17v11h-17zM307 449h49v11h-49zM307 460h41v11h-41zM380 460h8v11h-8zM315 471h24v10h-24zM194 481h8v11h-8zM266 481h9v11h-9zM307 481h16v11h-16zM331 481h8v11h-8zM194 492h16v11h-16zM250 524h16v11h-16zM728 556h24v11h-24zM728 567h16v11h-16zM720 578h24v10h-24zM728 588h16v11h-16zM720 610h16v10h-16zM752 620h9v11h-9z"/>
</g>
<use href="#land" fill="none" stroke="#9a9a9a" stroke-width="1.6"/>
<polygon points="945,627 955,632 954,649 949,677.5 942,698 930,688 925,671 932,649" fill="none" stroke="#9a9a9a" stroke-width="1.2"/>
<use href="#rivers"/>
<use href="#grat"/>
<rect x="140" y="630" width="129.5" height="196" fill="#fff" stroke="#22222e" stroke-width="3"/>
<rect x="271" y="631" width="2" height="197" fill="#666870"/>
<use href="#insetc"/>
<rect x="139.2" y="20.4" width="897.3" height="808.2" fill="none" stroke="#000" stroke-width="2.6"/>
</g>
<text transform="translate(210.15,119.4) scale(0.949,1)" font-size="57">(a)SPI1</text>
<text transform="translate(1121.67,119.4) scale(1.0,1)" font-size="57">(b)SPI3</text>
<text transform="translate(209.97,951.7) scale(1.0,1)" font-size="57">(c)SPI6</text>
<text transform="translate(1129.22,951.5) scale(0.986,1)" font-size="57">(d)SPI12</text>
<line x1="129" y1="110" x2="139" y2="110" stroke="#000" stroke-width="2.2"/>
<text transform="translate(23.40,78.70) rotate(13)" x="-11.82" y="14.79" font-size="43">4</text>
<text transform="translate(49.00,86.80) rotate(13)" x="-11.96" y="14.80" font-size="43">8</text>
<text transform="translate(76.50,82.50) rotate(15)" x="-10.01" y="9.51" font-size="36">o</text>
<text transform="translate(97.00,107.00) rotate(15)" x="-16.98" y="16.17" font-size="47">N</text>
<line x1="129" y1="288.6" x2="139" y2="288.6" stroke="#000" stroke-width="2.2"/>
<text transform="translate(21.50,263.60) rotate(13)" x="-11.82" y="14.79" font-size="43">4</text>
<text transform="translate(46.50,270.90) rotate(13)" x="-11.96" y="14.80" font-size="43">0</text>
<text transform="translate(76.00,266.00) rotate(15)" x="-10.01" y="9.51" font-size="36">o</text>
<text transform="translate(97.50,287.00) rotate(15)" x="-16.98" y="16.17" font-size="47">N</text>
<line x1="129" y1="462.7" x2="139" y2="462.7" stroke="#000" stroke-width="2.2"/>
<text transform="translate(19.50,443.00) rotate(13)" x="-11.83" y="14.80" font-size="43">3</text>
<text transform="translate(45.30,451.00) rotate(13)" x="-11.96" y="15.01" font-size="43">2</text>
<text transform="translate(75.40,442.00) rotate(15)" x="-10.01" y="9.51" font-size="36">o</text>
<text transform="translate(96.00,465.00) rotate(15)" x="-16.98" y="16.17" font-size="47">N</text>
<line x1="129" y1="635" x2="139" y2="635" stroke="#000" stroke-width="2.2"/>
<text transform="translate(20.80,619.90) rotate(13)" x="-11.96" y="15.01" font-size="43">2</text>
<text transform="translate(45.10,624.50) rotate(13)" x="-11.82" y="14.79" font-size="43">4</text>
<text transform="translate(74.80,617.30) rotate(15)" x="-10.01" y="9.51" font-size="36">o</text>
<text transform="translate(98.90,638.00) rotate(15)" x="-16.98" y="16.17" font-size="47">N</text>
<line x1="129" y1="801" x2="139" y2="801" stroke="#000" stroke-width="2.2"/>
<text transform="translate(20.40,787.20) rotate(13)" x="-12.55" y="14.79" font-size="43">1</text>
<text transform="translate(44.80,793.10) rotate(13)" x="-12.10" y="14.80" font-size="43">6</text>
<text transform="translate(72.20,782.50) rotate(15)" x="-10.01" y="9.51" font-size="36">o</text>
<text transform="translate(96.20,802.40) rotate(15)" x="-16.98" y="16.17" font-size="47">N</text>
<line x1="129" y1="937" x2="139" y2="937" stroke="#000" stroke-width="2.2"/>
<text transform="translate(23.40,905.70) rotate(13)" x="-11.82" y="14.79" font-size="43">4</text>
<text transform="translate(49.00,913.80) rotate(13)" x="-11.96" y="14.80" font-size="43">8</text>
<text transform="translate(76.50,909.50) rotate(15)" x="-10.01" y="9.51" font-size="36">o</text>
<text transform="translate(97.00,934.00) rotate(15)" x="-16.98" y="16.17" font-size="47">N</text>
<line x1="129" y1="1115.6" x2="139" y2="1115.6" stroke="#000" stroke-width="2.2"/>
<text transform="translate(21.50,1090.60) rotate(13)" x="-11.82" y="14.79" font-size="43">4</text>
<text transform="translate(46.50,1097.90) rotate(13)" x="-11.96" y="14.80" font-size="43">0</text>
<text transform="translate(76.00,1093.00) rotate(15)" x="-10.01" y="9.51" font-size="36">o</text>
<text transform="translate(97.50,1114.00) rotate(15)" x="-16.98" y="16.17" font-size="47">N</text>
<line x1="129" y1="1289.7" x2="139" y2="1289.7" stroke="#000" stroke-width="2.2"/>
<text transform="translate(19.50,1270.00) rotate(13)" x="-11.83" y="14.80" font-size="43">3</text>
<text transform="translate(45.30,1278.00) rotate(13)" x="-11.96" y="15.01" font-size="43">2</text>
<text transform="translate(75.40,1269.00) rotate(15)" x="-10.01" y="9.51" font-size="36">o</text>
<text transform="translate(96.00,1292.00) rotate(15)" x="-16.98" y="16.17" font-size="47">N</text>
<line x1="129" y1="1462" x2="139" y2="1462" stroke="#000" stroke-width="2.2"/>
<text transform="translate(20.80,1446.90) rotate(13)" x="-11.96" y="15.01" font-size="43">2</text>
<text transform="translate(45.10,1451.50) rotate(13)" x="-11.82" y="14.79" font-size="43">4</text>
<text transform="translate(74.80,1444.30) rotate(15)" x="-10.01" y="9.51" font-size="36">o</text>
<text transform="translate(98.90,1465.00) rotate(15)" x="-16.98" y="16.17" font-size="47">N</text>
<line x1="129" y1="1628" x2="139" y2="1628" stroke="#000" stroke-width="2.2"/>
<text transform="translate(20.40,1614.20) rotate(13)" x="-12.55" y="14.79" font-size="43">1</text>
<text transform="translate(44.80,1620.10) rotate(13)" x="-12.10" y="14.80" font-size="43">6</text>
<text transform="translate(72.20,1609.50) rotate(15)" x="-10.01" y="9.51" font-size="36">o</text>
<text transform="translate(96.20,1629.40) rotate(15)" x="-16.98" y="16.17" font-size="47">N</text>
<line x1="348.5" y1="1656" x2="348.5" y2="1664" stroke="#000" stroke-width="2"/>
<text transform="translate(308.10,1703.60) rotate(3.5) scale(0.95,1)" x="-13.06" y="16.18" font-size="47">9</text>
<text transform="translate(335.50,1705.90) rotate(3.5) scale(0.95,1)" x="-13.07" y="16.18" font-size="47">0</text>
<text transform="translate(361.90,1693.60) rotate(3.5) scale(0.95,1)" x="-11.12" y="10.57" font-size="40">o</text>
<text transform="translate(387.20,1709.80) rotate(3.5) scale(0.95,1)" x="-16.59" y="16.17" font-size="47">E</text>
<line x1="647.5" y1="1656" x2="647.5" y2="1664" stroke="#000" stroke-width="2"/>
<text transform="translate(593.10,1707.60) scale(0.95,1)" x="-13.71" y="16.17" font-size="47">1</text>
<text transform="translate(620.60,1707.00) scale(0.95,1)" x="-13.07" y="16.18" font-size="47">0</text>
<text transform="translate(645.90,1707.00) scale(0.95,1)" x="-13.02" y="15.94" font-size="47">5</text>
<text transform="translate(668.90,1691.90) scale(0.95,1)" x="-11.12" y="10.57" font-size="40">o</text>
<text transform="translate(696.40,1705.90) scale(0.95,1)" x="-16.59" y="16.17" font-size="47">E</text>
<line x1="945.2" y1="1656" x2="945.2" y2="1664" stroke="#000" stroke-width="2"/>
<text transform="translate(897.80,1712.40) rotate(-5) scale(0.95,1)" x="-13.71" y="16.17" font-size="47">1</text>
<text transform="translate(924.80,1709.90) rotate(-5) scale(0.95,1)" x="-13.07" y="16.41" font-size="47">2</text>
<text transform="translate(950.80,1707.60) rotate(-5) scale(0.95,1)" x="-13.07" y="16.18" font-size="47">0</text>
<text transform="translate(971.20,1689.00) rotate(-5) scale(0.95,1)" x="-11.12" y="10.57" font-size="40">o</text>
<text transform="translate(998.50,1701.50) rotate(-5) scale(0.95,1)" x="-16.59" y="16.17" font-size="47">E</text>
<line x1="1264.5" y1="1656" x2="1264.5" y2="1664" stroke="#000" stroke-width="2"/>
<text transform="translate(1224.10,1703.60) rotate(3.5) scale(0.95,1)" x="-13.06" y="16.18" font-size="47">9</text>
<text transform="translate(1251.50,1705.90) rotate(3.5) scale(0.95,1)" x="-13.07" y="16.18" font-size="47">0</text>
<text transform="translate(1277.90,1693.60) rotate(3.5) scale(0.95,1)" x="-11.12" y="10.57" font-size="40">o</text>
<text transform="translate(1303.20,1709.80) rotate(3.5) scale(0.95,1)" x="-16.59" y="16.17" font-size="47">E</text>
<line x1="1563.5" y1="1656" x2="1563.5" y2="1664" stroke="#000" stroke-width="2"/>
<text transform="translate(1509.10,1707.60) scale(0.95,1)" x="-13.71" y="16.17" font-size="47">1</text>
<text transform="translate(1536.60,1707.00) scale(0.95,1)" x="-13.07" y="16.18" font-size="47">0</text>
<text transform="translate(1561.90,1707.00) scale(0.95,1)" x="-13.02" y="15.94" font-size="47">5</text>
<text transform="translate(1584.90,1691.90) scale(0.95,1)" x="-11.12" y="10.57" font-size="40">o</text>
<text transform="translate(1612.40,1705.90) scale(0.95,1)" x="-16.59" y="16.17" font-size="47">E</text>
<line x1="1861.2" y1="1656" x2="1861.2" y2="1664" stroke="#000" stroke-width="2"/>
<text transform="translate(1813.80,1712.40) rotate(-5) scale(0.95,1)" x="-13.71" y="16.17" font-size="47">1</text>
<text transform="translate(1840.80,1709.90) rotate(-5) scale(0.95,1)" x="-13.07" y="16.41" font-size="47">2</text>
<text transform="translate(1866.80,1707.60) rotate(-5) scale(0.95,1)" x="-13.07" y="16.18" font-size="47">0</text>
<text transform="translate(1887.20,1689.00) rotate(-5) scale(0.95,1)" x="-11.12" y="10.57" font-size="40">o</text>
<text transform="translate(1914.50,1701.50) rotate(-5) scale(0.95,1)" x="-16.59" y="16.17" font-size="47">E</text>
<rect x="439.60" y="1758" width="104.90" height="50" fill="#0050ff"/>
<rect x="544.10" y="1758" width="102.30" height="50" fill="#0088ff"/>
<rect x="646.00" y="1758" width="102.60" height="50" fill="#00b4ff"/>
<rect x="748.20" y="1758" width="102.00" height="50" fill="#5afaff"/>
<rect x="849.80" y="1758" width="103.80" height="50" fill="#d2ffff"/>
<rect x="953.20" y="1758" width="102.70" height="50" fill="#ffffff"/>
<rect x="1055.50" y="1758" width="102.60" height="50" fill="#ffffff"/>
<rect x="1157.70" y="1758" width="101.80" height="50" fill="#fff0b4"/>
<rect x="1259.10" y="1758" width="104.30" height="50" fill="#ffd596"/>
<rect x="1363.00" y="1758" width="102.20" height="50" fill="#ffab6b"/>
<rect x="1464.80" y="1758" width="102.20" height="50" fill="#ff7c52"/>
<rect x="1566.60" y="1758" width="103.30" height="50" fill="#ff0a28"/>
<rect x="439.6" y="1758" width="1229.9" height="50" fill="none" stroke="#777" stroke-width="1"/>
<line x1="748.20" y1="1758" x2="748.20" y2="1808" stroke="#000" stroke-width="2"/>
<line x1="1055.50" y1="1758" x2="1055.50" y2="1808" stroke="#000" stroke-width="2"/>
<line x1="1363.00" y1="1758" x2="1363.00" y2="1808" stroke="#000" stroke-width="2"/>
<line x1="439.6" y1="1807.5" x2="1669.5" y2="1807.5" stroke="#000" stroke-width="3"/>
<text x="380.9" y="1872.5" font-size="66.5">-30</text>
<text x="585.8" y="1872.5" font-size="66.5">-20</text>
<text x="790.7" y="1872.5" font-size="66.5">-10</text>
<text x="1036.3" y="1872.5" font-size="66.5">0</text>
<text x="1222.7" y="1872.5" font-size="66.5">10</text>
<text x="1427.6" y="1872.5" font-size="66.5">20</text>
<text x="1632.5" y="1872.5" font-size="66.5">30</text>
</svg></body></html>
